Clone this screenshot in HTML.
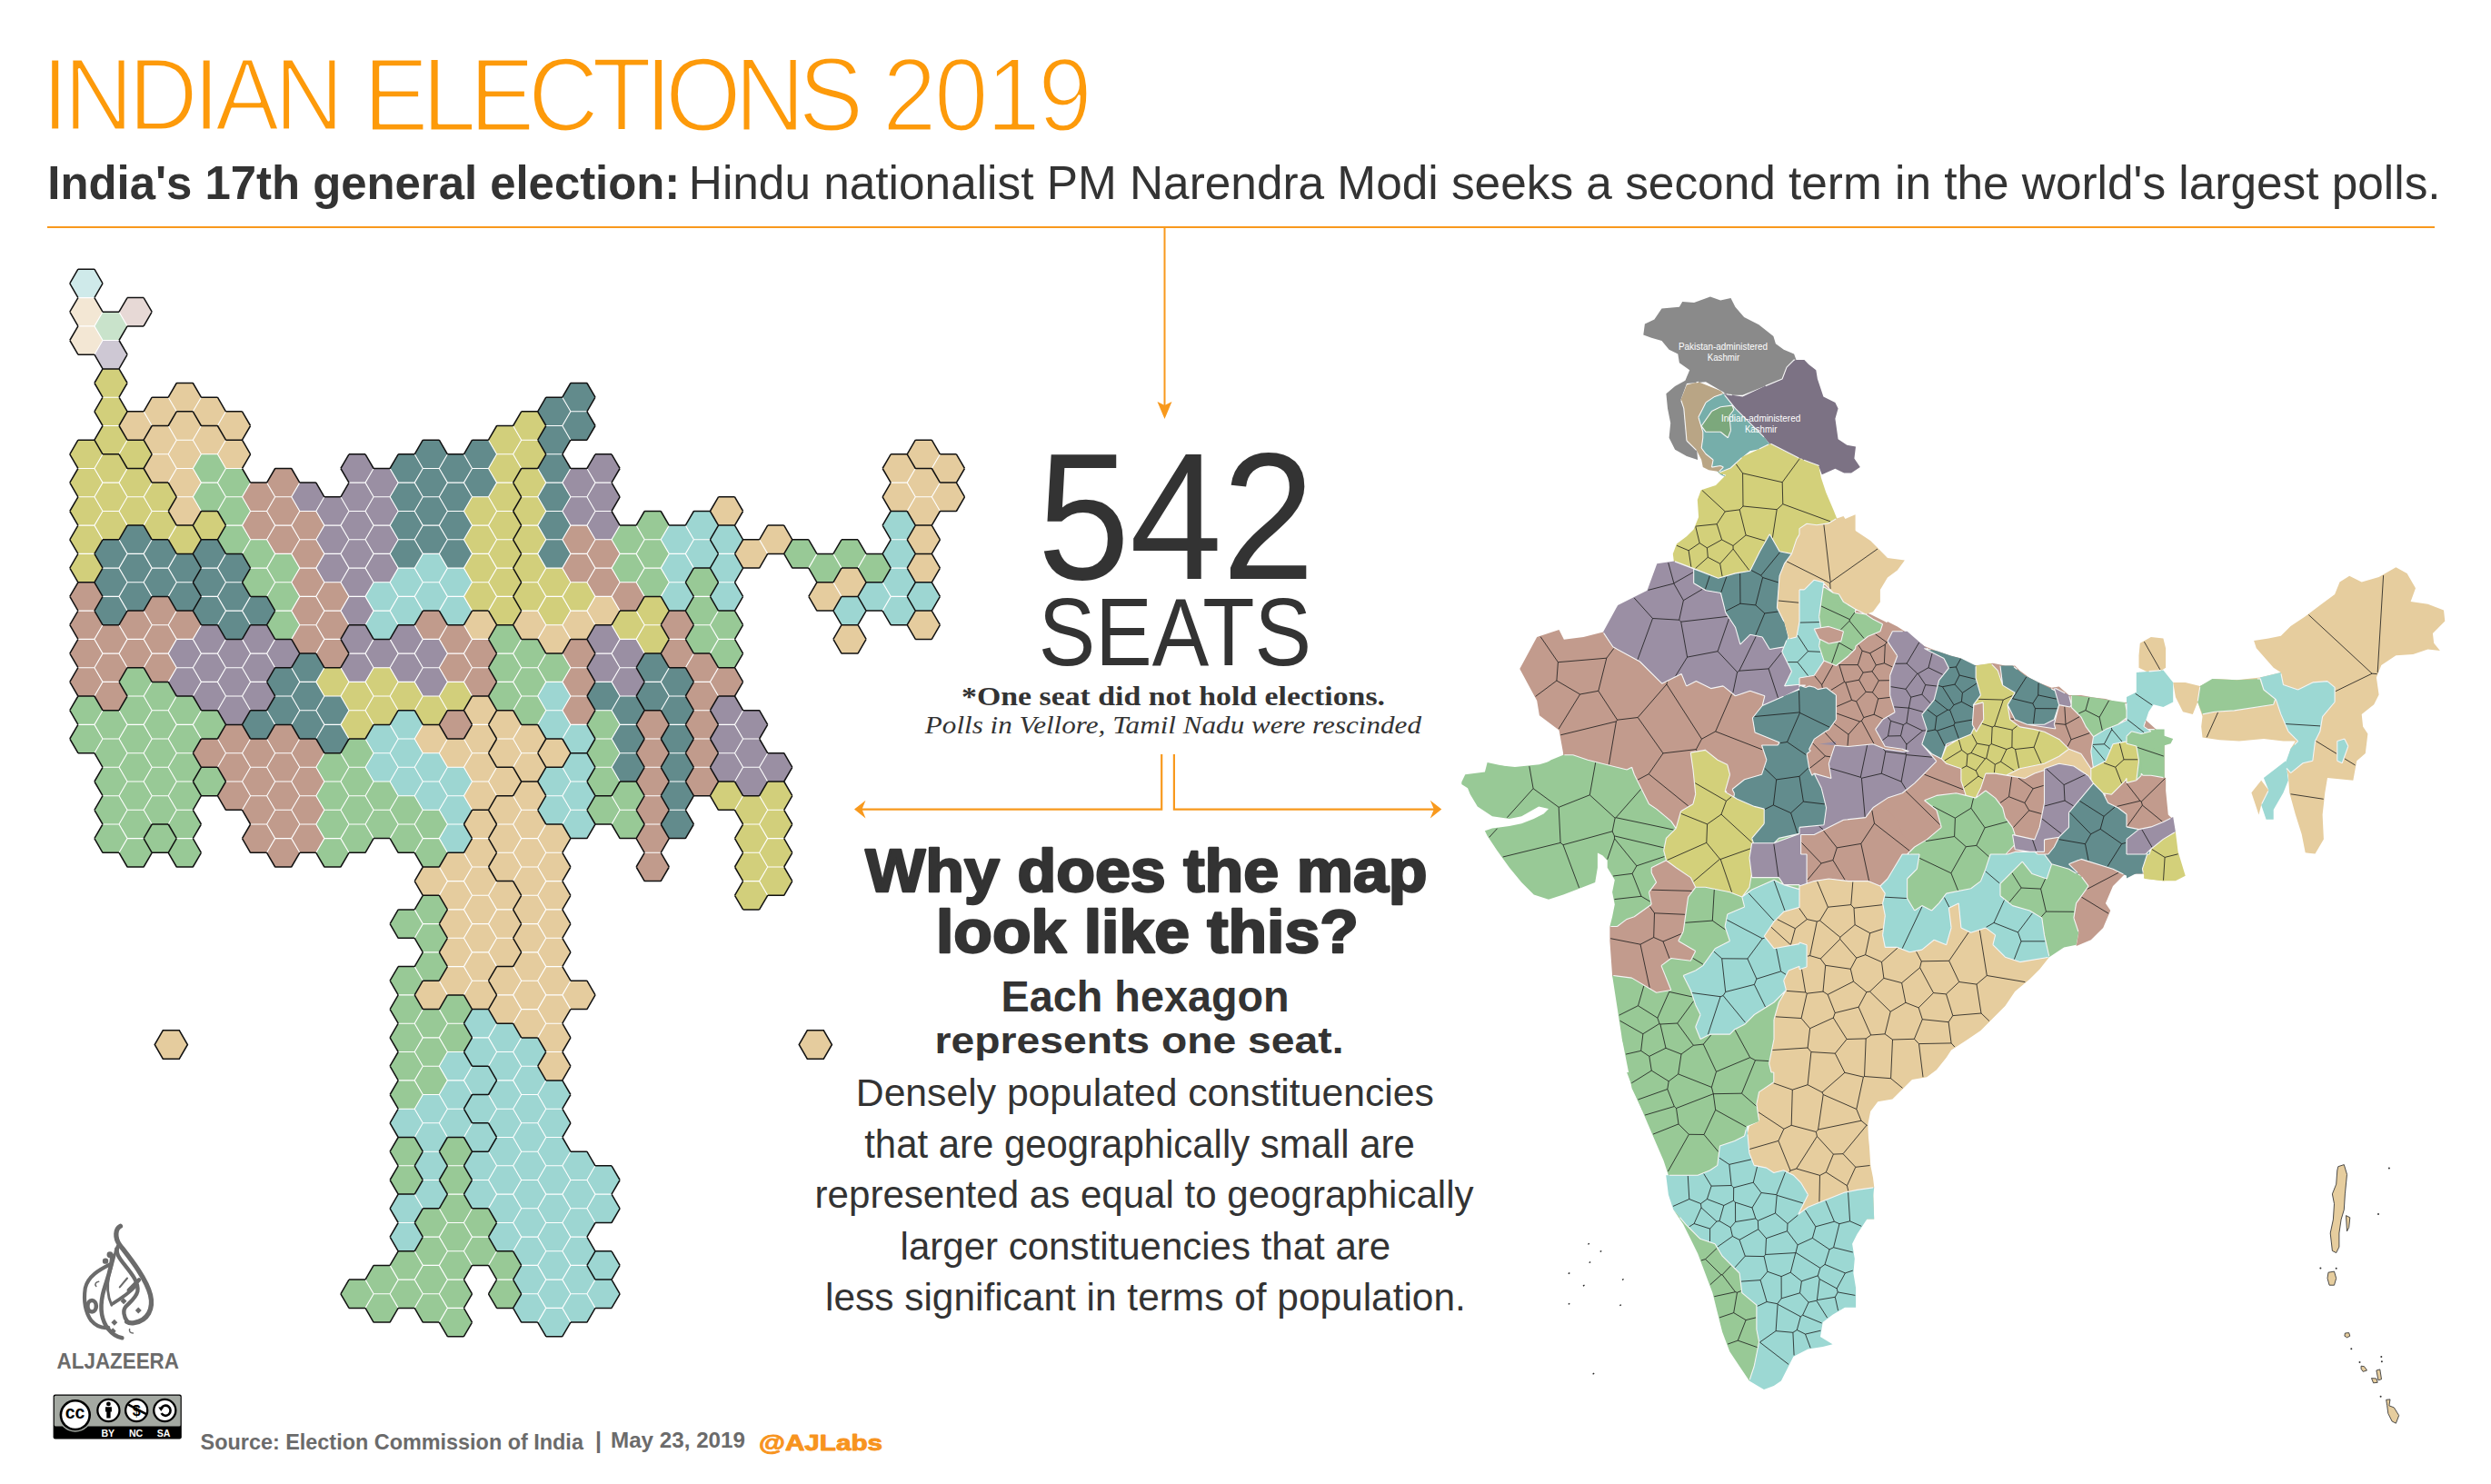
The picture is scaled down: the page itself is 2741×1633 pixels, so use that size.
<!DOCTYPE html>
<html><head><meta charset="utf-8"><title>Indian Elections 2019</title>
<style>
html,body{margin:0;padding:0;background:#fff;}
body{width:2741px;height:1633px;overflow:hidden;position:relative;}
svg{position:absolute;left:0;top:0;}
.s{font-family:"Liberation Sans",Arial,sans-serif;}
.sf{font-family:"Liberation Serif","Times New Roman",serif;}
</style></head><body>
<svg width="2741" height="1633" viewBox="0 0 2741 1633">
<!-- header -->
<line x1="52" y1="250" x2="2679" y2="250" stroke="#f8991d" stroke-width="2"/>
<line x1="1281.5" y1="250" x2="1281.5" y2="446" stroke="#f8991d" stroke-width="2"/>
<path d="M1273.5 442L1281.5 461L1289.5 442L1281.5 446Z" fill="#f8991d"/>
<!-- center -->
<path d="M1278.2 830V890.6H948" fill="none" stroke="#f8991d" stroke-width="2.2"/>
<path d="M1291.9 830V890.6H1578" fill="none" stroke="#f8991d" stroke-width="2.2"/>
<path d="M940 890.6L952.5 880.8L948.5 890.6L952.5 900.4Z" fill="#f8991d"/>
<path d="M1586.3 890.6L1573.8 880.8L1577.8 890.6L1573.8 900.4Z" fill="#f8991d"/>
<!-- footer -->
<g class="s" font-weight="bold">
<text x="655" y="1594" font-size="25" fill="#6b6b6b">|</text>
</g>
<g transform="translate(46.00 0) scale(0.9300 1)"><text class="s" x="0.00" y="142.80" font-size="113.79" fill="#fd9a0a" stroke="#fff" stroke-width="3.00" stroke-linejoin="round" textLength="357.41" lengthAdjust="spacing">INDIAN</text></g>
<g transform="translate(399.80 0) scale(0.9300 1)"><text class="s" x="0.00" y="144.20" font-size="115.67" fill="#fd9a0a" stroke="#fff" stroke-width="3.00" stroke-linejoin="round" textLength="592.03" lengthAdjust="spacing">ELECTIONS</text></g>
<g transform="translate(971.00 0) scale(0.9300 1)"><text class="s" x="0.00" y="144.20" font-size="115.17" fill="#fd9a0a" stroke="#fff" stroke-width="3.00" stroke-linejoin="round" textLength="248.25" lengthAdjust="spacing">2019</text></g>
<text class="s" x="52.30" y="218.50" font-size="51.64" fill="#333" font-weight="bold" textLength="696.00" lengthAdjust="spacingAndGlyphs">India's 17th general election:</text>
<text class="s" x="757.80" y="218.50" font-size="51.64" fill="#333" textLength="1927.80" lengthAdjust="spacingAndGlyphs">Hindu nationalist PM Narendra Modi seeks a second term in the world's largest polls.</text>
<text class="s" x="1141.40" y="637.20" font-size="199.30" fill="#333" textLength="305.20" lengthAdjust="spacingAndGlyphs">542</text>
<text class="s" x="1142.80" y="731.80" font-size="105.00" fill="#333" textLength="300.20" lengthAdjust="spacingAndGlyphs">SEATS</text>
<text class="sf" x="1058.00" y="775.50" font-size="29.07" fill="#333" font-weight="bold" textLength="466.00" lengthAdjust="spacingAndGlyphs">*One seat did not hold elections.</text>
<text class="sf" x="1017.80" y="807.30" font-size="27.29" fill="#333" font-style="italic" textLength="546.20" lengthAdjust="spacingAndGlyphs">Polls in Vellore, Tamil Nadu were rescinded</text>
<text class="s" x="952.20" y="980.80" font-size="65.82" fill="#333" font-weight="bold" stroke="#333" stroke-width="2.40" stroke-linejoin="round" textLength="618.40" lengthAdjust="spacingAndGlyphs">Why does the map</text>
<text class="s" x="1030.00" y="1047.60" font-size="66.72" fill="#333" font-weight="bold" stroke="#333" stroke-width="2.40" stroke-linejoin="round" textLength="464.80" lengthAdjust="spacingAndGlyphs">look like this?</text>
<text class="s" x="1101.60" y="1112.70" font-size="47.18" fill="#333" font-weight="bold" textLength="317.00" lengthAdjust="spacingAndGlyphs">Each hexagon</text>
<text class="s" x="1028.40" y="1158.50" font-size="39.77" fill="#333" font-weight="bold" textLength="450.20" lengthAdjust="spacingAndGlyphs">represents one seat.</text>
<text class="s" x="941.80" y="1216.50" font-size="42.36" fill="#333" textLength="636.00" lengthAdjust="spacingAndGlyphs">Densely populated constituencies</text>
<text class="s" x="951.20" y="1273.50" font-size="43.69" fill="#333" textLength="605.60" lengthAdjust="spacingAndGlyphs">that are geographically small are</text>
<text class="s" x="896.60" y="1329.10" font-size="42.36" fill="#333" textLength="725.00" lengthAdjust="spacingAndGlyphs">represented as equal to geographically</text>
<text class="s" x="990.60" y="1385.70" font-size="42.36" fill="#333" textLength="539.60" lengthAdjust="spacingAndGlyphs">larger constituencies that are</text>
<text class="s" x="908.00" y="1441.90" font-size="42.36" fill="#333" textLength="704.80" lengthAdjust="spacingAndGlyphs">less significant in terms of population.</text>
<text class="s" x="220.60" y="1594.50" font-size="24.44" fill="#6b6b6b" font-weight="bold" textLength="421.30" lengthAdjust="spacingAndGlyphs">Source: Election Commission of India</text>
<text class="s" x="672.00" y="1592.50" font-size="23.22" fill="#6b6b6b" font-weight="bold" textLength="148.00" lengthAdjust="spacingAndGlyphs">May 23, 2019</text>
<text class="s" x="835.00" y="1596.00" font-size="23.52" fill="#f7941e" font-weight="bold" stroke="#f7941e" stroke-width="0.90" stroke-linejoin="round" textLength="136.00" lengthAdjust="spacingAndGlyphs">@AJLabs</text>
<text class="s" x="62.60" y="1506.10" font-size="24.00" fill="#6b6b6b" font-weight="bold" textLength="134.30" lengthAdjust="spacingAndGlyphs">ALJAZEERA</text>
<!-- hexmap -->
<g id="hex">
<path fill="#cfeaea" d="M113 311.9L103.9 327.6L85.9 327.6L76.8 311.9L85.9 296.2L103.9 296.2Z"/>
<path fill="#f3e7d4" d="M113 343.2L103.9 358.9L85.9 358.9L76.8 343.2L85.9 327.6L103.9 327.6ZM113 374.5L103.9 390.2L85.9 390.2L76.8 374.5L85.9 358.9L103.9 358.9Z"/>
<path fill="#d2cf7b" d="M113 499.8L103.9 515.5L85.9 515.5L76.8 499.8L85.9 484.2L103.9 484.2ZM113 531.1L103.9 546.8L85.9 546.8L76.8 531.1L85.9 515.5L103.9 515.5ZM113 562.5L103.9 578.1L85.9 578.1L76.8 562.5L85.9 546.8L103.9 546.8ZM113 593.8L103.9 609.4L85.9 609.4L76.8 593.8L85.9 578.1L103.9 578.1ZM113 625.1L103.9 640.8L85.9 640.8L76.8 625.1L85.9 609.4L103.9 609.4ZM140.1 421.5L131 437.2L113 437.2L103.9 421.5L113 405.9L131 405.9ZM140.1 452.8L131 468.5L113 468.5L103.9 452.8L113 437.2L131 437.2ZM140.1 484.2L131 499.8L113 499.8L103.9 484.2L113 468.5L131 468.5ZM140.1 515.5L131 531.1L113 531.1L103.9 515.5L113 499.8L131 499.8ZM140.1 546.8L131 562.5L113 562.5L103.9 546.8L113 531.1L131 531.1ZM140.1 578.1L131 593.8L113 593.8L103.9 578.1L113 562.5L131 562.5ZM167.2 499.8L158.1 515.5L140.1 515.5L131 499.8L140.1 484.2L158.1 484.2ZM167.2 531.1L158.1 546.8L140.1 546.8L131 531.1L140.1 515.5L158.1 515.5ZM167.2 562.5L158.1 578.1L140.1 578.1L131 562.5L140.1 546.8L158.1 546.8ZM194.3 546.8L185.2 562.5L167.2 562.5L158.1 546.8L167.2 531.1L185.2 531.1ZM194.3 578.1L185.2 593.8L167.2 593.8L158.1 578.1L167.2 562.5L185.2 562.5ZM221.4 593.8L212.3 609.4L194.3 609.4L185.2 593.8L194.3 578.1L212.3 578.1ZM248.5 578.1L239.4 593.8L221.4 593.8L212.3 578.1L221.4 562.5L239.4 562.5ZM384 750.4L374.9 766L356.9 766L347.8 750.4L356.9 734.7L374.9 734.7ZM411.1 766L402 781.7L384 781.7L374.9 766L384 750.4L402 750.4ZM411.1 797.4L402 813L384 813L374.9 797.4L384 781.7L402 781.7ZM438.2 750.4L429.1 766L411.1 766L402 750.4L411.1 734.7L429.1 734.7ZM438.2 781.7L429.1 797.4L411.1 797.4L402 781.7L411.1 766L429.1 766ZM465.3 766L456.2 781.7L438.2 781.7L429.1 766L438.2 750.4L456.2 750.4ZM492.4 781.7L483.3 797.4L465.3 797.4L456.2 781.7L465.3 766L483.3 766ZM519.5 766L510.4 781.7L492.4 781.7L483.3 766L492.4 750.4L510.4 750.4ZM546.6 562.5L537.5 578.1L519.5 578.1L510.4 562.5L519.5 546.8L537.5 546.8ZM546.6 593.8L537.5 609.4L519.5 609.4L510.4 593.8L519.5 578.1L537.5 578.1ZM546.6 625.1L537.5 640.8L519.5 640.8L510.4 625.1L519.5 609.4L537.5 609.4ZM546.6 656.4L537.5 672.1L519.5 672.1L510.4 656.4L519.5 640.8L537.5 640.8ZM573.7 484.2L564.6 499.8L546.6 499.8L537.5 484.2L546.6 468.5L564.6 468.5ZM573.7 515.5L564.6 531.1L546.6 531.1L537.5 515.5L546.6 499.8L564.6 499.8ZM573.7 546.8L564.6 562.5L546.6 562.5L537.5 546.8L546.6 531.1L564.6 531.1ZM573.7 578.1L564.6 593.8L546.6 593.8L537.5 578.1L546.6 562.5L564.6 562.5ZM573.7 609.4L564.6 625.1L546.6 625.1L537.5 609.4L546.6 593.8L564.6 593.8ZM573.7 640.8L564.6 656.4L546.6 656.4L537.5 640.8L546.6 625.1L564.6 625.1ZM573.7 672.1L564.6 687.7L546.6 687.7L537.5 672.1L546.6 656.4L564.6 656.4ZM600.8 468.5L591.7 484.2L573.7 484.2L564.6 468.5L573.7 452.8L591.7 452.8ZM600.8 499.8L591.7 515.5L573.7 515.5L564.6 499.8L573.7 484.2L591.7 484.2ZM600.8 531.1L591.7 546.8L573.7 546.8L564.6 531.1L573.7 515.5L591.7 515.5ZM600.8 562.5L591.7 578.1L573.7 578.1L564.6 562.5L573.7 546.8L591.7 546.8ZM600.8 593.8L591.7 609.4L573.7 609.4L564.6 593.8L573.7 578.1L591.7 578.1ZM600.8 625.1L591.7 640.8L573.7 640.8L564.6 625.1L573.7 609.4L591.7 609.4ZM600.8 656.4L591.7 672.1L573.7 672.1L564.6 656.4L573.7 640.8L591.7 640.8ZM627.9 640.8L618.8 656.4L600.8 656.4L591.7 640.8L600.8 625.1L618.8 625.1ZM627.9 672.1L618.8 687.7L600.8 687.7L591.7 672.1L600.8 656.4L618.8 656.4ZM655 656.4L645.9 672.1L627.9 672.1L618.8 656.4L627.9 640.8L645.9 640.8ZM709.2 687.7L700.1 703.4L682.1 703.4L673 687.7L682.1 672.1L700.1 672.1ZM736.3 672.1L727.2 687.7L709.2 687.7L700.1 672.1L709.2 656.4L727.2 656.4ZM736.3 703.4L727.2 719.1L709.2 719.1L700.1 703.4L709.2 687.7L727.2 687.7ZM817.6 875.7L808.5 891.3L790.5 891.3L781.4 875.7L790.5 860L808.5 860ZM844.7 891.3L835.6 907L817.6 907L808.5 891.3L817.6 875.7L835.6 875.7ZM844.7 922.6L835.6 938.3L817.6 938.3L808.5 922.6L817.6 907L835.6 907ZM844.7 954L835.6 969.6L817.6 969.6L808.5 954L817.6 938.3L835.6 938.3ZM844.7 985.3L835.6 1000.9L817.6 1000.9L808.5 985.3L817.6 969.6L835.6 969.6ZM871.8 875.7L862.7 891.3L844.7 891.3L835.6 875.7L844.7 860L862.7 860ZM871.8 907L862.7 922.6L844.7 922.6L835.6 907L844.7 891.3L862.7 891.3ZM871.8 938.3L862.7 954L844.7 954L835.6 938.3L844.7 922.6L862.7 922.6ZM871.8 969.6L862.7 985.3L844.7 985.3L835.6 969.6L844.7 954L862.7 954Z"/>
<path fill="#c19b8c" d="M113 656.4L103.9 672.1L85.9 672.1L76.8 656.4L85.9 640.8L103.9 640.8ZM113 687.7L103.9 703.4L85.9 703.4L76.8 687.7L85.9 672.1L103.9 672.1ZM113 719.1L103.9 734.7L85.9 734.7L76.8 719.1L85.9 703.4L103.9 703.4ZM113 750.4L103.9 766L85.9 766L76.8 750.4L85.9 734.7L103.9 734.7ZM140.1 703.4L131 719.1L113 719.1L103.9 703.4L113 687.7L131 687.7ZM140.1 734.7L131 750.4L113 750.4L103.9 734.7L113 719.1L131 719.1ZM140.1 766L131 781.7L113 781.7L103.9 766L113 750.4L131 750.4ZM167.2 687.7L158.1 703.4L140.1 703.4L131 687.7L140.1 672.1L158.1 672.1ZM167.2 719.1L158.1 734.7L140.1 734.7L131 719.1L140.1 703.4L158.1 703.4ZM194.3 672.1L185.2 687.7L167.2 687.7L158.1 672.1L167.2 656.4L185.2 656.4ZM194.3 703.4L185.2 719.1L167.2 719.1L158.1 703.4L167.2 687.7L185.2 687.7ZM194.3 734.7L185.2 750.4L167.2 750.4L158.1 734.7L167.2 719.1L185.2 719.1ZM221.4 687.7L212.3 703.4L194.3 703.4L185.2 687.7L194.3 672.1L212.3 672.1ZM248.5 828.7L239.4 844.3L221.4 844.3L212.3 828.7L221.4 813L239.4 813ZM275.6 813L266.5 828.7L248.5 828.7L239.4 813L248.5 797.4L266.5 797.4ZM275.6 844.3L266.5 860L248.5 860L239.4 844.3L248.5 828.7L266.5 828.7ZM275.6 875.7L266.5 891.3L248.5 891.3L239.4 875.7L248.5 860L266.5 860ZM302.7 546.8L293.6 562.5L275.6 562.5L266.5 546.8L275.6 531.1L293.6 531.1ZM302.7 578.1L293.6 593.8L275.6 593.8L266.5 578.1L275.6 562.5L293.6 562.5ZM302.7 828.7L293.6 844.3L275.6 844.3L266.5 828.7L275.6 813L293.6 813ZM302.7 860L293.6 875.7L275.6 875.7L266.5 860L275.6 844.3L293.6 844.3ZM302.7 891.3L293.6 907L275.6 907L266.5 891.3L275.6 875.7L293.6 875.7ZM302.7 922.6L293.6 938.3L275.6 938.3L266.5 922.6L275.6 907L293.6 907ZM329.8 531.1L320.7 546.8L302.7 546.8L293.6 531.1L302.7 515.5L320.7 515.5ZM329.8 562.5L320.7 578.1L302.7 578.1L293.6 562.5L302.7 546.8L320.7 546.8ZM329.8 593.8L320.7 609.4L302.7 609.4L293.6 593.8L302.7 578.1L320.7 578.1ZM329.8 813L320.7 828.7L302.7 828.7L293.6 813L302.7 797.4L320.7 797.4ZM329.8 844.3L320.7 860L302.7 860L293.6 844.3L302.7 828.7L320.7 828.7ZM329.8 875.7L320.7 891.3L302.7 891.3L293.6 875.7L302.7 860L320.7 860ZM329.8 907L320.7 922.6L302.7 922.6L293.6 907L302.7 891.3L320.7 891.3ZM329.8 938.3L320.7 954L302.7 954L293.6 938.3L302.7 922.6L320.7 922.6ZM356.9 578.1L347.8 593.8L329.8 593.8L320.7 578.1L329.8 562.5L347.8 562.5ZM356.9 609.4L347.8 625.1L329.8 625.1L320.7 609.4L329.8 593.8L347.8 593.8ZM356.9 640.8L347.8 656.4L329.8 656.4L320.7 640.8L329.8 625.1L347.8 625.1ZM356.9 672.1L347.8 687.7L329.8 687.7L320.7 672.1L329.8 656.4L347.8 656.4ZM356.9 703.4L347.8 719.1L329.8 719.1L320.7 703.4L329.8 687.7L347.8 687.7ZM356.9 828.7L347.8 844.3L329.8 844.3L320.7 828.7L329.8 813L347.8 813ZM356.9 860L347.8 875.7L329.8 875.7L320.7 860L329.8 844.3L347.8 844.3ZM356.9 891.3L347.8 907L329.8 907L320.7 891.3L329.8 875.7L347.8 875.7ZM356.9 922.6L347.8 938.3L329.8 938.3L320.7 922.6L329.8 907L347.8 907ZM384 656.4L374.9 672.1L356.9 672.1L347.8 656.4L356.9 640.8L374.9 640.8ZM384 687.7L374.9 703.4L356.9 703.4L347.8 687.7L356.9 672.1L374.9 672.1ZM384 719.1L374.9 734.7L356.9 734.7L347.8 719.1L356.9 703.4L374.9 703.4ZM492.4 687.7L483.3 703.4L465.3 703.4L456.2 687.7L465.3 672.1L483.3 672.1ZM519.5 703.4L510.4 719.1L492.4 719.1L483.3 703.4L492.4 687.7L510.4 687.7ZM519.5 734.7L510.4 750.4L492.4 750.4L483.3 734.7L492.4 719.1L510.4 719.1ZM519.5 797.4L510.4 813L492.4 813L483.3 797.4L492.4 781.7L510.4 781.7ZM546.6 719.1L537.5 734.7L519.5 734.7L510.4 719.1L519.5 703.4L537.5 703.4ZM546.6 750.4L537.5 766L519.5 766L510.4 750.4L519.5 734.7L537.5 734.7ZM655 593.8L645.9 609.4L627.9 609.4L618.8 593.8L627.9 578.1L645.9 578.1ZM655 625.1L645.9 640.8L627.9 640.8L618.8 625.1L627.9 609.4L645.9 609.4ZM655 719.1L645.9 734.7L627.9 734.7L618.8 719.1L627.9 703.4L645.9 703.4ZM655 750.4L645.9 766L627.9 766L618.8 750.4L627.9 734.7L645.9 734.7ZM655 781.7L645.9 797.4L627.9 797.4L618.8 781.7L627.9 766L645.9 766ZM682.1 609.4L673 625.1L655 625.1L645.9 609.4L655 593.8L673 593.8ZM682.1 640.8L673 656.4L655 656.4L645.9 640.8L655 625.1L673 625.1ZM709.2 656.4L700.1 672.1L682.1 672.1L673 656.4L682.1 640.8L700.1 640.8ZM736.3 797.4L727.2 813L709.2 813L700.1 797.4L709.2 781.7L727.2 781.7ZM736.3 828.7L727.2 844.3L709.2 844.3L700.1 828.7L709.2 813L727.2 813ZM736.3 860L727.2 875.7L709.2 875.7L700.1 860L709.2 844.3L727.2 844.3ZM736.3 891.3L727.2 907L709.2 907L700.1 891.3L709.2 875.7L727.2 875.7ZM736.3 922.6L727.2 938.3L709.2 938.3L700.1 922.6L709.2 907L727.2 907ZM736.3 954L727.2 969.6L709.2 969.6L700.1 954L709.2 938.3L727.2 938.3ZM763.4 687.7L754.3 703.4L736.3 703.4L727.2 687.7L736.3 672.1L754.3 672.1ZM763.4 719.1L754.3 734.7L736.3 734.7L727.2 719.1L736.3 703.4L754.3 703.4ZM790.5 734.7L781.4 750.4L763.4 750.4L754.3 734.7L763.4 719.1L781.4 719.1ZM790.5 766L781.4 781.7L763.4 781.7L754.3 766L763.4 750.4L781.4 750.4ZM790.5 797.4L781.4 813L763.4 813L754.3 797.4L763.4 781.7L781.4 781.7ZM790.5 828.7L781.4 844.3L763.4 844.3L754.3 828.7L763.4 813L781.4 813ZM790.5 860L781.4 875.7L763.4 875.7L754.3 860L763.4 844.3L781.4 844.3ZM817.6 750.4L808.5 766L790.5 766L781.4 750.4L790.5 734.7L808.5 734.7Z"/>
<path fill="#98c996" d="M113 781.7L103.9 797.4L85.9 797.4L76.8 781.7L85.9 766L103.9 766ZM113 813L103.9 828.7L85.9 828.7L76.8 813L85.9 797.4L103.9 797.4ZM140.1 797.4L131 813L113 813L103.9 797.4L113 781.7L131 781.7ZM140.1 828.7L131 844.3L113 844.3L103.9 828.7L113 813L131 813ZM140.1 860L131 875.7L113 875.7L103.9 860L113 844.3L131 844.3ZM140.1 891.3L131 907L113 907L103.9 891.3L113 875.7L131 875.7ZM140.1 922.6L131 938.3L113 938.3L103.9 922.6L113 907L131 907ZM167.2 750.4L158.1 766L140.1 766L131 750.4L140.1 734.7L158.1 734.7ZM167.2 781.7L158.1 797.4L140.1 797.4L131 781.7L140.1 766L158.1 766ZM167.2 813L158.1 828.7L140.1 828.7L131 813L140.1 797.4L158.1 797.4ZM167.2 844.3L158.1 860L140.1 860L131 844.3L140.1 828.7L158.1 828.7ZM167.2 875.7L158.1 891.3L140.1 891.3L131 875.7L140.1 860L158.1 860ZM167.2 907L158.1 922.6L140.1 922.6L131 907L140.1 891.3L158.1 891.3ZM167.2 938.3L158.1 954L140.1 954L131 938.3L140.1 922.6L158.1 922.6ZM194.3 766L185.2 781.7L167.2 781.7L158.1 766L167.2 750.4L185.2 750.4ZM194.3 797.4L185.2 813L167.2 813L158.1 797.4L167.2 781.7L185.2 781.7ZM194.3 828.7L185.2 844.3L167.2 844.3L158.1 828.7L167.2 813L185.2 813ZM194.3 860L185.2 875.7L167.2 875.7L158.1 860L167.2 844.3L185.2 844.3ZM194.3 891.3L185.2 907L167.2 907L158.1 891.3L167.2 875.7L185.2 875.7ZM194.3 922.6L185.2 938.3L167.2 938.3L158.1 922.6L167.2 907L185.2 907ZM221.4 781.7L212.3 797.4L194.3 797.4L185.2 781.7L194.3 766L212.3 766ZM221.4 813L212.3 828.7L194.3 828.7L185.2 813L194.3 797.4L212.3 797.4ZM221.4 844.3L212.3 860L194.3 860L185.2 844.3L194.3 828.7L212.3 828.7ZM221.4 875.7L212.3 891.3L194.3 891.3L185.2 875.7L194.3 860L212.3 860ZM221.4 907L212.3 922.6L194.3 922.6L185.2 907L194.3 891.3L212.3 891.3ZM221.4 938.3L212.3 954L194.3 954L185.2 938.3L194.3 922.6L212.3 922.6ZM248.5 515.5L239.4 531.1L221.4 531.1L212.3 515.5L221.4 499.8L239.4 499.8ZM248.5 546.8L239.4 562.5L221.4 562.5L212.3 546.8L221.4 531.1L239.4 531.1ZM248.5 797.4L239.4 813L221.4 813L212.3 797.4L221.4 781.7L239.4 781.7ZM248.5 860L239.4 875.7L221.4 875.7L212.3 860L221.4 844.3L239.4 844.3ZM275.6 531.1L266.5 546.8L248.5 546.8L239.4 531.1L248.5 515.5L266.5 515.5ZM275.6 562.5L266.5 578.1L248.5 578.1L239.4 562.5L248.5 546.8L266.5 546.8ZM275.6 593.8L266.5 609.4L248.5 609.4L239.4 593.8L248.5 578.1L266.5 578.1ZM302.7 609.4L293.6 625.1L275.6 625.1L266.5 609.4L275.6 593.8L293.6 593.8ZM302.7 640.8L293.6 656.4L275.6 656.4L266.5 640.8L275.6 625.1L293.6 625.1ZM329.8 625.1L320.7 640.8L302.7 640.8L293.6 625.1L302.7 609.4L320.7 609.4ZM329.8 656.4L320.7 672.1L302.7 672.1L293.6 656.4L302.7 640.8L320.7 640.8ZM329.8 687.7L320.7 703.4L302.7 703.4L293.6 687.7L302.7 672.1L320.7 672.1ZM384 844.3L374.9 860L356.9 860L347.8 844.3L356.9 828.7L374.9 828.7ZM384 875.7L374.9 891.3L356.9 891.3L347.8 875.7L356.9 860L374.9 860ZM384 907L374.9 922.6L356.9 922.6L347.8 907L356.9 891.3L374.9 891.3ZM384 938.3L374.9 954L356.9 954L347.8 938.3L356.9 922.6L374.9 922.6ZM411.1 828.7L402 844.3L384 844.3L374.9 828.7L384 813L402 813ZM411.1 860L402 875.7L384 875.7L374.9 860L384 844.3L402 844.3ZM411.1 891.3L402 907L384 907L374.9 891.3L384 875.7L402 875.7ZM411.1 922.6L402 938.3L384 938.3L374.9 922.6L384 907L402 907ZM411.1 1423.8L402 1439.4L384 1439.4L374.9 1423.8L384 1408.1L402 1408.1ZM438.2 875.7L429.1 891.3L411.1 891.3L402 875.7L411.1 860L429.1 860ZM438.2 907L429.1 922.6L411.1 922.6L402 907L411.1 891.3L429.1 891.3ZM438.2 1408.1L429.1 1423.8L411.1 1423.8L402 1408.1L411.1 1392.4L429.1 1392.4ZM438.2 1439.4L429.1 1455.1L411.1 1455.1L402 1439.4L411.1 1423.8L429.1 1423.8ZM465.3 891.3L456.2 907L438.2 907L429.1 891.3L438.2 875.7L456.2 875.7ZM465.3 922.6L456.2 938.3L438.2 938.3L429.1 922.6L438.2 907L456.2 907ZM465.3 1016.6L456.2 1032.3L438.2 1032.3L429.1 1016.6L438.2 1000.9L456.2 1000.9ZM465.3 1079.2L456.2 1094.9L438.2 1094.9L429.1 1079.2L438.2 1063.6L456.2 1063.6ZM465.3 1110.6L456.2 1126.2L438.2 1126.2L429.1 1110.6L438.2 1094.9L456.2 1094.9ZM465.3 1141.9L456.2 1157.5L438.2 1157.5L429.1 1141.9L438.2 1126.2L456.2 1126.2ZM465.3 1173.2L456.2 1188.9L438.2 1188.9L429.1 1173.2L438.2 1157.5L456.2 1157.5ZM465.3 1204.5L456.2 1220.2L438.2 1220.2L429.1 1204.5L438.2 1188.9L456.2 1188.9ZM465.3 1267.2L456.2 1282.8L438.2 1282.8L429.1 1267.2L438.2 1251.5L456.2 1251.5ZM465.3 1298.5L456.2 1314.1L438.2 1314.1L429.1 1298.5L438.2 1282.8L456.2 1282.8ZM465.3 1392.4L456.2 1408.1L438.2 1408.1L429.1 1392.4L438.2 1376.8L456.2 1376.8ZM465.3 1423.8L456.2 1439.4L438.2 1439.4L429.1 1423.8L438.2 1408.1L456.2 1408.1ZM492.4 907L483.3 922.6L465.3 922.6L456.2 907L465.3 891.3L483.3 891.3ZM492.4 938.3L483.3 954L465.3 954L456.2 938.3L465.3 922.6L483.3 922.6ZM492.4 1000.9L483.3 1016.6L465.3 1016.6L456.2 1000.9L465.3 985.3L483.3 985.3ZM492.4 1032.3L483.3 1047.9L465.3 1047.9L456.2 1032.3L465.3 1016.6L483.3 1016.6ZM492.4 1063.6L483.3 1079.2L465.3 1079.2L456.2 1063.6L465.3 1047.9L483.3 1047.9ZM492.4 1126.2L483.3 1141.9L465.3 1141.9L456.2 1126.2L465.3 1110.6L483.3 1110.6ZM492.4 1157.5L483.3 1173.2L465.3 1173.2L456.2 1157.5L465.3 1141.9L483.3 1141.9ZM492.4 1188.9L483.3 1204.5L465.3 1204.5L456.2 1188.9L465.3 1173.2L483.3 1173.2ZM492.4 1345.5L483.3 1361.1L465.3 1361.1L456.2 1345.5L465.3 1329.8L483.3 1329.8ZM492.4 1376.8L483.3 1392.4L465.3 1392.4L456.2 1376.8L465.3 1361.1L483.3 1361.1ZM492.4 1408.1L483.3 1423.8L465.3 1423.8L456.2 1408.1L465.3 1392.4L483.3 1392.4ZM492.4 1439.4L483.3 1455.1L465.3 1455.1L456.2 1439.4L465.3 1423.8L483.3 1423.8ZM519.5 1110.6L510.4 1126.2L492.4 1126.2L483.3 1110.6L492.4 1094.9L510.4 1094.9ZM519.5 1141.9L510.4 1157.5L492.4 1157.5L483.3 1141.9L492.4 1126.2L510.4 1126.2ZM519.5 1267.2L510.4 1282.8L492.4 1282.8L483.3 1267.2L492.4 1251.5L510.4 1251.5ZM519.5 1298.5L510.4 1314.1L492.4 1314.1L483.3 1298.5L492.4 1282.8L510.4 1282.8ZM519.5 1329.8L510.4 1345.5L492.4 1345.5L483.3 1329.8L492.4 1314.1L510.4 1314.1ZM519.5 1361.1L510.4 1376.8L492.4 1376.8L483.3 1361.1L492.4 1345.5L510.4 1345.5ZM519.5 1392.4L510.4 1408.1L492.4 1408.1L483.3 1392.4L492.4 1376.8L510.4 1376.8ZM519.5 1423.8L510.4 1439.4L492.4 1439.4L483.3 1423.8L492.4 1408.1L510.4 1408.1ZM519.5 1455.1L510.4 1470.7L492.4 1470.7L483.3 1455.1L492.4 1439.4L510.4 1439.4ZM546.6 1345.5L537.5 1361.1L519.5 1361.1L510.4 1345.5L519.5 1329.8L537.5 1329.8ZM546.6 1376.8L537.5 1392.4L519.5 1392.4L510.4 1376.8L519.5 1361.1L537.5 1361.1ZM573.7 703.4L564.6 719.1L546.6 719.1L537.5 703.4L546.6 687.7L564.6 687.7ZM573.7 734.7L564.6 750.4L546.6 750.4L537.5 734.7L546.6 719.1L564.6 719.1ZM573.7 766L564.6 781.7L546.6 781.7L537.5 766L546.6 750.4L564.6 750.4ZM573.7 1392.4L564.6 1408.1L546.6 1408.1L537.5 1392.4L546.6 1376.8L564.6 1376.8ZM573.7 1423.8L564.6 1439.4L546.6 1439.4L537.5 1423.8L546.6 1408.1L564.6 1408.1ZM600.8 719.1L591.7 734.7L573.7 734.7L564.6 719.1L573.7 703.4L591.7 703.4ZM600.8 750.4L591.7 766L573.7 766L564.6 750.4L573.7 734.7L591.7 734.7ZM600.8 781.7L591.7 797.4L573.7 797.4L564.6 781.7L573.7 766L591.7 766ZM627.9 734.7L618.8 750.4L600.8 750.4L591.7 734.7L600.8 719.1L618.8 719.1ZM682.1 797.4L673 813L655 813L645.9 797.4L655 781.7L673 781.7ZM682.1 828.7L673 844.3L655 844.3L645.9 828.7L655 813L673 813ZM682.1 860L673 875.7L655 875.7L645.9 860L655 844.3L673 844.3ZM682.1 891.3L673 907L655 907L645.9 891.3L655 875.7L673 875.7ZM709.2 593.8L700.1 609.4L682.1 609.4L673 593.8L682.1 578.1L700.1 578.1ZM709.2 625.1L700.1 640.8L682.1 640.8L673 625.1L682.1 609.4L700.1 609.4ZM709.2 875.7L700.1 891.3L682.1 891.3L673 875.7L682.1 860L700.1 860ZM709.2 907L700.1 922.6L682.1 922.6L673 907L682.1 891.3L700.1 891.3ZM736.3 578.1L727.2 593.8L709.2 593.8L700.1 578.1L709.2 562.5L727.2 562.5ZM736.3 609.4L727.2 625.1L709.2 625.1L700.1 609.4L709.2 593.8L727.2 593.8ZM736.3 640.8L727.2 656.4L709.2 656.4L700.1 640.8L709.2 625.1L727.2 625.1ZM790.5 640.8L781.4 656.4L763.4 656.4L754.3 640.8L763.4 625.1L781.4 625.1ZM790.5 672.1L781.4 687.7L763.4 687.7L754.3 672.1L763.4 656.4L781.4 656.4ZM790.5 703.4L781.4 719.1L763.4 719.1L754.3 703.4L763.4 687.7L781.4 687.7ZM817.6 687.7L808.5 703.4L790.5 703.4L781.4 687.7L790.5 672.1L808.5 672.1ZM817.6 719.1L808.5 734.7L790.5 734.7L781.4 719.1L790.5 703.4L808.5 703.4ZM898.9 609.4L889.8 625.1L871.8 625.1L862.7 609.4L871.8 593.8L889.8 593.8ZM926 625.1L916.9 640.8L898.9 640.8L889.8 625.1L898.9 609.4L916.9 609.4ZM953.1 609.4L944 625.1L926 625.1L916.9 609.4L926 593.8L944 593.8ZM980.2 625.1L971.1 640.8L953.1 640.8L944 625.1L953.1 609.4L971.1 609.4Z"/>
<path fill="#c9e3cb" d="M140.1 358.9L131 374.5L113 374.5L103.9 358.9L113 343.2L131 343.2Z"/>
<path fill="#cec8d4" d="M140.1 390.2L131 405.9L113 405.9L103.9 390.2L113 374.5L131 374.5Z"/>
<path fill="#628b8c" d="M140.1 609.4L131 625.1L113 625.1L103.9 609.4L113 593.8L131 593.8ZM140.1 640.8L131 656.4L113 656.4L103.9 640.8L113 625.1L131 625.1ZM140.1 672.1L131 687.7L113 687.7L103.9 672.1L113 656.4L131 656.4ZM167.2 593.8L158.1 609.4L140.1 609.4L131 593.8L140.1 578.1L158.1 578.1ZM167.2 625.1L158.1 640.8L140.1 640.8L131 625.1L140.1 609.4L158.1 609.4ZM167.2 656.4L158.1 672.1L140.1 672.1L131 656.4L140.1 640.8L158.1 640.8ZM194.3 609.4L185.2 625.1L167.2 625.1L158.1 609.4L167.2 593.8L185.2 593.8ZM194.3 640.8L185.2 656.4L167.2 656.4L158.1 640.8L167.2 625.1L185.2 625.1ZM221.4 625.1L212.3 640.8L194.3 640.8L185.2 625.1L194.3 609.4L212.3 609.4ZM221.4 656.4L212.3 672.1L194.3 672.1L185.2 656.4L194.3 640.8L212.3 640.8ZM248.5 609.4L239.4 625.1L221.4 625.1L212.3 609.4L221.4 593.8L239.4 593.8ZM248.5 640.8L239.4 656.4L221.4 656.4L212.3 640.8L221.4 625.1L239.4 625.1ZM248.5 672.1L239.4 687.7L221.4 687.7L212.3 672.1L221.4 656.4L239.4 656.4ZM275.6 625.1L266.5 640.8L248.5 640.8L239.4 625.1L248.5 609.4L266.5 609.4ZM275.6 656.4L266.5 672.1L248.5 672.1L239.4 656.4L248.5 640.8L266.5 640.8ZM275.6 687.7L266.5 703.4L248.5 703.4L239.4 687.7L248.5 672.1L266.5 672.1ZM302.7 672.1L293.6 687.7L275.6 687.7L266.5 672.1L275.6 656.4L293.6 656.4ZM302.7 797.4L293.6 813L275.6 813L266.5 797.4L275.6 781.7L293.6 781.7ZM329.8 750.4L320.7 766L302.7 766L293.6 750.4L302.7 734.7L320.7 734.7ZM329.8 781.7L320.7 797.4L302.7 797.4L293.6 781.7L302.7 766L320.7 766ZM356.9 734.7L347.8 750.4L329.8 750.4L320.7 734.7L329.8 719.1L347.8 719.1ZM356.9 766L347.8 781.7L329.8 781.7L320.7 766L329.8 750.4L347.8 750.4ZM356.9 797.4L347.8 813L329.8 813L320.7 797.4L329.8 781.7L347.8 781.7ZM384 781.7L374.9 797.4L356.9 797.4L347.8 781.7L356.9 766L374.9 766ZM384 813L374.9 828.7L356.9 828.7L347.8 813L356.9 797.4L374.9 797.4ZM465.3 515.5L456.2 531.1L438.2 531.1L429.1 515.5L438.2 499.8L456.2 499.8ZM465.3 546.8L456.2 562.5L438.2 562.5L429.1 546.8L438.2 531.1L456.2 531.1ZM465.3 578.1L456.2 593.8L438.2 593.8L429.1 578.1L438.2 562.5L456.2 562.5ZM465.3 609.4L456.2 625.1L438.2 625.1L429.1 609.4L438.2 593.8L456.2 593.8ZM492.4 499.8L483.3 515.5L465.3 515.5L456.2 499.8L465.3 484.2L483.3 484.2ZM492.4 531.1L483.3 546.8L465.3 546.8L456.2 531.1L465.3 515.5L483.3 515.5ZM492.4 562.5L483.3 578.1L465.3 578.1L456.2 562.5L465.3 546.8L483.3 546.8ZM492.4 593.8L483.3 609.4L465.3 609.4L456.2 593.8L465.3 578.1L483.3 578.1ZM519.5 515.5L510.4 531.1L492.4 531.1L483.3 515.5L492.4 499.8L510.4 499.8ZM519.5 546.8L510.4 562.5L492.4 562.5L483.3 546.8L492.4 531.1L510.4 531.1ZM519.5 578.1L510.4 593.8L492.4 593.8L483.3 578.1L492.4 562.5L510.4 562.5ZM519.5 609.4L510.4 625.1L492.4 625.1L483.3 609.4L492.4 593.8L510.4 593.8ZM546.6 499.8L537.5 515.5L519.5 515.5L510.4 499.8L519.5 484.2L537.5 484.2ZM546.6 531.1L537.5 546.8L519.5 546.8L510.4 531.1L519.5 515.5L537.5 515.5ZM627.9 452.8L618.8 468.5L600.8 468.5L591.7 452.8L600.8 437.2L618.8 437.2ZM627.9 484.2L618.8 499.8L600.8 499.8L591.7 484.2L600.8 468.5L618.8 468.5ZM627.9 515.5L618.8 531.1L600.8 531.1L591.7 515.5L600.8 499.8L618.8 499.8ZM627.9 546.8L618.8 562.5L600.8 562.5L591.7 546.8L600.8 531.1L618.8 531.1ZM627.9 578.1L618.8 593.8L600.8 593.8L591.7 578.1L600.8 562.5L618.8 562.5ZM627.9 609.4L618.8 625.1L600.8 625.1L591.7 609.4L600.8 593.8L618.8 593.8ZM655 437.2L645.9 452.8L627.9 452.8L618.8 437.2L627.9 421.5L645.9 421.5ZM655 468.5L645.9 484.2L627.9 484.2L618.8 468.5L627.9 452.8L645.9 452.8ZM682.1 766L673 781.7L655 781.7L645.9 766L655 750.4L673 750.4ZM709.2 781.7L700.1 797.4L682.1 797.4L673 781.7L682.1 766L700.1 766ZM709.2 813L700.1 828.7L682.1 828.7L673 813L682.1 797.4L700.1 797.4ZM709.2 844.3L700.1 860L682.1 860L673 844.3L682.1 828.7L700.1 828.7ZM736.3 734.7L727.2 750.4L709.2 750.4L700.1 734.7L709.2 719.1L727.2 719.1ZM736.3 766L727.2 781.7L709.2 781.7L700.1 766L709.2 750.4L727.2 750.4ZM763.4 750.4L754.3 766L736.3 766L727.2 750.4L736.3 734.7L754.3 734.7ZM763.4 781.7L754.3 797.4L736.3 797.4L727.2 781.7L736.3 766L754.3 766ZM763.4 813L754.3 828.7L736.3 828.7L727.2 813L736.3 797.4L754.3 797.4ZM763.4 844.3L754.3 860L736.3 860L727.2 844.3L736.3 828.7L754.3 828.7ZM763.4 875.7L754.3 891.3L736.3 891.3L727.2 875.7L736.3 860L754.3 860ZM763.4 907L754.3 922.6L736.3 922.6L727.2 907L736.3 891.3L754.3 891.3Z"/>
<path fill="#e7d9d6" d="M167.2 343.2L158.1 358.9L140.1 358.9L131 343.2L140.1 327.6L158.1 327.6Z"/>
<path fill="#e5cc9e" d="M167.2 468.5L158.1 484.2L140.1 484.2L131 468.5L140.1 452.8L158.1 452.8ZM194.3 452.8L185.2 468.5L167.2 468.5L158.1 452.8L167.2 437.2L185.2 437.2ZM194.3 484.2L185.2 499.8L167.2 499.8L158.1 484.2L167.2 468.5L185.2 468.5ZM194.3 515.5L185.2 531.1L167.2 531.1L158.1 515.5L167.2 499.8L185.2 499.8ZM221.4 437.2L212.3 452.8L194.3 452.8L185.2 437.2L194.3 421.5L212.3 421.5ZM221.4 468.5L212.3 484.2L194.3 484.2L185.2 468.5L194.3 452.8L212.3 452.8ZM221.4 499.8L212.3 515.5L194.3 515.5L185.2 499.8L194.3 484.2L212.3 484.2ZM221.4 531.1L212.3 546.8L194.3 546.8L185.2 531.1L194.3 515.5L212.3 515.5ZM221.4 562.5L212.3 578.1L194.3 578.1L185.2 562.5L194.3 546.8L212.3 546.8ZM248.5 452.8L239.4 468.5L221.4 468.5L212.3 452.8L221.4 437.2L239.4 437.2ZM248.5 484.2L239.4 499.8L221.4 499.8L212.3 484.2L221.4 468.5L239.4 468.5ZM275.6 468.5L266.5 484.2L248.5 484.2L239.4 468.5L248.5 452.8L266.5 452.8ZM275.6 499.8L266.5 515.5L248.5 515.5L239.4 499.8L248.5 484.2L266.5 484.2ZM492.4 813L483.3 828.7L465.3 828.7L456.2 813L465.3 797.4L483.3 797.4ZM492.4 969.6L483.3 985.3L465.3 985.3L456.2 969.6L465.3 954L483.3 954ZM492.4 1094.9L483.3 1110.6L465.3 1110.6L456.2 1094.9L465.3 1079.2L483.3 1079.2ZM519.5 828.7L510.4 844.3L492.4 844.3L483.3 828.7L492.4 813L510.4 813ZM519.5 954L510.4 969.6L492.4 969.6L483.3 954L492.4 938.3L510.4 938.3ZM519.5 985.3L510.4 1000.9L492.4 1000.9L483.3 985.3L492.4 969.6L510.4 969.6ZM519.5 1016.6L510.4 1032.3L492.4 1032.3L483.3 1016.6L492.4 1000.9L510.4 1000.9ZM519.5 1047.9L510.4 1063.6L492.4 1063.6L483.3 1047.9L492.4 1032.3L510.4 1032.3ZM519.5 1079.2L510.4 1094.9L492.4 1094.9L483.3 1079.2L492.4 1063.6L510.4 1063.6ZM546.6 687.7L537.5 703.4L519.5 703.4L510.4 687.7L519.5 672.1L537.5 672.1ZM546.6 781.7L537.5 797.4L519.5 797.4L510.4 781.7L519.5 766L537.5 766ZM546.6 813L537.5 828.7L519.5 828.7L510.4 813L519.5 797.4L537.5 797.4ZM546.6 844.3L537.5 860L519.5 860L510.4 844.3L519.5 828.7L537.5 828.7ZM546.6 875.7L537.5 891.3L519.5 891.3L510.4 875.7L519.5 860L537.5 860ZM546.6 907L537.5 922.6L519.5 922.6L510.4 907L519.5 891.3L537.5 891.3ZM546.6 938.3L537.5 954L519.5 954L510.4 938.3L519.5 922.6L537.5 922.6ZM546.6 969.6L537.5 985.3L519.5 985.3L510.4 969.6L519.5 954L537.5 954ZM546.6 1000.9L537.5 1016.6L519.5 1016.6L510.4 1000.9L519.5 985.3L537.5 985.3ZM546.6 1032.3L537.5 1047.9L519.5 1047.9L510.4 1032.3L519.5 1016.6L537.5 1016.6ZM546.6 1063.6L537.5 1079.2L519.5 1079.2L510.4 1063.6L519.5 1047.9L537.5 1047.9ZM546.6 1094.9L537.5 1110.6L519.5 1110.6L510.4 1094.9L519.5 1079.2L537.5 1079.2ZM573.7 797.4L564.6 813L546.6 813L537.5 797.4L546.6 781.7L564.6 781.7ZM573.7 828.7L564.6 844.3L546.6 844.3L537.5 828.7L546.6 813L564.6 813ZM573.7 860L564.6 875.7L546.6 875.7L537.5 860L546.6 844.3L564.6 844.3ZM573.7 891.3L564.6 907L546.6 907L537.5 891.3L546.6 875.7L564.6 875.7ZM573.7 922.6L564.6 938.3L546.6 938.3L537.5 922.6L546.6 907L564.6 907ZM573.7 954L564.6 969.6L546.6 969.6L537.5 954L546.6 938.3L564.6 938.3ZM573.7 985.3L564.6 1000.9L546.6 1000.9L537.5 985.3L546.6 969.6L564.6 969.6ZM573.7 1016.6L564.6 1032.3L546.6 1032.3L537.5 1016.6L546.6 1000.9L564.6 1000.9ZM573.7 1047.9L564.6 1063.6L546.6 1063.6L537.5 1047.9L546.6 1032.3L564.6 1032.3ZM573.7 1079.2L564.6 1094.9L546.6 1094.9L537.5 1079.2L546.6 1063.6L564.6 1063.6ZM573.7 1110.6L564.6 1126.2L546.6 1126.2L537.5 1110.6L546.6 1094.9L564.6 1094.9ZM600.8 687.7L591.7 703.4L573.7 703.4L564.6 687.7L573.7 672.1L591.7 672.1ZM600.8 813L591.7 828.7L573.7 828.7L564.6 813L573.7 797.4L591.7 797.4ZM600.8 844.3L591.7 860L573.7 860L564.6 844.3L573.7 828.7L591.7 828.7ZM600.8 875.7L591.7 891.3L573.7 891.3L564.6 875.7L573.7 860L591.7 860ZM600.8 907L591.7 922.6L573.7 922.6L564.6 907L573.7 891.3L591.7 891.3ZM600.8 938.3L591.7 954L573.7 954L564.6 938.3L573.7 922.6L591.7 922.6ZM600.8 969.6L591.7 985.3L573.7 985.3L564.6 969.6L573.7 954L591.7 954ZM600.8 1000.9L591.7 1016.6L573.7 1016.6L564.6 1000.9L573.7 985.3L591.7 985.3ZM600.8 1032.3L591.7 1047.9L573.7 1047.9L564.6 1032.3L573.7 1016.6L591.7 1016.6ZM600.8 1063.6L591.7 1079.2L573.7 1079.2L564.6 1063.6L573.7 1047.9L591.7 1047.9ZM600.8 1094.9L591.7 1110.6L573.7 1110.6L564.6 1094.9L573.7 1079.2L591.7 1079.2ZM600.8 1126.2L591.7 1141.9L573.7 1141.9L564.6 1126.2L573.7 1110.6L591.7 1110.6ZM627.9 703.4L618.8 719.1L600.8 719.1L591.7 703.4L600.8 687.7L618.8 687.7ZM627.9 828.7L618.8 844.3L600.8 844.3L591.7 828.7L600.8 813L618.8 813ZM627.9 922.6L618.8 938.3L600.8 938.3L591.7 922.6L600.8 907L618.8 907ZM627.9 954L618.8 969.6L600.8 969.6L591.7 954L600.8 938.3L618.8 938.3ZM627.9 985.3L618.8 1000.9L600.8 1000.9L591.7 985.3L600.8 969.6L618.8 969.6ZM627.9 1016.6L618.8 1032.3L600.8 1032.3L591.7 1016.6L600.8 1000.9L618.8 1000.9ZM627.9 1047.9L618.8 1063.6L600.8 1063.6L591.7 1047.9L600.8 1032.3L618.8 1032.3ZM627.9 1079.2L618.8 1094.9L600.8 1094.9L591.7 1079.2L600.8 1063.6L618.8 1063.6ZM627.9 1110.6L618.8 1126.2L600.8 1126.2L591.7 1110.6L600.8 1094.9L618.8 1094.9ZM627.9 1141.9L618.8 1157.5L600.8 1157.5L591.7 1141.9L600.8 1126.2L618.8 1126.2ZM627.9 1173.2L618.8 1188.9L600.8 1188.9L591.7 1173.2L600.8 1157.5L618.8 1157.5ZM655 687.7L645.9 703.4L627.9 703.4L618.8 687.7L627.9 672.1L645.9 672.1ZM655 1094.9L645.9 1110.6L627.9 1110.6L618.8 1094.9L627.9 1079.2L645.9 1079.2ZM682.1 672.1L673 687.7L655 687.7L645.9 672.1L655 656.4L673 656.4ZM817.6 562.5L808.5 578.1L790.5 578.1L781.4 562.5L790.5 546.8L808.5 546.8ZM844.7 609.4L835.6 625.1L817.6 625.1L808.5 609.4L817.6 593.8L835.6 593.8ZM871.8 593.8L862.7 609.4L844.7 609.4L835.6 593.8L844.7 578.1L862.7 578.1ZM926 656.4L916.9 672.1L898.9 672.1L889.8 656.4L898.9 640.8L916.9 640.8ZM953.1 640.8L944 656.4L926 656.4L916.9 640.8L926 625.1L944 625.1ZM953.1 703.4L944 719.1L926 719.1L916.9 703.4L926 687.7L944 687.7ZM1007.3 515.5L998.2 531.1L980.2 531.1L971.1 515.5L980.2 499.8L998.2 499.8ZM1007.3 546.8L998.2 562.5L980.2 562.5L971.1 546.8L980.2 531.1L998.2 531.1ZM1034.4 499.8L1025.3 515.5L1007.3 515.5L998.2 499.8L1007.3 484.2L1025.3 484.2ZM1034.4 531.1L1025.3 546.8L1007.3 546.8L998.2 531.1L1007.3 515.5L1025.3 515.5ZM1034.4 562.5L1025.3 578.1L1007.3 578.1L998.2 562.5L1007.3 546.8L1025.3 546.8ZM1034.4 593.8L1025.3 609.4L1007.3 609.4L998.2 593.8L1007.3 578.1L1025.3 578.1ZM1034.4 625.1L1025.3 640.8L1007.3 640.8L998.2 625.1L1007.3 609.4L1025.3 609.4ZM1034.4 687.7L1025.3 703.4L1007.3 703.4L998.2 687.7L1007.3 672.1L1025.3 672.1ZM1061.5 515.5L1052.4 531.1L1034.4 531.1L1025.3 515.5L1034.4 499.8L1052.4 499.8ZM1061.5 546.8L1052.4 562.5L1034.4 562.5L1025.3 546.8L1034.4 531.1L1052.4 531.1Z"/>
<path fill="#9a8fa3" d="M221.4 719.1L212.3 734.7L194.3 734.7L185.2 719.1L194.3 703.4L212.3 703.4ZM221.4 750.4L212.3 766L194.3 766L185.2 750.4L194.3 734.7L212.3 734.7ZM248.5 703.4L239.4 719.1L221.4 719.1L212.3 703.4L221.4 687.7L239.4 687.7ZM248.5 734.7L239.4 750.4L221.4 750.4L212.3 734.7L221.4 719.1L239.4 719.1ZM248.5 766L239.4 781.7L221.4 781.7L212.3 766L221.4 750.4L239.4 750.4ZM275.6 719.1L266.5 734.7L248.5 734.7L239.4 719.1L248.5 703.4L266.5 703.4ZM275.6 750.4L266.5 766L248.5 766L239.4 750.4L248.5 734.7L266.5 734.7ZM275.6 781.7L266.5 797.4L248.5 797.4L239.4 781.7L248.5 766L266.5 766ZM302.7 703.4L293.6 719.1L275.6 719.1L266.5 703.4L275.6 687.7L293.6 687.7ZM302.7 734.7L293.6 750.4L275.6 750.4L266.5 734.7L275.6 719.1L293.6 719.1ZM302.7 766L293.6 781.7L275.6 781.7L266.5 766L275.6 750.4L293.6 750.4ZM329.8 719.1L320.7 734.7L302.7 734.7L293.6 719.1L302.7 703.4L320.7 703.4ZM356.9 546.8L347.8 562.5L329.8 562.5L320.7 546.8L329.8 531.1L347.8 531.1ZM384 562.5L374.9 578.1L356.9 578.1L347.8 562.5L356.9 546.8L374.9 546.8ZM384 593.8L374.9 609.4L356.9 609.4L347.8 593.8L356.9 578.1L374.9 578.1ZM384 625.1L374.9 640.8L356.9 640.8L347.8 625.1L356.9 609.4L374.9 609.4ZM411.1 515.5L402 531.1L384 531.1L374.9 515.5L384 499.8L402 499.8ZM411.1 546.8L402 562.5L384 562.5L374.9 546.8L384 531.1L402 531.1ZM411.1 578.1L402 593.8L384 593.8L374.9 578.1L384 562.5L402 562.5ZM411.1 609.4L402 625.1L384 625.1L374.9 609.4L384 593.8L402 593.8ZM411.1 640.8L402 656.4L384 656.4L374.9 640.8L384 625.1L402 625.1ZM411.1 672.1L402 687.7L384 687.7L374.9 672.1L384 656.4L402 656.4ZM411.1 703.4L402 719.1L384 719.1L374.9 703.4L384 687.7L402 687.7ZM411.1 734.7L402 750.4L384 750.4L374.9 734.7L384 719.1L402 719.1ZM438.2 531.1L429.1 546.8L411.1 546.8L402 531.1L411.1 515.5L429.1 515.5ZM438.2 562.5L429.1 578.1L411.1 578.1L402 562.5L411.1 546.8L429.1 546.8ZM438.2 593.8L429.1 609.4L411.1 609.4L402 593.8L411.1 578.1L429.1 578.1ZM438.2 625.1L429.1 640.8L411.1 640.8L402 625.1L411.1 609.4L429.1 609.4ZM438.2 719.1L429.1 734.7L411.1 734.7L402 719.1L411.1 703.4L429.1 703.4ZM465.3 703.4L456.2 719.1L438.2 719.1L429.1 703.4L438.2 687.7L456.2 687.7ZM465.3 734.7L456.2 750.4L438.2 750.4L429.1 734.7L438.2 719.1L456.2 719.1ZM492.4 719.1L483.3 734.7L465.3 734.7L456.2 719.1L465.3 703.4L483.3 703.4ZM492.4 750.4L483.3 766L465.3 766L456.2 750.4L465.3 734.7L483.3 734.7ZM655 531.1L645.9 546.8L627.9 546.8L618.8 531.1L627.9 515.5L645.9 515.5ZM655 562.5L645.9 578.1L627.9 578.1L618.8 562.5L627.9 546.8L645.9 546.8ZM682.1 515.5L673 531.1L655 531.1L645.9 515.5L655 499.8L673 499.8ZM682.1 546.8L673 562.5L655 562.5L645.9 546.8L655 531.1L673 531.1ZM682.1 578.1L673 593.8L655 593.8L645.9 578.1L655 562.5L673 562.5ZM682.1 703.4L673 719.1L655 719.1L645.9 703.4L655 687.7L673 687.7ZM682.1 734.7L673 750.4L655 750.4L645.9 734.7L655 719.1L673 719.1ZM709.2 719.1L700.1 734.7L682.1 734.7L673 719.1L682.1 703.4L700.1 703.4ZM709.2 750.4L700.1 766L682.1 766L673 750.4L682.1 734.7L700.1 734.7ZM817.6 781.7L808.5 797.4L790.5 797.4L781.4 781.7L790.5 766L808.5 766ZM817.6 813L808.5 828.7L790.5 828.7L781.4 813L790.5 797.4L808.5 797.4ZM817.6 844.3L808.5 860L790.5 860L781.4 844.3L790.5 828.7L808.5 828.7ZM844.7 797.4L835.6 813L817.6 813L808.5 797.4L817.6 781.7L835.6 781.7ZM844.7 828.7L835.6 844.3L817.6 844.3L808.5 828.7L817.6 813L835.6 813ZM844.7 860L835.6 875.7L817.6 875.7L808.5 860L817.6 844.3L835.6 844.3ZM871.8 844.3L862.7 860L844.7 860L835.6 844.3L844.7 828.7L862.7 828.7Z"/>
<path fill="#9dd6d2" d="M438.2 656.4L429.1 672.1L411.1 672.1L402 656.4L411.1 640.8L429.1 640.8ZM438.2 687.7L429.1 703.4L411.1 703.4L402 687.7L411.1 672.1L429.1 672.1ZM438.2 813L429.1 828.7L411.1 828.7L402 813L411.1 797.4L429.1 797.4ZM438.2 844.3L429.1 860L411.1 860L402 844.3L411.1 828.7L429.1 828.7ZM465.3 640.8L456.2 656.4L438.2 656.4L429.1 640.8L438.2 625.1L456.2 625.1ZM465.3 672.1L456.2 687.7L438.2 687.7L429.1 672.1L438.2 656.4L456.2 656.4ZM465.3 797.4L456.2 813L438.2 813L429.1 797.4L438.2 781.7L456.2 781.7ZM465.3 828.7L456.2 844.3L438.2 844.3L429.1 828.7L438.2 813L456.2 813ZM465.3 860L456.2 875.7L438.2 875.7L429.1 860L438.2 844.3L456.2 844.3ZM465.3 1235.8L456.2 1251.5L438.2 1251.5L429.1 1235.8L438.2 1220.2L456.2 1220.2ZM465.3 1329.8L456.2 1345.5L438.2 1345.5L429.1 1329.8L438.2 1314.1L456.2 1314.1ZM465.3 1361.1L456.2 1376.8L438.2 1376.8L429.1 1361.1L438.2 1345.5L456.2 1345.5ZM492.4 625.1L483.3 640.8L465.3 640.8L456.2 625.1L465.3 609.4L483.3 609.4ZM492.4 656.4L483.3 672.1L465.3 672.1L456.2 656.4L465.3 640.8L483.3 640.8ZM492.4 844.3L483.3 860L465.3 860L456.2 844.3L465.3 828.7L483.3 828.7ZM492.4 875.7L483.3 891.3L465.3 891.3L456.2 875.7L465.3 860L483.3 860ZM492.4 1220.2L483.3 1235.8L465.3 1235.8L456.2 1220.2L465.3 1204.5L483.3 1204.5ZM492.4 1251.5L483.3 1267.2L465.3 1267.2L456.2 1251.5L465.3 1235.8L483.3 1235.8ZM492.4 1282.8L483.3 1298.5L465.3 1298.5L456.2 1282.8L465.3 1267.2L483.3 1267.2ZM492.4 1314.1L483.3 1329.8L465.3 1329.8L456.2 1314.1L465.3 1298.5L483.3 1298.5ZM519.5 640.8L510.4 656.4L492.4 656.4L483.3 640.8L492.4 625.1L510.4 625.1ZM519.5 672.1L510.4 687.7L492.4 687.7L483.3 672.1L492.4 656.4L510.4 656.4ZM519.5 860L510.4 875.7L492.4 875.7L483.3 860L492.4 844.3L510.4 844.3ZM519.5 891.3L510.4 907L492.4 907L483.3 891.3L492.4 875.7L510.4 875.7ZM519.5 922.6L510.4 938.3L492.4 938.3L483.3 922.6L492.4 907L510.4 907ZM519.5 1173.2L510.4 1188.9L492.4 1188.9L483.3 1173.2L492.4 1157.5L510.4 1157.5ZM519.5 1204.5L510.4 1220.2L492.4 1220.2L483.3 1204.5L492.4 1188.9L510.4 1188.9ZM519.5 1235.8L510.4 1251.5L492.4 1251.5L483.3 1235.8L492.4 1220.2L510.4 1220.2ZM546.6 1126.2L537.5 1141.9L519.5 1141.9L510.4 1126.2L519.5 1110.6L537.5 1110.6ZM546.6 1157.5L537.5 1173.2L519.5 1173.2L510.4 1157.5L519.5 1141.9L537.5 1141.9ZM546.6 1188.9L537.5 1204.5L519.5 1204.5L510.4 1188.9L519.5 1173.2L537.5 1173.2ZM546.6 1220.2L537.5 1235.8L519.5 1235.8L510.4 1220.2L519.5 1204.5L537.5 1204.5ZM546.6 1251.5L537.5 1267.2L519.5 1267.2L510.4 1251.5L519.5 1235.8L537.5 1235.8ZM546.6 1282.8L537.5 1298.5L519.5 1298.5L510.4 1282.8L519.5 1267.2L537.5 1267.2ZM546.6 1314.1L537.5 1329.8L519.5 1329.8L510.4 1314.1L519.5 1298.5L537.5 1298.5ZM573.7 1141.9L564.6 1157.5L546.6 1157.5L537.5 1141.9L546.6 1126.2L564.6 1126.2ZM573.7 1173.2L564.6 1188.9L546.6 1188.9L537.5 1173.2L546.6 1157.5L564.6 1157.5ZM573.7 1204.5L564.6 1220.2L546.6 1220.2L537.5 1204.5L546.6 1188.9L564.6 1188.9ZM573.7 1235.8L564.6 1251.5L546.6 1251.5L537.5 1235.8L546.6 1220.2L564.6 1220.2ZM573.7 1267.2L564.6 1282.8L546.6 1282.8L537.5 1267.2L546.6 1251.5L564.6 1251.5ZM573.7 1298.5L564.6 1314.1L546.6 1314.1L537.5 1298.5L546.6 1282.8L564.6 1282.8ZM573.7 1329.8L564.6 1345.5L546.6 1345.5L537.5 1329.8L546.6 1314.1L564.6 1314.1ZM573.7 1361.1L564.6 1376.8L546.6 1376.8L537.5 1361.1L546.6 1345.5L564.6 1345.5ZM600.8 1157.5L591.7 1173.2L573.7 1173.2L564.6 1157.5L573.7 1141.9L591.7 1141.9ZM600.8 1188.9L591.7 1204.5L573.7 1204.5L564.6 1188.9L573.7 1173.2L591.7 1173.2ZM600.8 1220.2L591.7 1235.8L573.7 1235.8L564.6 1220.2L573.7 1204.5L591.7 1204.5ZM600.8 1251.5L591.7 1267.2L573.7 1267.2L564.6 1251.5L573.7 1235.8L591.7 1235.8ZM600.8 1282.8L591.7 1298.5L573.7 1298.5L564.6 1282.8L573.7 1267.2L591.7 1267.2ZM600.8 1314.1L591.7 1329.8L573.7 1329.8L564.6 1314.1L573.7 1298.5L591.7 1298.5ZM600.8 1345.5L591.7 1361.1L573.7 1361.1L564.6 1345.5L573.7 1329.8L591.7 1329.8ZM600.8 1376.8L591.7 1392.4L573.7 1392.4L564.6 1376.8L573.7 1361.1L591.7 1361.1ZM600.8 1408.1L591.7 1423.8L573.7 1423.8L564.6 1408.1L573.7 1392.4L591.7 1392.4ZM600.8 1439.4L591.7 1455.1L573.7 1455.1L564.6 1439.4L573.7 1423.8L591.7 1423.8ZM627.9 766L618.8 781.7L600.8 781.7L591.7 766L600.8 750.4L618.8 750.4ZM627.9 797.4L618.8 813L600.8 813L591.7 797.4L600.8 781.7L618.8 781.7ZM627.9 860L618.8 875.7L600.8 875.7L591.7 860L600.8 844.3L618.8 844.3ZM627.9 891.3L618.8 907L600.8 907L591.7 891.3L600.8 875.7L618.8 875.7ZM627.9 1204.5L618.8 1220.2L600.8 1220.2L591.7 1204.5L600.8 1188.9L618.8 1188.9ZM627.9 1235.8L618.8 1251.5L600.8 1251.5L591.7 1235.8L600.8 1220.2L618.8 1220.2ZM627.9 1267.2L618.8 1282.8L600.8 1282.8L591.7 1267.2L600.8 1251.5L618.8 1251.5ZM627.9 1298.5L618.8 1314.1L600.8 1314.1L591.7 1298.5L600.8 1282.8L618.8 1282.8ZM627.9 1329.8L618.8 1345.5L600.8 1345.5L591.7 1329.8L600.8 1314.1L618.8 1314.1ZM627.9 1361.1L618.8 1376.8L600.8 1376.8L591.7 1361.1L600.8 1345.5L618.8 1345.5ZM627.9 1392.4L618.8 1408.1L600.8 1408.1L591.7 1392.4L600.8 1376.8L618.8 1376.8ZM627.9 1423.8L618.8 1439.4L600.8 1439.4L591.7 1423.8L600.8 1408.1L618.8 1408.1ZM627.9 1455.1L618.8 1470.7L600.8 1470.7L591.7 1455.1L600.8 1439.4L618.8 1439.4ZM655 813L645.9 828.7L627.9 828.7L618.8 813L627.9 797.4L645.9 797.4ZM655 844.3L645.9 860L627.9 860L618.8 844.3L627.9 828.7L645.9 828.7ZM655 875.7L645.9 891.3L627.9 891.3L618.8 875.7L627.9 860L645.9 860ZM655 907L645.9 922.6L627.9 922.6L618.8 907L627.9 891.3L645.9 891.3ZM655 1282.8L645.9 1298.5L627.9 1298.5L618.8 1282.8L627.9 1267.2L645.9 1267.2ZM655 1314.1L645.9 1329.8L627.9 1329.8L618.8 1314.1L627.9 1298.5L645.9 1298.5ZM655 1345.5L645.9 1361.1L627.9 1361.1L618.8 1345.5L627.9 1329.8L645.9 1329.8ZM655 1376.8L645.9 1392.4L627.9 1392.4L618.8 1376.8L627.9 1361.1L645.9 1361.1ZM655 1408.1L645.9 1423.8L627.9 1423.8L618.8 1408.1L627.9 1392.4L645.9 1392.4ZM655 1439.4L645.9 1455.1L627.9 1455.1L618.8 1439.4L627.9 1423.8L645.9 1423.8ZM682.1 1298.5L673 1314.1L655 1314.1L645.9 1298.5L655 1282.8L673 1282.8ZM682.1 1329.8L673 1345.5L655 1345.5L645.9 1329.8L655 1314.1L673 1314.1ZM682.1 1392.4L673 1408.1L655 1408.1L645.9 1392.4L655 1376.8L673 1376.8ZM682.1 1423.8L673 1439.4L655 1439.4L645.9 1423.8L655 1408.1L673 1408.1ZM763.4 593.8L754.3 609.4L736.3 609.4L727.2 593.8L736.3 578.1L754.3 578.1ZM763.4 625.1L754.3 640.8L736.3 640.8L727.2 625.1L736.3 609.4L754.3 609.4ZM763.4 656.4L754.3 672.1L736.3 672.1L727.2 656.4L736.3 640.8L754.3 640.8ZM790.5 578.1L781.4 593.8L763.4 593.8L754.3 578.1L763.4 562.5L781.4 562.5ZM790.5 609.4L781.4 625.1L763.4 625.1L754.3 609.4L763.4 593.8L781.4 593.8ZM817.6 593.8L808.5 609.4L790.5 609.4L781.4 593.8L790.5 578.1L808.5 578.1ZM817.6 625.1L808.5 640.8L790.5 640.8L781.4 625.1L790.5 609.4L808.5 609.4ZM817.6 656.4L808.5 672.1L790.5 672.1L781.4 656.4L790.5 640.8L808.5 640.8ZM953.1 672.1L944 687.7L926 687.7L916.9 672.1L926 656.4L944 656.4ZM980.2 656.4L971.1 672.1L953.1 672.1L944 656.4L953.1 640.8L971.1 640.8ZM1007.3 578.1L998.2 593.8L980.2 593.8L971.1 578.1L980.2 562.5L998.2 562.5ZM1007.3 609.4L998.2 625.1L980.2 625.1L971.1 609.4L980.2 593.8L998.2 593.8ZM1007.3 640.8L998.2 656.4L980.2 656.4L971.1 640.8L980.2 625.1L998.2 625.1ZM1007.3 672.1L998.2 687.7L980.2 687.7L971.1 672.1L980.2 656.4L998.2 656.4ZM1034.4 656.4L1025.3 672.1L1007.3 672.1L998.2 656.4L1007.3 640.8L1025.3 640.8Z"/>
<path fill="none" stroke="#fff" stroke-width="1.1" d="M103.9 327.6L85.9 327.6M113 343.2L103.9 358.9M103.9 358.9L85.9 358.9M113 374.5L103.9 390.2M103.9 358.9L113 374.5M113 499.8L103.9 515.5M103.9 515.5L85.9 515.5M113 531.1L103.9 546.8M103.9 546.8L85.9 546.8M103.9 515.5L113 531.1M113 562.5L103.9 578.1M103.9 578.1L85.9 578.1M103.9 546.8L113 562.5M103.9 609.4L85.9 609.4M103.9 578.1L113 593.8M103.9 672.1L85.9 672.1M113 687.7L103.9 703.4M103.9 703.4L85.9 703.4M113 719.1L103.9 734.7M103.9 734.7L85.9 734.7M103.9 703.4L113 719.1M113 750.4L103.9 766M103.9 734.7L113 750.4M113 781.7L103.9 797.4M103.9 797.4L85.9 797.4M113 813L103.9 828.7M103.9 797.4L113 813M131 374.5L113 374.5M131 343.2L140.1 358.9M131 437.2L113 437.2M131 468.5L113 468.5M140.1 484.2L131 499.8M140.1 515.5L131 531.1M131 531.1L113 531.1M140.1 546.8L131 562.5M131 562.5L113 562.5M131 531.1L140.1 546.8M131 562.5L140.1 578.1M140.1 609.4L131 625.1M131 625.1L113 625.1M131 593.8L140.1 609.4M140.1 640.8L131 656.4M131 656.4L113 656.4M131 625.1L140.1 640.8M131 656.4L140.1 672.1M140.1 703.4L131 719.1M131 719.1L113 719.1M131 687.7L140.1 703.4M131 750.4L113 750.4M131 719.1L140.1 734.7M140.1 797.4L131 813M131 813L113 813M131 781.7L140.1 797.4M140.1 828.7L131 844.3M131 844.3L113 844.3M131 813L140.1 828.7M140.1 860L131 875.7M131 875.7L113 875.7M131 844.3L140.1 860M140.1 891.3L131 907M131 907L113 907M131 875.7L140.1 891.3M140.1 922.6L131 938.3M131 907L140.1 922.6M158.1 452.8L167.2 468.5M167.2 531.1L158.1 546.8M158.1 546.8L140.1 546.8M167.2 562.5L158.1 578.1M158.1 546.8L167.2 562.5M167.2 593.8L158.1 609.4M158.1 609.4L140.1 609.4M167.2 625.1L158.1 640.8M158.1 640.8L140.1 640.8M158.1 609.4L167.2 625.1M158.1 640.8L167.2 656.4M167.2 687.7L158.1 703.4M158.1 703.4L140.1 703.4M158.1 672.1L167.2 687.7M167.2 719.1L158.1 734.7M158.1 703.4L167.2 719.1M167.2 750.4L158.1 766M158.1 766L140.1 766M167.2 781.7L158.1 797.4M158.1 797.4L140.1 797.4M158.1 766L167.2 781.7M167.2 813L158.1 828.7M158.1 828.7L140.1 828.7M158.1 797.4L167.2 813M167.2 844.3L158.1 860M158.1 860L140.1 860M158.1 828.7L167.2 844.3M167.2 875.7L158.1 891.3M158.1 891.3L140.1 891.3M158.1 860L167.2 875.7M158.1 922.6L140.1 922.6M158.1 891.3L167.2 907M185.2 437.2L194.3 452.8M194.3 484.2L185.2 499.8M185.2 499.8L167.2 499.8M185.2 468.5L194.3 484.2M194.3 515.5L185.2 531.1M185.2 499.8L194.3 515.5M185.2 562.5L167.2 562.5M194.3 578.1L185.2 593.8M194.3 609.4L185.2 625.1M185.2 625.1L167.2 625.1M194.3 640.8L185.2 656.4M185.2 625.1L194.3 640.8M194.3 672.1L185.2 687.7M185.2 687.7L167.2 687.7M194.3 703.4L185.2 719.1M185.2 719.1L167.2 719.1M185.2 687.7L194.3 703.4M194.3 734.7L185.2 750.4M185.2 719.1L194.3 734.7M194.3 766L185.2 781.7M185.2 781.7L167.2 781.7M194.3 797.4L185.2 813M185.2 813L167.2 813M185.2 781.7L194.3 797.4M194.3 828.7L185.2 844.3M185.2 844.3L167.2 844.3M185.2 813L194.3 828.7M194.3 860L185.2 875.7M185.2 875.7L167.2 875.7M185.2 844.3L194.3 860M194.3 891.3L185.2 907M185.2 875.7L194.3 891.3M221.4 437.2L212.3 452.8M221.4 468.5L212.3 484.2M212.3 484.2L194.3 484.2M221.4 499.8L212.3 515.5M212.3 515.5L194.3 515.5M212.3 484.2L221.4 499.8M221.4 531.1L212.3 546.8M212.3 546.8L194.3 546.8M212.3 515.5L221.4 531.1M212.3 546.8L221.4 562.5M212.3 640.8L194.3 640.8M221.4 687.7L212.3 703.4M212.3 703.4L194.3 703.4M221.4 719.1L212.3 734.7M212.3 734.7L194.3 734.7M212.3 703.4L221.4 719.1M221.4 750.4L212.3 766M212.3 734.7L221.4 750.4M221.4 781.7L212.3 797.4M212.3 797.4L194.3 797.4M212.3 828.7L194.3 828.7M212.3 797.4L221.4 813M212.3 860L194.3 860M212.3 891.3L194.3 891.3M212.3 922.6L194.3 922.6M248.5 452.8L239.4 468.5M248.5 484.2L239.4 499.8M239.4 499.8L221.4 499.8M248.5 515.5L239.4 531.1M239.4 531.1L221.4 531.1M239.4 499.8L248.5 515.5M248.5 546.8L239.4 562.5M239.4 531.1L248.5 546.8M248.5 609.4L239.4 625.1M239.4 625.1L221.4 625.1M248.5 640.8L239.4 656.4M239.4 656.4L221.4 656.4M239.4 625.1L248.5 640.8M248.5 672.1L239.4 687.7M239.4 656.4L248.5 672.1M248.5 703.4L239.4 719.1M239.4 719.1L221.4 719.1M248.5 734.7L239.4 750.4M239.4 750.4L221.4 750.4M239.4 719.1L248.5 734.7M248.5 766L239.4 781.7M239.4 750.4L248.5 766M248.5 828.7L239.4 844.3M239.4 813L248.5 828.7M266.5 515.5L248.5 515.5M275.6 531.1L266.5 546.8M266.5 546.8L248.5 546.8M275.6 562.5L266.5 578.1M266.5 578.1L248.5 578.1M266.5 546.8L275.6 562.5M275.6 593.8L266.5 609.4M266.5 578.1L275.6 593.8M266.5 640.8L248.5 640.8M275.6 656.4L266.5 672.1M266.5 672.1L248.5 672.1M266.5 672.1L275.6 687.7M275.6 719.1L266.5 734.7M266.5 734.7L248.5 734.7M266.5 703.4L275.6 719.1M275.6 750.4L266.5 766M266.5 766L248.5 766M266.5 734.7L275.6 750.4M266.5 766L275.6 781.7M275.6 813L266.5 828.7M266.5 828.7L248.5 828.7M275.6 844.3L266.5 860M266.5 860L248.5 860M266.5 828.7L275.6 844.3M275.6 875.7L266.5 891.3M266.5 860L275.6 875.7M302.7 546.8L293.6 562.5M293.6 562.5L275.6 562.5M293.6 531.1L302.7 546.8M302.7 578.1L293.6 593.8M293.6 593.8L275.6 593.8M293.6 562.5L302.7 578.1M302.7 609.4L293.6 625.1M293.6 625.1L275.6 625.1M293.6 593.8L302.7 609.4M302.7 640.8L293.6 656.4M293.6 625.1L302.7 640.8M302.7 703.4L293.6 719.1M293.6 719.1L275.6 719.1M293.6 750.4L275.6 750.4M293.6 719.1L302.7 734.7M293.6 781.7L302.7 797.4M302.7 828.7L293.6 844.3M293.6 844.3L275.6 844.3M293.6 813L302.7 828.7M302.7 860L293.6 875.7M293.6 875.7L275.6 875.7M293.6 844.3L302.7 860M302.7 891.3L293.6 907M293.6 907L275.6 907M293.6 875.7L302.7 891.3M302.7 922.6L293.6 938.3M293.6 907L302.7 922.6M329.8 531.1L320.7 546.8M320.7 546.8L302.7 546.8M329.8 562.5L320.7 578.1M320.7 578.1L302.7 578.1M320.7 546.8L329.8 562.5M329.8 593.8L320.7 609.4M320.7 609.4L302.7 609.4M320.7 578.1L329.8 593.8M329.8 625.1L320.7 640.8M320.7 640.8L302.7 640.8M320.7 609.4L329.8 625.1M329.8 656.4L320.7 672.1M320.7 672.1L302.7 672.1M320.7 640.8L329.8 656.4M329.8 687.7L320.7 703.4M320.7 672.1L329.8 687.7M329.8 750.4L320.7 766M320.7 766L302.7 766M320.7 734.7L329.8 750.4M329.8 781.7L320.7 797.4M320.7 766L329.8 781.7M329.8 813L320.7 828.7M320.7 828.7L302.7 828.7M329.8 844.3L320.7 860M320.7 860L302.7 860M320.7 828.7L329.8 844.3M329.8 875.7L320.7 891.3M320.7 891.3L302.7 891.3M320.7 860L329.8 875.7M329.8 907L320.7 922.6M320.7 922.6L302.7 922.6M320.7 891.3L329.8 907M320.7 922.6L329.8 938.3M356.9 546.8L347.8 562.5M347.8 562.5L329.8 562.5M356.9 578.1L347.8 593.8M347.8 593.8L329.8 593.8M347.8 562.5L356.9 578.1M356.9 609.4L347.8 625.1M347.8 625.1L329.8 625.1M347.8 593.8L356.9 609.4M356.9 640.8L347.8 656.4M347.8 656.4L329.8 656.4M347.8 625.1L356.9 640.8M356.9 672.1L347.8 687.7M347.8 687.7L329.8 687.7M347.8 656.4L356.9 672.1M356.9 703.4L347.8 719.1M347.8 687.7L356.9 703.4M356.9 734.7L347.8 750.4M347.8 750.4L329.8 750.4M356.9 766L347.8 781.7M347.8 781.7L329.8 781.7M347.8 750.4L356.9 766M356.9 797.4L347.8 813M347.8 781.7L356.9 797.4M356.9 828.7L347.8 844.3M347.8 844.3L329.8 844.3M356.9 860L347.8 875.7M347.8 875.7L329.8 875.7M347.8 844.3L356.9 860M356.9 891.3L347.8 907M347.8 907L329.8 907M347.8 875.7L356.9 891.3M356.9 922.6L347.8 938.3M347.8 907L356.9 922.6M384 562.5L374.9 578.1M374.9 578.1L356.9 578.1M374.9 546.8L384 562.5M384 593.8L374.9 609.4M374.9 609.4L356.9 609.4M374.9 578.1L384 593.8M384 625.1L374.9 640.8M374.9 640.8L356.9 640.8M374.9 609.4L384 625.1M384 656.4L374.9 672.1M374.9 672.1L356.9 672.1M374.9 640.8L384 656.4M374.9 703.4L356.9 703.4M374.9 672.1L384 687.7M384 750.4L374.9 766M374.9 766L356.9 766M374.9 734.7L384 750.4M384 781.7L374.9 797.4M374.9 797.4L356.9 797.4M374.9 766L384 781.7M374.9 797.4L384 813M384 844.3L374.9 860M374.9 860L356.9 860M374.9 828.7L384 844.3M384 875.7L374.9 891.3M374.9 891.3L356.9 891.3M374.9 860L384 875.7M384 907L374.9 922.6M374.9 922.6L356.9 922.6M374.9 891.3L384 907M374.9 922.6L384 938.3M411.1 515.5L402 531.1M402 531.1L384 531.1M411.1 546.8L402 562.5M402 562.5L384 562.5M402 531.1L411.1 546.8M411.1 578.1L402 593.8M402 593.8L384 593.8M402 562.5L411.1 578.1M411.1 609.4L402 625.1M402 625.1L384 625.1M402 593.8L411.1 609.4M411.1 640.8L402 656.4M402 656.4L384 656.4M402 625.1L411.1 640.8M411.1 672.1L402 687.7M402 656.4L411.1 672.1M411.1 703.4L402 719.1M402 719.1L384 719.1M411.1 734.7L402 750.4M402 750.4L384 750.4M402 719.1L411.1 734.7M411.1 766L402 781.7M402 781.7L384 781.7M402 750.4L411.1 766M402 781.7L411.1 797.4M411.1 828.7L402 844.3M402 844.3L384 844.3M402 813L411.1 828.7M411.1 860L402 875.7M402 875.7L384 875.7M402 844.3L411.1 860M411.1 891.3L402 907M402 907L384 907M402 875.7L411.1 891.3M402 907L411.1 922.6M411.1 1423.8L402 1439.4M402 1408.1L411.1 1423.8M438.2 531.1L429.1 546.8M429.1 546.8L411.1 546.8M429.1 515.5L438.2 531.1M438.2 562.5L429.1 578.1M429.1 578.1L411.1 578.1M429.1 546.8L438.2 562.5M438.2 593.8L429.1 609.4M429.1 609.4L411.1 609.4M429.1 578.1L438.2 593.8M438.2 625.1L429.1 640.8M429.1 640.8L411.1 640.8M429.1 609.4L438.2 625.1M438.2 656.4L429.1 672.1M429.1 672.1L411.1 672.1M429.1 640.8L438.2 656.4M429.1 672.1L438.2 687.7M438.2 719.1L429.1 734.7M429.1 734.7L411.1 734.7M429.1 703.4L438.2 719.1M438.2 750.4L429.1 766M429.1 766L411.1 766M429.1 734.7L438.2 750.4M429.1 766L438.2 781.7M438.2 813L429.1 828.7M429.1 828.7L411.1 828.7M429.1 797.4L438.2 813M438.2 844.3L429.1 860M429.1 860L411.1 860M429.1 828.7L438.2 844.3M438.2 875.7L429.1 891.3M429.1 891.3L411.1 891.3M429.1 860L438.2 875.7M438.2 907L429.1 922.6M429.1 891.3L438.2 907M438.2 1408.1L429.1 1423.8M429.1 1423.8L411.1 1423.8M429.1 1392.4L438.2 1408.1M429.1 1423.8L438.2 1439.4M465.3 515.5L456.2 531.1M456.2 531.1L438.2 531.1M456.2 499.8L465.3 515.5M465.3 546.8L456.2 562.5M456.2 562.5L438.2 562.5M456.2 531.1L465.3 546.8M465.3 578.1L456.2 593.8M456.2 593.8L438.2 593.8M456.2 562.5L465.3 578.1M465.3 609.4L456.2 625.1M456.2 625.1L438.2 625.1M456.2 593.8L465.3 609.4M465.3 640.8L456.2 656.4M456.2 656.4L438.2 656.4M456.2 625.1L465.3 640.8M456.2 656.4L465.3 672.1M465.3 703.4L456.2 719.1M456.2 719.1L438.2 719.1M456.2 687.7L465.3 703.4M465.3 734.7L456.2 750.4M456.2 750.4L438.2 750.4M456.2 719.1L465.3 734.7M465.3 766L456.2 781.7M456.2 750.4L465.3 766M465.3 797.4L456.2 813M456.2 813L438.2 813M465.3 828.7L456.2 844.3M456.2 844.3L438.2 844.3M456.2 813L465.3 828.7M465.3 860L456.2 875.7M456.2 875.7L438.2 875.7M456.2 844.3L465.3 860M465.3 891.3L456.2 907M456.2 907L438.2 907M456.2 875.7L465.3 891.3M465.3 922.6L456.2 938.3M456.2 907L465.3 922.6M465.3 1016.6L456.2 1032.3M456.2 1000.9L465.3 1016.6M456.2 1094.9L438.2 1094.9M456.2 1063.6L465.3 1079.2M465.3 1110.6L456.2 1126.2M456.2 1126.2L438.2 1126.2M465.3 1141.9L456.2 1157.5M456.2 1157.5L438.2 1157.5M456.2 1126.2L465.3 1141.9M465.3 1173.2L456.2 1188.9M456.2 1188.9L438.2 1188.9M456.2 1157.5L465.3 1173.2M465.3 1204.5L456.2 1220.2M456.2 1220.2L438.2 1220.2M456.2 1188.9L465.3 1204.5M465.3 1235.8L456.2 1251.5M456.2 1220.2L465.3 1235.8M456.2 1282.8L438.2 1282.8M456.2 1345.5L438.2 1345.5M456.2 1314.1L465.3 1329.8M465.3 1392.4L456.2 1408.1M456.2 1408.1L438.2 1408.1M456.2 1376.8L465.3 1392.4M465.3 1423.8L456.2 1439.4M456.2 1408.1L465.3 1423.8M492.4 499.8L483.3 515.5M483.3 515.5L465.3 515.5M492.4 531.1L483.3 546.8M483.3 546.8L465.3 546.8M483.3 515.5L492.4 531.1M492.4 562.5L483.3 578.1M483.3 578.1L465.3 578.1M483.3 546.8L492.4 562.5M492.4 593.8L483.3 609.4M483.3 609.4L465.3 609.4M483.3 578.1L492.4 593.8M492.4 625.1L483.3 640.8M483.3 640.8L465.3 640.8M483.3 609.4L492.4 625.1M492.4 656.4L483.3 672.1M483.3 640.8L492.4 656.4M492.4 687.7L483.3 703.4M483.3 703.4L465.3 703.4M492.4 719.1L483.3 734.7M483.3 734.7L465.3 734.7M483.3 703.4L492.4 719.1M492.4 750.4L483.3 766M483.3 766L465.3 766M483.3 734.7L492.4 750.4M483.3 766L492.4 781.7M492.4 813L483.3 828.7M483.3 828.7L465.3 828.7M492.4 844.3L483.3 860M483.3 860L465.3 860M483.3 828.7L492.4 844.3M492.4 875.7L483.3 891.3M483.3 891.3L465.3 891.3M483.3 860L492.4 875.7M492.4 907L483.3 922.6M483.3 922.6L465.3 922.6M483.3 891.3L492.4 907M483.3 922.6L492.4 938.3M492.4 969.6L483.3 985.3M483.3 954L492.4 969.6M483.3 1016.6L465.3 1016.6M483.3 1047.9L465.3 1047.9M483.3 1079.2L492.4 1094.9M492.4 1126.2L483.3 1141.9M483.3 1141.9L465.3 1141.9M483.3 1110.6L492.4 1126.2M492.4 1157.5L483.3 1173.2M483.3 1173.2L465.3 1173.2M483.3 1141.9L492.4 1157.5M492.4 1188.9L483.3 1204.5M483.3 1204.5L465.3 1204.5M483.3 1173.2L492.4 1188.9M492.4 1220.2L483.3 1235.8M483.3 1235.8L465.3 1235.8M483.3 1204.5L492.4 1220.2M483.3 1267.2L465.3 1267.2M483.3 1235.8L492.4 1251.5M483.3 1298.5L465.3 1298.5M492.4 1345.5L483.3 1361.1M483.3 1361.1L465.3 1361.1M483.3 1329.8L492.4 1345.5M492.4 1376.8L483.3 1392.4M483.3 1392.4L465.3 1392.4M483.3 1361.1L492.4 1376.8M492.4 1408.1L483.3 1423.8M483.3 1423.8L465.3 1423.8M483.3 1392.4L492.4 1408.1M492.4 1439.4L483.3 1455.1M483.3 1423.8L492.4 1439.4M519.5 515.5L510.4 531.1M510.4 531.1L492.4 531.1M510.4 499.8L519.5 515.5M519.5 546.8L510.4 562.5M510.4 562.5L492.4 562.5M510.4 531.1L519.5 546.8M519.5 578.1L510.4 593.8M510.4 593.8L492.4 593.8M510.4 562.5L519.5 578.1M519.5 609.4L510.4 625.1M510.4 625.1L492.4 625.1M510.4 593.8L519.5 609.4M519.5 640.8L510.4 656.4M510.4 656.4L492.4 656.4M510.4 625.1L519.5 640.8M510.4 656.4L519.5 672.1M519.5 703.4L510.4 719.1M510.4 719.1L492.4 719.1M510.4 687.7L519.5 703.4M519.5 734.7L510.4 750.4M510.4 750.4L492.4 750.4M510.4 719.1L519.5 734.7M510.4 750.4L519.5 766M519.5 828.7L510.4 844.3M510.4 844.3L492.4 844.3M510.4 813L519.5 828.7M519.5 860L510.4 875.7M510.4 875.7L492.4 875.7M510.4 844.3L519.5 860M510.4 907L492.4 907M510.4 875.7L519.5 891.3M519.5 954L510.4 969.6M510.4 969.6L492.4 969.6M510.4 938.3L519.5 954M519.5 985.3L510.4 1000.9M510.4 1000.9L492.4 1000.9M510.4 969.6L519.5 985.3M519.5 1016.6L510.4 1032.3M510.4 1032.3L492.4 1032.3M510.4 1000.9L519.5 1016.6M519.5 1047.9L510.4 1063.6M510.4 1063.6L492.4 1063.6M510.4 1032.3L519.5 1047.9M519.5 1079.2L510.4 1094.9M510.4 1063.6L519.5 1079.2M510.4 1126.2L492.4 1126.2M510.4 1157.5L492.4 1157.5M519.5 1173.2L510.4 1188.9M510.4 1188.9L492.4 1188.9M510.4 1220.2L492.4 1220.2M510.4 1188.9L519.5 1204.5M519.5 1235.8L510.4 1251.5M510.4 1282.8L492.4 1282.8M510.4 1314.1L492.4 1314.1M519.5 1329.8L510.4 1345.5M510.4 1345.5L492.4 1345.5M519.5 1361.1L510.4 1376.8M510.4 1376.8L492.4 1376.8M510.4 1345.5L519.5 1361.1M510.4 1408.1L492.4 1408.1M510.4 1376.8L519.5 1392.4M510.4 1439.4L492.4 1439.4M546.6 499.8L537.5 515.5M537.5 515.5L519.5 515.5M537.5 484.2L546.6 499.8M546.6 531.1L537.5 546.8M537.5 546.8L519.5 546.8M537.5 515.5L546.6 531.1M546.6 562.5L537.5 578.1M537.5 578.1L519.5 578.1M537.5 546.8L546.6 562.5M546.6 593.8L537.5 609.4M537.5 609.4L519.5 609.4M537.5 578.1L546.6 593.8M546.6 625.1L537.5 640.8M537.5 640.8L519.5 640.8M537.5 609.4L546.6 625.1M546.6 656.4L537.5 672.1M537.5 640.8L546.6 656.4M537.5 703.4L519.5 703.4M537.5 734.7L519.5 734.7M537.5 797.4L519.5 797.4M537.5 828.7L519.5 828.7M546.6 844.3L537.5 860M537.5 860L519.5 860M537.5 860L546.6 875.7M537.5 922.6L519.5 922.6M537.5 954L519.5 954M546.6 969.6L537.5 985.3M537.5 985.3L519.5 985.3M546.6 1000.9L537.5 1016.6M537.5 1016.6L519.5 1016.6M537.5 985.3L546.6 1000.9M546.6 1032.3L537.5 1047.9M537.5 1047.9L519.5 1047.9M537.5 1016.6L546.6 1032.3M537.5 1079.2L519.5 1079.2M537.5 1047.9L546.6 1063.6M546.6 1126.2L537.5 1141.9M537.5 1141.9L519.5 1141.9M546.6 1157.5L537.5 1173.2M537.5 1141.9L546.6 1157.5M546.6 1220.2L537.5 1235.8M537.5 1204.5L546.6 1220.2M546.6 1282.8L537.5 1298.5M537.5 1298.5L519.5 1298.5M537.5 1267.2L546.6 1282.8M546.6 1314.1L537.5 1329.8M537.5 1298.5L546.6 1314.1M537.5 1361.1L519.5 1361.1M546.6 1376.8L537.5 1392.4M573.7 484.2L564.6 499.8M564.6 499.8L546.6 499.8M564.6 468.5L573.7 484.2M564.6 531.1L546.6 531.1M564.6 499.8L573.7 515.5M564.6 562.5L546.6 562.5M564.6 593.8L546.6 593.8M564.6 625.1L546.6 625.1M564.6 656.4L546.6 656.4M573.7 703.4L564.6 719.1M564.6 719.1L546.6 719.1M573.7 734.7L564.6 750.4M564.6 750.4L546.6 750.4M564.6 719.1L573.7 734.7M573.7 766L564.6 781.7M564.6 750.4L573.7 766M573.7 797.4L564.6 813M564.6 813L546.6 813M573.7 828.7L564.6 844.3M564.6 813L573.7 828.7M573.7 891.3L564.6 907M564.6 907L546.6 907M564.6 875.7L573.7 891.3M573.7 922.6L564.6 938.3M564.6 938.3L546.6 938.3M564.6 907L573.7 922.6M573.7 954L564.6 969.6M564.6 938.3L573.7 954M564.6 1000.9L546.6 1000.9M564.6 1032.3L546.6 1032.3M573.7 1079.2L564.6 1094.9M564.6 1094.9L546.6 1094.9M564.6 1063.6L573.7 1079.2M573.7 1110.6L564.6 1126.2M564.6 1094.9L573.7 1110.6M573.7 1141.9L564.6 1157.5M564.6 1157.5L546.6 1157.5M573.7 1173.2L564.6 1188.9M564.6 1188.9L546.6 1188.9M564.6 1157.5L573.7 1173.2M573.7 1204.5L564.6 1220.2M564.6 1220.2L546.6 1220.2M564.6 1188.9L573.7 1204.5M573.7 1235.8L564.6 1251.5M564.6 1251.5L546.6 1251.5M564.6 1220.2L573.7 1235.8M573.7 1267.2L564.6 1282.8M564.6 1282.8L546.6 1282.8M564.6 1251.5L573.7 1267.2M573.7 1298.5L564.6 1314.1M564.6 1314.1L546.6 1314.1M564.6 1282.8L573.7 1298.5M573.7 1329.8L564.6 1345.5M564.6 1345.5L546.6 1345.5M564.6 1314.1L573.7 1329.8M573.7 1361.1L564.6 1376.8M564.6 1345.5L573.7 1361.1M564.6 1408.1L546.6 1408.1M591.7 484.2L573.7 484.2M600.8 531.1L591.7 546.8M591.7 546.8L573.7 546.8M591.7 515.5L600.8 531.1M600.8 562.5L591.7 578.1M591.7 578.1L573.7 578.1M591.7 546.8L600.8 562.5M600.8 593.8L591.7 609.4M591.7 609.4L573.7 609.4M591.7 578.1L600.8 593.8M600.8 625.1L591.7 640.8M591.7 640.8L573.7 640.8M591.7 609.4L600.8 625.1M600.8 656.4L591.7 672.1M591.7 672.1L573.7 672.1M591.7 640.8L600.8 656.4M600.8 687.7L591.7 703.4M591.7 672.1L600.8 687.7M600.8 719.1L591.7 734.7M591.7 734.7L573.7 734.7M600.8 750.4L591.7 766M591.7 766L573.7 766M591.7 734.7L600.8 750.4M600.8 781.7L591.7 797.4M591.7 766L600.8 781.7M591.7 828.7L573.7 828.7M591.7 891.3L573.7 891.3M600.8 907L591.7 922.6M591.7 922.6L573.7 922.6M600.8 938.3L591.7 954M591.7 954L573.7 954M591.7 922.6L600.8 938.3M600.8 969.6L591.7 985.3M591.7 985.3L573.7 985.3M591.7 954L600.8 969.6M600.8 1000.9L591.7 1016.6M591.7 1016.6L573.7 1016.6M591.7 985.3L600.8 1000.9M600.8 1032.3L591.7 1047.9M591.7 1047.9L573.7 1047.9M591.7 1016.6L600.8 1032.3M600.8 1063.6L591.7 1079.2M591.7 1079.2L573.7 1079.2M591.7 1047.9L600.8 1063.6M600.8 1094.9L591.7 1110.6M591.7 1110.6L573.7 1110.6M591.7 1079.2L600.8 1094.9M600.8 1126.2L591.7 1141.9M591.7 1110.6L600.8 1126.2M591.7 1173.2L573.7 1173.2M600.8 1188.9L591.7 1204.5M591.7 1204.5L573.7 1204.5M600.8 1220.2L591.7 1235.8M591.7 1235.8L573.7 1235.8M591.7 1204.5L600.8 1220.2M600.8 1251.5L591.7 1267.2M591.7 1267.2L573.7 1267.2M591.7 1235.8L600.8 1251.5M600.8 1282.8L591.7 1298.5M591.7 1298.5L573.7 1298.5M591.7 1267.2L600.8 1282.8M600.8 1314.1L591.7 1329.8M591.7 1329.8L573.7 1329.8M591.7 1298.5L600.8 1314.1M600.8 1345.5L591.7 1361.1M591.7 1361.1L573.7 1361.1M591.7 1329.8L600.8 1345.5M600.8 1376.8L591.7 1392.4M591.7 1392.4L573.7 1392.4M591.7 1361.1L600.8 1376.8M600.8 1408.1L591.7 1423.8M591.7 1423.8L573.7 1423.8M591.7 1392.4L600.8 1408.1M600.8 1439.4L591.7 1455.1M591.7 1423.8L600.8 1439.4M627.9 452.8L618.8 468.5M618.8 468.5L600.8 468.5M618.8 437.2L627.9 452.8M618.8 499.8L600.8 499.8M618.8 468.5L627.9 484.2M627.9 515.5L618.8 531.1M618.8 531.1L600.8 531.1M627.9 546.8L618.8 562.5M618.8 562.5L600.8 562.5M618.8 531.1L627.9 546.8M627.9 578.1L618.8 593.8M618.8 593.8L600.8 593.8M618.8 562.5L627.9 578.1M627.9 609.4L618.8 625.1M618.8 625.1L600.8 625.1M618.8 593.8L627.9 609.4M627.9 640.8L618.8 656.4M618.8 656.4L600.8 656.4M618.8 625.1L627.9 640.8M627.9 672.1L618.8 687.7M618.8 687.7L600.8 687.7M618.8 656.4L627.9 672.1M618.8 687.7L627.9 703.4M627.9 734.7L618.8 750.4M618.8 750.4L600.8 750.4M618.8 719.1L627.9 734.7M627.9 766L618.8 781.7M618.8 781.7L600.8 781.7M618.8 750.4L627.9 766M627.9 797.4L618.8 813M618.8 781.7L627.9 797.4M627.9 860L618.8 875.7M618.8 875.7L600.8 875.7M618.8 844.3L627.9 860M627.9 891.3L618.8 907M618.8 875.7L627.9 891.3M618.8 938.3L600.8 938.3M618.8 969.6L600.8 969.6M618.8 1000.9L600.8 1000.9M618.8 1032.3L600.8 1032.3M618.8 1063.6L600.8 1063.6M627.9 1079.2L618.8 1094.9M618.8 1094.9L600.8 1094.9M618.8 1126.2L600.8 1126.2M618.8 1094.9L627.9 1110.6M618.8 1157.5L600.8 1157.5M618.8 1220.2L600.8 1220.2M618.8 1251.5L600.8 1251.5M627.9 1267.2L618.8 1282.8M618.8 1282.8L600.8 1282.8M627.9 1298.5L618.8 1314.1M618.8 1314.1L600.8 1314.1M618.8 1282.8L627.9 1298.5M627.9 1329.8L618.8 1345.5M618.8 1345.5L600.8 1345.5M618.8 1314.1L627.9 1329.8M627.9 1361.1L618.8 1376.8M618.8 1376.8L600.8 1376.8M618.8 1345.5L627.9 1361.1M627.9 1392.4L618.8 1408.1M618.8 1408.1L600.8 1408.1M618.8 1376.8L627.9 1392.4M627.9 1423.8L618.8 1439.4M618.8 1439.4L600.8 1439.4M618.8 1408.1L627.9 1423.8M618.8 1439.4L627.9 1455.1M645.9 452.8L627.9 452.8M655 531.1L645.9 546.8M645.9 546.8L627.9 546.8M645.9 515.5L655 531.1M655 562.5L645.9 578.1M645.9 578.1L627.9 578.1M645.9 546.8L655 562.5M655 593.8L645.9 609.4M645.9 609.4L627.9 609.4M645.9 578.1L655 593.8M655 625.1L645.9 640.8M645.9 640.8L627.9 640.8M645.9 609.4L655 625.1M655 656.4L645.9 672.1M645.9 672.1L627.9 672.1M645.9 640.8L655 656.4M645.9 672.1L655 687.7M645.9 734.7L627.9 734.7M645.9 766L627.9 766M645.9 797.4L627.9 797.4M645.9 860L627.9 860M645.9 891.3L627.9 891.3M655 1282.8L645.9 1298.5M645.9 1298.5L627.9 1298.5M655 1314.1L645.9 1329.8M645.9 1329.8L627.9 1329.8M645.9 1298.5L655 1314.1M645.9 1361.1L627.9 1361.1M645.9 1329.8L655 1345.5M645.9 1392.4L627.9 1392.4M655 1408.1L645.9 1423.8M645.9 1423.8L627.9 1423.8M645.9 1423.8L655 1439.4M673 531.1L655 531.1M673 562.5L655 562.5M682.1 578.1L673 593.8M673 593.8L655 593.8M682.1 609.4L673 625.1M673 625.1L655 625.1M673 593.8L682.1 609.4M682.1 640.8L673 656.4M673 656.4L655 656.4M673 625.1L682.1 640.8M673 656.4L682.1 672.1M682.1 703.4L673 719.1M673 719.1L655 719.1M673 687.7L682.1 703.4M682.1 734.7L673 750.4M673 750.4L655 750.4M673 719.1L682.1 734.7M682.1 766L673 781.7M673 781.7L655 781.7M673 750.4L682.1 766M682.1 797.4L673 813M673 813L655 813M673 781.7L682.1 797.4M682.1 828.7L673 844.3M673 844.3L655 844.3M673 813L682.1 828.7M673 844.3L682.1 860M682.1 891.3L673 907M673 875.7L682.1 891.3M673 1314.1L655 1314.1M709.2 593.8L700.1 609.4M700.1 609.4L682.1 609.4M700.1 578.1L709.2 593.8M709.2 625.1L700.1 640.8M700.1 640.8L682.1 640.8M700.1 609.4L709.2 625.1M700.1 640.8L709.2 656.4M709.2 687.7L700.1 703.4M700.1 703.4L682.1 703.4M700.1 672.1L709.2 687.7M700.1 734.7L682.1 734.7M700.1 703.4L709.2 719.1M700.1 766L682.1 766M700.1 797.4L682.1 797.4M700.1 828.7L682.1 828.7M700.1 891.3L682.1 891.3M736.3 578.1L727.2 593.8M727.2 593.8L709.2 593.8M736.3 609.4L727.2 625.1M727.2 625.1L709.2 625.1M727.2 593.8L736.3 609.4M736.3 640.8L727.2 656.4M727.2 625.1L736.3 640.8M727.2 687.7L709.2 687.7M736.3 734.7L727.2 750.4M727.2 750.4L709.2 750.4M736.3 766L727.2 781.7M727.2 750.4L736.3 766M727.2 813L709.2 813M727.2 844.3L709.2 844.3M727.2 875.7L709.2 875.7M727.2 907L709.2 907M727.2 938.3L709.2 938.3M763.4 593.8L754.3 609.4M754.3 609.4L736.3 609.4M754.3 578.1L763.4 593.8M754.3 640.8L736.3 640.8M754.3 609.4L763.4 625.1M754.3 703.4L736.3 703.4M763.4 719.1L754.3 734.7M754.3 766L736.3 766M754.3 797.4L736.3 797.4M754.3 828.7L736.3 828.7M754.3 860L736.3 860M754.3 891.3L736.3 891.3M781.4 593.8L763.4 593.8M781.4 656.4L763.4 656.4M790.5 672.1L781.4 687.7M781.4 687.7L763.4 687.7M790.5 703.4L781.4 719.1M781.4 687.7L790.5 703.4M790.5 734.7L781.4 750.4M781.4 750.4L763.4 750.4M781.4 781.7L763.4 781.7M781.4 750.4L790.5 766M781.4 813L763.4 813M781.4 844.3L763.4 844.3M808.5 609.4L790.5 609.4M808.5 640.8L790.5 640.8M808.5 703.4L790.5 703.4M817.6 781.7L808.5 797.4M808.5 797.4L790.5 797.4M817.6 813L808.5 828.7M808.5 828.7L790.5 828.7M808.5 797.4L817.6 813M817.6 844.3L808.5 860M808.5 828.7L817.6 844.3M817.6 875.7L808.5 891.3M835.6 593.8L844.7 609.4M835.6 813L817.6 813M844.7 828.7L835.6 844.3M835.6 844.3L817.6 844.3M835.6 844.3L844.7 860M844.7 891.3L835.6 907M835.6 907L817.6 907M835.6 875.7L844.7 891.3M844.7 922.6L835.6 938.3M835.6 938.3L817.6 938.3M835.6 907L844.7 922.6M844.7 954L835.6 969.6M835.6 969.6L817.6 969.6M835.6 938.3L844.7 954M835.6 969.6L844.7 985.3M862.7 891.3L844.7 891.3M862.7 922.6L844.7 922.6M862.7 954L844.7 954M898.9 609.4L889.8 625.1M916.9 609.4L926 625.1M916.9 640.8L926 656.4M953.1 609.4L944 625.1M980.2 656.4L971.1 672.1M971.1 640.8L980.2 656.4M1007.3 515.5L998.2 531.1M998.2 531.1L980.2 531.1M1007.3 546.8L998.2 562.5M998.2 531.1L1007.3 546.8M998.2 593.8L980.2 593.8M998.2 625.1L980.2 625.1M998.2 656.4L980.2 656.4M1034.4 499.8L1025.3 515.5M1034.4 531.1L1025.3 546.8M1025.3 546.8L1007.3 546.8M1025.3 546.8L1034.4 562.5"/>
<path fill="none" stroke="#111" stroke-width="1.5" stroke-linejoin="round" d="M113 311.9L103.9 327.6M85.9 327.6L76.8 311.9M76.8 311.9L85.9 296.2M85.9 296.2L103.9 296.2M103.9 296.2L113 311.9M85.9 358.9L76.8 343.2M76.8 343.2L85.9 327.6M103.9 327.6L113 343.2M103.9 390.2L85.9 390.2M85.9 390.2L76.8 374.5M76.8 374.5L85.9 358.9M85.9 515.5L76.8 499.8M76.8 499.8L85.9 484.2M85.9 484.2L103.9 484.2M103.9 484.2L113 499.8M85.9 546.8L76.8 531.1M76.8 531.1L85.9 515.5M85.9 578.1L76.8 562.5M76.8 562.5L85.9 546.8M113 593.8L103.9 609.4M85.9 609.4L76.8 593.8M76.8 593.8L85.9 578.1M113 625.1L103.9 640.8M103.9 640.8L85.9 640.8M85.9 640.8L76.8 625.1M76.8 625.1L85.9 609.4M103.9 609.4L113 625.1M113 656.4L103.9 672.1M85.9 672.1L76.8 656.4M76.8 656.4L85.9 640.8M103.9 640.8L113 656.4M85.9 703.4L76.8 687.7M76.8 687.7L85.9 672.1M103.9 672.1L113 687.7M85.9 734.7L76.8 719.1M76.8 719.1L85.9 703.4M103.9 766L85.9 766M85.9 766L76.8 750.4M76.8 750.4L85.9 734.7M85.9 797.4L76.8 781.7M76.8 781.7L85.9 766M103.9 766L113 781.7M103.9 828.7L85.9 828.7M85.9 828.7L76.8 813M76.8 813L85.9 797.4M140.1 358.9L131 374.5M113 343.2L131 343.2M140.1 390.2L131 405.9M131 405.9L113 405.9M113 405.9L103.9 390.2M131 374.5L140.1 390.2M140.1 421.5L131 437.2M113 437.2L103.9 421.5M103.9 421.5L113 405.9M131 405.9L140.1 421.5M140.1 452.8L131 468.5M113 468.5L103.9 452.8M103.9 452.8L113 437.2M131 437.2L140.1 452.8M131 499.8L113 499.8M103.9 484.2L113 468.5M131 468.5L140.1 484.2M131 499.8L140.1 515.5M140.1 578.1L131 593.8M131 593.8L113 593.8M140.1 672.1L131 687.7M131 687.7L113 687.7M140.1 734.7L131 750.4M140.1 766L131 781.7M131 781.7L113 781.7M131 750.4L140.1 766M113 844.3L103.9 828.7M113 875.7L103.9 860M103.9 860L113 844.3M113 907L103.9 891.3M103.9 891.3L113 875.7M131 938.3L113 938.3M113 938.3L103.9 922.6M103.9 922.6L113 907M167.2 343.2L158.1 358.9M158.1 358.9L140.1 358.9M131 343.2L140.1 327.6M140.1 327.6L158.1 327.6M158.1 327.6L167.2 343.2M167.2 468.5L158.1 484.2M158.1 484.2L140.1 484.2M140.1 452.8L158.1 452.8M167.2 499.8L158.1 515.5M158.1 515.5L140.1 515.5M158.1 484.2L167.2 499.8M158.1 515.5L167.2 531.1M158.1 578.1L140.1 578.1M158.1 578.1L167.2 593.8M167.2 656.4L158.1 672.1M158.1 672.1L140.1 672.1M158.1 734.7L140.1 734.7M158.1 734.7L167.2 750.4M167.2 907L158.1 922.6M167.2 938.3L158.1 954M158.1 954L140.1 954M140.1 954L131 938.3M158.1 922.6L167.2 938.3M194.3 452.8L185.2 468.5M185.2 468.5L167.2 468.5M158.1 452.8L167.2 437.2M167.2 437.2L185.2 437.2M185.2 531.1L167.2 531.1M194.3 546.8L185.2 562.5M185.2 531.1L194.3 546.8M185.2 593.8L167.2 593.8M185.2 562.5L194.3 578.1M185.2 593.8L194.3 609.4M185.2 656.4L167.2 656.4M185.2 656.4L194.3 672.1M185.2 750.4L167.2 750.4M185.2 750.4L194.3 766M185.2 907L167.2 907M194.3 922.6L185.2 938.3M185.2 938.3L167.2 938.3M185.2 907L194.3 922.6M212.3 452.8L194.3 452.8M185.2 437.2L194.3 421.5M194.3 421.5L212.3 421.5M212.3 421.5L221.4 437.2M212.3 452.8L221.4 468.5M221.4 562.5L212.3 578.1M212.3 578.1L194.3 578.1M221.4 593.8L212.3 609.4M212.3 609.4L194.3 609.4M212.3 578.1L221.4 593.8M221.4 625.1L212.3 640.8M212.3 609.4L221.4 625.1M221.4 656.4L212.3 672.1M212.3 672.1L194.3 672.1M212.3 640.8L221.4 656.4M212.3 672.1L221.4 687.7M212.3 766L194.3 766M212.3 766L221.4 781.7M221.4 813L212.3 828.7M221.4 844.3L212.3 860M212.3 828.7L221.4 844.3M221.4 875.7L212.3 891.3M212.3 860L221.4 875.7M221.4 907L212.3 922.6M212.3 891.3L221.4 907M221.4 938.3L212.3 954M212.3 954L194.3 954M194.3 954L185.2 938.3M212.3 922.6L221.4 938.3M239.4 468.5L221.4 468.5M221.4 437.2L239.4 437.2M239.4 437.2L248.5 452.8M239.4 468.5L248.5 484.2M239.4 562.5L221.4 562.5M248.5 578.1L239.4 593.8M239.4 593.8L221.4 593.8M239.4 562.5L248.5 578.1M239.4 593.8L248.5 609.4M239.4 687.7L221.4 687.7M239.4 687.7L248.5 703.4M239.4 781.7L221.4 781.7M248.5 797.4L239.4 813M239.4 813L221.4 813M239.4 781.7L248.5 797.4M239.4 844.3L221.4 844.3M248.5 860L239.4 875.7M239.4 875.7L221.4 875.7M239.4 844.3L248.5 860M275.6 468.5L266.5 484.2M266.5 484.2L248.5 484.2M248.5 452.8L266.5 452.8M266.5 452.8L275.6 468.5M275.6 499.8L266.5 515.5M266.5 484.2L275.6 499.8M266.5 515.5L275.6 531.1M266.5 609.4L248.5 609.4M275.6 625.1L266.5 640.8M266.5 609.4L275.6 625.1M266.5 640.8L275.6 656.4M275.6 687.7L266.5 703.4M266.5 703.4L248.5 703.4M275.6 781.7L266.5 797.4M266.5 797.4L248.5 797.4M266.5 797.4L275.6 813M266.5 891.3L248.5 891.3M248.5 891.3L239.4 875.7M275.6 531.1L293.6 531.1M293.6 656.4L275.6 656.4M302.7 672.1L293.6 687.7M293.6 687.7L275.6 687.7M293.6 656.4L302.7 672.1M293.6 687.7L302.7 703.4M302.7 734.7L293.6 750.4M302.7 766L293.6 781.7M293.6 781.7L275.6 781.7M293.6 750.4L302.7 766M302.7 797.4L293.6 813M293.6 813L275.6 813M275.6 907L266.5 891.3M293.6 938.3L275.6 938.3M275.6 938.3L266.5 922.6M266.5 922.6L275.6 907M293.6 531.1L302.7 515.5M302.7 515.5L320.7 515.5M320.7 515.5L329.8 531.1M320.7 703.4L302.7 703.4M329.8 719.1L320.7 734.7M320.7 734.7L302.7 734.7M320.7 703.4L329.8 719.1M320.7 797.4L302.7 797.4M320.7 797.4L329.8 813M329.8 938.3L320.7 954M320.7 954L302.7 954M302.7 954L293.6 938.3M329.8 531.1L347.8 531.1M347.8 531.1L356.9 546.8M347.8 719.1L329.8 719.1M347.8 719.1L356.9 734.7M347.8 813L329.8 813M347.8 813L356.9 828.7M347.8 938.3L329.8 938.3M356.9 546.8L374.9 546.8M384 687.7L374.9 703.4M384 719.1L374.9 734.7M374.9 734.7L356.9 734.7M374.9 703.4L384 719.1M384 813L374.9 828.7M374.9 828.7L356.9 828.7M384 938.3L374.9 954M374.9 954L356.9 954M356.9 954L347.8 938.3M384 531.1L374.9 515.5M374.9 515.5L384 499.8M384 499.8L402 499.8M402 499.8L411.1 515.5M374.9 546.8L384 531.1M402 687.7L384 687.7M402 687.7L411.1 703.4M411.1 797.4L402 813M402 813L384 813M411.1 922.6L402 938.3M402 938.3L384 938.3M402 1439.4L384 1439.4M384 1439.4L374.9 1423.8M374.9 1423.8L384 1408.1M384 1408.1L402 1408.1M411.1 515.5L429.1 515.5M438.2 687.7L429.1 703.4M429.1 703.4L411.1 703.4M438.2 781.7L429.1 797.4M429.1 797.4L411.1 797.4M429.1 922.6L411.1 922.6M402 1408.1L411.1 1392.4M411.1 1392.4L429.1 1392.4M438.2 1439.4L429.1 1455.1M429.1 1455.1L411.1 1455.1M411.1 1455.1L402 1439.4M429.1 515.5L438.2 499.8M438.2 499.8L456.2 499.8M465.3 672.1L456.2 687.7M456.2 687.7L438.2 687.7M456.2 781.7L438.2 781.7M456.2 781.7L465.3 797.4M456.2 938.3L438.2 938.3M438.2 938.3L429.1 922.6M456.2 1032.3L438.2 1032.3M438.2 1032.3L429.1 1016.6M429.1 1016.6L438.2 1000.9M438.2 1000.9L456.2 1000.9M465.3 1079.2L456.2 1094.9M438.2 1094.9L429.1 1079.2M429.1 1079.2L438.2 1063.6M438.2 1063.6L456.2 1063.6M438.2 1126.2L429.1 1110.6M429.1 1110.6L438.2 1094.9M456.2 1094.9L465.3 1110.6M438.2 1157.5L429.1 1141.9M429.1 1141.9L438.2 1126.2M438.2 1188.9L429.1 1173.2M429.1 1173.2L438.2 1157.5M438.2 1220.2L429.1 1204.5M429.1 1204.5L438.2 1188.9M456.2 1251.5L438.2 1251.5M438.2 1251.5L429.1 1235.8M429.1 1235.8L438.2 1220.2M465.3 1267.2L456.2 1282.8M438.2 1282.8L429.1 1267.2M429.1 1267.2L438.2 1251.5M456.2 1251.5L465.3 1267.2M465.3 1298.5L456.2 1314.1M456.2 1314.1L438.2 1314.1M438.2 1314.1L429.1 1298.5M429.1 1298.5L438.2 1282.8M456.2 1282.8L465.3 1298.5M465.3 1329.8L456.2 1345.5M438.2 1345.5L429.1 1329.8M429.1 1329.8L438.2 1314.1M465.3 1361.1L456.2 1376.8M456.2 1376.8L438.2 1376.8M438.2 1376.8L429.1 1361.1M429.1 1361.1L438.2 1345.5M456.2 1345.5L465.3 1361.1M429.1 1392.4L438.2 1376.8M456.2 1439.4L438.2 1439.4M456.2 499.8L465.3 484.2M465.3 484.2L483.3 484.2M483.3 484.2L492.4 499.8M483.3 672.1L465.3 672.1M483.3 672.1L492.4 687.7M492.4 781.7L483.3 797.4M483.3 797.4L465.3 797.4M483.3 797.4L492.4 813M492.4 938.3L483.3 954M483.3 954L465.3 954M465.3 954L456.2 938.3M483.3 985.3L465.3 985.3M465.3 985.3L456.2 969.6M456.2 969.6L465.3 954M492.4 1000.9L483.3 1016.6M456.2 1000.9L465.3 985.3M483.3 985.3L492.4 1000.9M492.4 1032.3L483.3 1047.9M465.3 1047.9L456.2 1032.3M483.3 1016.6L492.4 1032.3M492.4 1063.6L483.3 1079.2M483.3 1079.2L465.3 1079.2M456.2 1063.6L465.3 1047.9M483.3 1047.9L492.4 1063.6M492.4 1094.9L483.3 1110.6M483.3 1110.6L465.3 1110.6M492.4 1251.5L483.3 1267.2M492.4 1282.8L483.3 1298.5M483.3 1267.2L492.4 1282.8M492.4 1314.1L483.3 1329.8M483.3 1329.8L465.3 1329.8M483.3 1298.5L492.4 1314.1M483.3 1455.1L465.3 1455.1M465.3 1455.1L456.2 1439.4M492.4 499.8L510.4 499.8M519.5 672.1L510.4 687.7M510.4 687.7L492.4 687.7M519.5 766L510.4 781.7M510.4 781.7L492.4 781.7M519.5 797.4L510.4 813M510.4 813L492.4 813M510.4 781.7L519.5 797.4M519.5 891.3L510.4 907M519.5 922.6L510.4 938.3M510.4 938.3L492.4 938.3M510.4 907L519.5 922.6M510.4 1094.9L492.4 1094.9M519.5 1110.6L510.4 1126.2M510.4 1094.9L519.5 1110.6M519.5 1141.9L510.4 1157.5M510.4 1126.2L519.5 1141.9M510.4 1157.5L519.5 1173.2M519.5 1204.5L510.4 1220.2M510.4 1251.5L492.4 1251.5M510.4 1220.2L519.5 1235.8M519.5 1267.2L510.4 1282.8M510.4 1251.5L519.5 1267.2M519.5 1298.5L510.4 1314.1M510.4 1282.8L519.5 1298.5M510.4 1314.1L519.5 1329.8M519.5 1392.4L510.4 1408.1M519.5 1423.8L510.4 1439.4M510.4 1408.1L519.5 1423.8M519.5 1455.1L510.4 1470.7M510.4 1470.7L492.4 1470.7M492.4 1470.7L483.3 1455.1M510.4 1439.4L519.5 1455.1M510.4 499.8L519.5 484.2M519.5 484.2L537.5 484.2M537.5 672.1L519.5 672.1M546.6 687.7L537.5 703.4M537.5 672.1L546.6 687.7M546.6 719.1L537.5 734.7M537.5 703.4L546.6 719.1M546.6 750.4L537.5 766M537.5 766L519.5 766M537.5 734.7L546.6 750.4M546.6 781.7L537.5 797.4M537.5 766L546.6 781.7M546.6 813L537.5 828.7M537.5 797.4L546.6 813M537.5 828.7L546.6 844.3M546.6 875.7L537.5 891.3M537.5 891.3L519.5 891.3M546.6 907L537.5 922.6M537.5 891.3L546.6 907M546.6 938.3L537.5 954M537.5 922.6L546.6 938.3M537.5 954L546.6 969.6M546.6 1063.6L537.5 1079.2M546.6 1094.9L537.5 1110.6M537.5 1110.6L519.5 1110.6M537.5 1079.2L546.6 1094.9M537.5 1110.6L546.6 1126.2M537.5 1173.2L519.5 1173.2M546.6 1188.9L537.5 1204.5M537.5 1204.5L519.5 1204.5M537.5 1173.2L546.6 1188.9M537.5 1235.8L519.5 1235.8M546.6 1251.5L537.5 1267.2M537.5 1267.2L519.5 1267.2M537.5 1235.8L546.6 1251.5M537.5 1329.8L519.5 1329.8M546.6 1345.5L537.5 1361.1M537.5 1329.8L546.6 1345.5M537.5 1392.4L519.5 1392.4M537.5 1361.1L546.6 1376.8M537.5 484.2L546.6 468.5M546.6 468.5L564.6 468.5M573.7 515.5L564.6 531.1M573.7 546.8L564.6 562.5M564.6 531.1L573.7 546.8M573.7 578.1L564.6 593.8M564.6 562.5L573.7 578.1M573.7 609.4L564.6 625.1M564.6 593.8L573.7 609.4M573.7 640.8L564.6 656.4M564.6 625.1L573.7 640.8M573.7 672.1L564.6 687.7M564.6 687.7L546.6 687.7M564.6 656.4L573.7 672.1M564.6 687.7L573.7 703.4M564.6 781.7L546.6 781.7M564.6 781.7L573.7 797.4M564.6 844.3L546.6 844.3M573.7 860L564.6 875.7M564.6 875.7L546.6 875.7M564.6 844.3L573.7 860M564.6 969.6L546.6 969.6M573.7 985.3L564.6 1000.9M564.6 969.6L573.7 985.3M573.7 1016.6L564.6 1032.3M564.6 1000.9L573.7 1016.6M573.7 1047.9L564.6 1063.6M564.6 1063.6L546.6 1063.6M564.6 1032.3L573.7 1047.9M564.6 1126.2L546.6 1126.2M564.6 1126.2L573.7 1141.9M564.6 1376.8L546.6 1376.8M573.7 1392.4L564.6 1408.1M546.6 1408.1L537.5 1392.4M564.6 1376.8L573.7 1392.4M573.7 1423.8L564.6 1439.4M564.6 1439.4L546.6 1439.4M546.6 1439.4L537.5 1423.8M537.5 1423.8L546.6 1408.1M564.6 1408.1L573.7 1423.8M600.8 468.5L591.7 484.2M564.6 468.5L573.7 452.8M573.7 452.8L591.7 452.8M591.7 452.8L600.8 468.5M600.8 499.8L591.7 515.5M591.7 515.5L573.7 515.5M591.7 484.2L600.8 499.8M591.7 703.4L573.7 703.4M591.7 703.4L600.8 719.1M591.7 797.4L573.7 797.4M600.8 813L591.7 828.7M591.7 797.4L600.8 813M600.8 844.3L591.7 860M591.7 860L573.7 860M591.7 828.7L600.8 844.3M600.8 875.7L591.7 891.3M591.7 860L600.8 875.7M591.7 891.3L600.8 907M591.7 1141.9L573.7 1141.9M600.8 1157.5L591.7 1173.2M591.7 1141.9L600.8 1157.5M591.7 1173.2L600.8 1188.9M591.7 1455.1L573.7 1455.1M573.7 1455.1L564.6 1439.4M591.7 452.8L600.8 437.2M600.8 437.2L618.8 437.2M627.9 484.2L618.8 499.8M618.8 499.8L627.9 515.5M627.9 703.4L618.8 719.1M618.8 719.1L600.8 719.1M618.8 813L600.8 813M627.9 828.7L618.8 844.3M618.8 844.3L600.8 844.3M618.8 813L627.9 828.7M618.8 907L600.8 907M627.9 922.6L618.8 938.3M618.8 907L627.9 922.6M627.9 954L618.8 969.6M618.8 938.3L627.9 954M627.9 985.3L618.8 1000.9M618.8 969.6L627.9 985.3M627.9 1016.6L618.8 1032.3M618.8 1000.9L627.9 1016.6M627.9 1047.9L618.8 1063.6M618.8 1032.3L627.9 1047.9M618.8 1063.6L627.9 1079.2M627.9 1110.6L618.8 1126.2M627.9 1141.9L618.8 1157.5M618.8 1126.2L627.9 1141.9M627.9 1173.2L618.8 1188.9M618.8 1188.9L600.8 1188.9M618.8 1157.5L627.9 1173.2M627.9 1204.5L618.8 1220.2M618.8 1188.9L627.9 1204.5M627.9 1235.8L618.8 1251.5M618.8 1220.2L627.9 1235.8M618.8 1251.5L627.9 1267.2M627.9 1455.1L618.8 1470.7M618.8 1470.7L600.8 1470.7M600.8 1470.7L591.7 1455.1M655 437.2L645.9 452.8M618.8 437.2L627.9 421.5M627.9 421.5L645.9 421.5M645.9 421.5L655 437.2M655 468.5L645.9 484.2M645.9 484.2L627.9 484.2M645.9 452.8L655 468.5M627.9 515.5L645.9 515.5M655 687.7L645.9 703.4M645.9 703.4L627.9 703.4M655 719.1L645.9 734.7M645.9 703.4L655 719.1M655 750.4L645.9 766M645.9 734.7L655 750.4M655 781.7L645.9 797.4M645.9 766L655 781.7M655 813L645.9 828.7M645.9 828.7L627.9 828.7M645.9 797.4L655 813M655 844.3L645.9 860M645.9 828.7L655 844.3M655 875.7L645.9 891.3M645.9 860L655 875.7M655 907L645.9 922.6M645.9 922.6L627.9 922.6M645.9 891.3L655 907M655 1094.9L645.9 1110.6M645.9 1110.6L627.9 1110.6M627.9 1079.2L645.9 1079.2M645.9 1079.2L655 1094.9M627.9 1267.2L645.9 1267.2M645.9 1267.2L655 1282.8M655 1345.5L645.9 1361.1M655 1376.8L645.9 1392.4M645.9 1361.1L655 1376.8M645.9 1392.4L655 1408.1M655 1439.4L645.9 1455.1M645.9 1455.1L627.9 1455.1M682.1 515.5L673 531.1M645.9 515.5L655 499.8M655 499.8L673 499.8M673 499.8L682.1 515.5M682.1 546.8L673 562.5M673 531.1L682.1 546.8M673 562.5L682.1 578.1M682.1 672.1L673 687.7M673 687.7L655 687.7M682.1 860L673 875.7M673 875.7L655 875.7M673 907L655 907M682.1 1298.5L673 1314.1M655 1282.8L673 1282.8M673 1282.8L682.1 1298.5M682.1 1329.8L673 1345.5M673 1345.5L655 1345.5M673 1314.1L682.1 1329.8M682.1 1392.4L673 1408.1M673 1408.1L655 1408.1M655 1376.8L673 1376.8M673 1376.8L682.1 1392.4M682.1 1423.8L673 1439.4M673 1439.4L655 1439.4M673 1408.1L682.1 1423.8M682.1 578.1L700.1 578.1M709.2 656.4L700.1 672.1M700.1 672.1L682.1 672.1M709.2 719.1L700.1 734.7M709.2 750.4L700.1 766M700.1 734.7L709.2 750.4M709.2 781.7L700.1 797.4M700.1 766L709.2 781.7M709.2 813L700.1 828.7M700.1 797.4L709.2 813M709.2 844.3L700.1 860M700.1 860L682.1 860M700.1 828.7L709.2 844.3M709.2 875.7L700.1 891.3M700.1 860L709.2 875.7M709.2 907L700.1 922.6M700.1 922.6L682.1 922.6M682.1 922.6L673 907M700.1 891.3L709.2 907M700.1 578.1L709.2 562.5M709.2 562.5L727.2 562.5M727.2 562.5L736.3 578.1M727.2 656.4L709.2 656.4M736.3 672.1L727.2 687.7M727.2 656.4L736.3 672.1M736.3 703.4L727.2 719.1M727.2 719.1L709.2 719.1M727.2 687.7L736.3 703.4M727.2 719.1L736.3 734.7M727.2 781.7L709.2 781.7M736.3 797.4L727.2 813M727.2 781.7L736.3 797.4M736.3 828.7L727.2 844.3M727.2 813L736.3 828.7M736.3 860L727.2 875.7M727.2 844.3L736.3 860M736.3 891.3L727.2 907M727.2 875.7L736.3 891.3M736.3 922.6L727.2 938.3M709.2 938.3L700.1 922.6M727.2 907L736.3 922.6M736.3 954L727.2 969.6M727.2 969.6L709.2 969.6M709.2 969.6L700.1 954M700.1 954L709.2 938.3M727.2 938.3L736.3 954M736.3 578.1L754.3 578.1M763.4 625.1L754.3 640.8M763.4 656.4L754.3 672.1M754.3 672.1L736.3 672.1M754.3 640.8L763.4 656.4M763.4 687.7L754.3 703.4M754.3 672.1L763.4 687.7M754.3 734.7L736.3 734.7M754.3 703.4L763.4 719.1M763.4 750.4L754.3 766M754.3 734.7L763.4 750.4M763.4 781.7L754.3 797.4M754.3 766L763.4 781.7M763.4 813L754.3 828.7M754.3 797.4L763.4 813M763.4 844.3L754.3 860M754.3 828.7L763.4 844.3M763.4 875.7L754.3 891.3M754.3 860L763.4 875.7M763.4 907L754.3 922.6M754.3 922.6L736.3 922.6M754.3 891.3L763.4 907M790.5 578.1L781.4 593.8M754.3 578.1L763.4 562.5M763.4 562.5L781.4 562.5M781.4 562.5L790.5 578.1M790.5 609.4L781.4 625.1M781.4 625.1L763.4 625.1M781.4 593.8L790.5 609.4M790.5 640.8L781.4 656.4M781.4 625.1L790.5 640.8M781.4 656.4L790.5 672.1M781.4 719.1L763.4 719.1M781.4 719.1L790.5 734.7M790.5 766L781.4 781.7M790.5 797.4L781.4 813M781.4 781.7L790.5 797.4M790.5 828.7L781.4 844.3M781.4 813L790.5 828.7M790.5 860L781.4 875.7M781.4 875.7L763.4 875.7M781.4 844.3L790.5 860M817.6 562.5L808.5 578.1M808.5 578.1L790.5 578.1M781.4 562.5L790.5 546.8M790.5 546.8L808.5 546.8M808.5 546.8L817.6 562.5M817.6 593.8L808.5 609.4M808.5 578.1L817.6 593.8M817.6 625.1L808.5 640.8M808.5 609.4L817.6 625.1M817.6 656.4L808.5 672.1M808.5 672.1L790.5 672.1M808.5 640.8L817.6 656.4M817.6 687.7L808.5 703.4M808.5 672.1L817.6 687.7M817.6 719.1L808.5 734.7M808.5 734.7L790.5 734.7M808.5 703.4L817.6 719.1M817.6 750.4L808.5 766M808.5 766L790.5 766M808.5 734.7L817.6 750.4M808.5 766L817.6 781.7M808.5 860L790.5 860M808.5 891.3L790.5 891.3M790.5 891.3L781.4 875.7M808.5 860L817.6 875.7M844.7 609.4L835.6 625.1M835.6 625.1L817.6 625.1M817.6 593.8L835.6 593.8M844.7 797.4L835.6 813M817.6 781.7L835.6 781.7M835.6 781.7L844.7 797.4M835.6 813L844.7 828.7M844.7 860L835.6 875.7M835.6 875.7L817.6 875.7M817.6 907L808.5 891.3M817.6 938.3L808.5 922.6M808.5 922.6L817.6 907M817.6 969.6L808.5 954M808.5 954L817.6 938.3M844.7 985.3L835.6 1000.9M835.6 1000.9L817.6 1000.9M817.6 1000.9L808.5 985.3M808.5 985.3L817.6 969.6M871.8 593.8L862.7 609.4M862.7 609.4L844.7 609.4M835.6 593.8L844.7 578.1M844.7 578.1L862.7 578.1M862.7 578.1L871.8 593.8M871.8 844.3L862.7 860M862.7 860L844.7 860M844.7 828.7L862.7 828.7M862.7 828.7L871.8 844.3M871.8 875.7L862.7 891.3M862.7 860L871.8 875.7M871.8 907L862.7 922.6M862.7 891.3L871.8 907M871.8 938.3L862.7 954M862.7 922.6L871.8 938.3M871.8 969.6L862.7 985.3M862.7 985.3L844.7 985.3M862.7 954L871.8 969.6M889.8 625.1L871.8 625.1M871.8 625.1L862.7 609.4M871.8 593.8L889.8 593.8M889.8 593.8L898.9 609.4M926 625.1L916.9 640.8M916.9 640.8L898.9 640.8M898.9 640.8L889.8 625.1M898.9 609.4L916.9 609.4M926 656.4L916.9 672.1M916.9 672.1L898.9 672.1M898.9 672.1L889.8 656.4M889.8 656.4L898.9 640.8M944 625.1L926 625.1M916.9 609.4L926 593.8M926 593.8L944 593.8M944 593.8L953.1 609.4M953.1 640.8L944 656.4M944 656.4L926 656.4M944 625.1L953.1 640.8M953.1 672.1L944 687.7M944 687.7L926 687.7M926 687.7L916.9 672.1M944 656.4L953.1 672.1M953.1 703.4L944 719.1M944 719.1L926 719.1M926 719.1L916.9 703.4M916.9 703.4L926 687.7M944 687.7L953.1 703.4M980.2 625.1L971.1 640.8M971.1 640.8L953.1 640.8M953.1 609.4L971.1 609.4M971.1 609.4L980.2 625.1M971.1 672.1L953.1 672.1M980.2 531.1L971.1 515.5M971.1 515.5L980.2 499.8M980.2 499.8L998.2 499.8M998.2 499.8L1007.3 515.5M998.2 562.5L980.2 562.5M980.2 562.5L971.1 546.8M971.1 546.8L980.2 531.1M1007.3 578.1L998.2 593.8M980.2 593.8L971.1 578.1M971.1 578.1L980.2 562.5M998.2 562.5L1007.3 578.1M1007.3 609.4L998.2 625.1M971.1 609.4L980.2 593.8M998.2 593.8L1007.3 609.4M1007.3 640.8L998.2 656.4M998.2 625.1L1007.3 640.8M1007.3 672.1L998.2 687.7M998.2 687.7L980.2 687.7M980.2 687.7L971.1 672.1M998.2 656.4L1007.3 672.1M1025.3 515.5L1007.3 515.5M998.2 499.8L1007.3 484.2M1007.3 484.2L1025.3 484.2M1025.3 484.2L1034.4 499.8M1025.3 515.5L1034.4 531.1M1034.4 562.5L1025.3 578.1M1025.3 578.1L1007.3 578.1M1034.4 593.8L1025.3 609.4M1025.3 609.4L1007.3 609.4M1025.3 578.1L1034.4 593.8M1034.4 625.1L1025.3 640.8M1025.3 640.8L1007.3 640.8M1025.3 609.4L1034.4 625.1M1034.4 656.4L1025.3 672.1M1025.3 672.1L1007.3 672.1M1025.3 640.8L1034.4 656.4M1034.4 687.7L1025.3 703.4M1025.3 703.4L1007.3 703.4M1007.3 703.4L998.2 687.7M1025.3 672.1L1034.4 687.7M1061.5 515.5L1052.4 531.1M1052.4 531.1L1034.4 531.1M1034.4 499.8L1052.4 499.8M1052.4 499.8L1061.5 515.5M1061.5 546.8L1052.4 562.5M1052.4 562.5L1034.4 562.5M1052.4 531.1L1061.5 546.8"/>
<path fill="#e5cc9e" stroke="#111" stroke-width="1.5" d="M206.4 1149.5L197.3 1165.2L179.3 1165.2L170.2 1149.5L179.3 1133.8L197.3 1133.8Z"/>
<path fill="#e5cc9e" stroke="#111" stroke-width="1.5" d="M915.4 1149.5L906.3 1165.2L888.3 1165.2L879.2 1149.5L888.3 1133.8L906.3 1133.8Z"/>
</g>
<!-- india -->
<g id="india">
<path fill="#98c996" d="M1844.2 820.0L1981.6 820.0L1981.6 1221.6L1807.0 1221.6L1784.9 1143.5L1774.1 1073.4L1776.8 1019.5L1822.6 954.8L1844.2 911.6Z"/>
<path fill="#c29b8d" d="M1980.0 648.9L1996.2 638.2L2012.3 643.6L2020.4 648.9L2028.5 662.4L2042.0 670.5L2058.2 675.9L2074.3 684.0L2087.8 692.1L2098.6 697.5L2117.5 710.9L2130.9 716.3L2147.1 721.7L2157.9 724.4L2168.7 732.5L2184.9 731.2L2192.9 729.8L2206.4 732.5L2217.2 732.5L2222.6 737.9L2233.4 746.0L2244.2 751.4L2257.6 756.8L2265.7 755.4L2276.5 764.9L2290.0 764.9L2303.5 767.5L2316.9 768.9L2330.4 772.9L2341.2 772.9L2352.0 767.5L2354.7 748.7L2354.7 737.9L2357.4 789.1L2381.6 810.7L2381.6 961.6L1980.0 961.6Z"/>
<path fill="#8a8a8a" d="M1808.3 368.5L1809.9 356.4L1820.4 351.5L1828.5 339.4L1847.9 337.8L1851.2 332.1L1864.1 332.9L1881.9 326.5L1893.2 330.5L1904.5 328.1L1909.4 337.8L1919.1 349.1L1935.3 357.2L1951.4 370.1L1953.9 378.2L1962.8 384.7L1974.1 389.5L1976.5 396.0L1966.0 404.1L1961.1 417.0L1941.7 425.1L1917.5 434.8L1899.7 434.8L1896.4 431.6L1877.0 420.3L1856.0 421.9L1849.5 439.7L1852.8 449.4L1854.4 467.2L1856.0 485.0L1867.3 496.3L1868.1 506.0L1856.0 501.9L1843.1 494.7L1836.6 481.7L1838.2 465.6L1835.0 449.4L1833.4 433.2L1843.1 425.1L1854.4 418.7L1859.2 407.3L1847.9 399.2L1846.3 389.5L1836.6 384.7L1828.5 375.0L1817.2 371.8Z"/>
<path fill="#7c7284" d="M1896.4 433.2L1917.5 436.4L1941.7 425.1L1961.1 417.0L1966.0 404.1L1974.1 396.0L1985.4 396.0L1990.2 400.9L1998.3 407.3L1999.9 417.0L2006.4 436.4L2019.4 442.9L2022.6 449.4L2019.4 460.7L2022.6 483.3L2032.3 489.8L2042.0 491.4L2040.4 504.4L2046.8 514.1L2037.1 520.5L2029.1 520.5L2019.4 515.7L2004.8 522.2L2001.6 514.1L1995.1 515.7L1982.2 504.4L1969.2 506.0L1957.9 499.5L1949.8 491.4L1941.7 481.7L1925.6 465.6L1909.4 449.4L1904.5 442.9Z"/>
<path fill="#76aeaa" d="M1877.0 442.9L1886.7 436.4L1896.4 433.2L1904.5 442.9L1909.4 449.4L1925.6 465.6L1941.7 481.7L1948.2 489.8L1941.7 493.0L1925.6 496.3L1917.5 502.8L1917.5 514.1L1909.4 522.2L1902.9 527.0L1893.2 522.2L1888.4 517.3L1883.5 514.1L1885.1 506.0L1877.0 499.5L1872.2 493.0L1873.8 481.7L1873.8 475.3L1870.6 465.6L1868.9 459.1L1873.8 449.4Z"/>
<path fill="#7ca87c" d="M1872.2 468.8L1883.5 452.6L1893.2 447.8L1906.1 446.1L1907.8 451.0L1902.9 457.5L1904.5 473.6L1901.3 481.7L1893.2 475.3L1885.1 475.3L1877.0 475.3Z"/>
<path fill="#b9a585" d="M1849.5 439.7L1856.0 423.5L1868.9 420.3L1893.2 430.0L1896.4 433.2L1886.7 436.4L1877.0 442.9L1873.8 449.4L1868.9 459.1L1870.6 465.6L1873.8 475.3L1873.8 481.7L1872.2 493.0L1877.0 499.5L1885.1 506.0L1883.5 514.1L1893.2 512.5L1896.4 514.1L1891.6 518.9L1880.3 517.3L1873.8 514.1L1872.2 506.0L1867.3 496.3L1856.0 485.0L1854.4 467.2L1852.8 449.4Z"/>
<path fill="#d3d07a" d="M1890.7 520.4L1904.2 515.0L1917.6 502.6L1931.1 496.2L1948.1 488.1L1963.5 496.2L1979.6 504.3L2001.2 512.3L2003.9 525.8L2009.3 542.0L2017.4 560.9L2022.7 574.3L2012.0 579.7L1985.0 579.7L1976.9 593.2L1971.5 609.4L1963.5 617.5L1958.1 606.7L1947.3 587.8L1944.6 595.9L1936.5 606.7L1925.7 628.2L1909.5 630.9L1890.7 636.3L1874.5 630.9L1863.7 625.6L1842.2 620.2L1840.8 609.4L1844.9 598.6L1855.6 590.5L1863.7 582.4L1869.1 568.9L1867.8 550.1L1871.8 539.3L1888.0 533.9L1898.8 523.1Z"/>
<path fill="#628c8d" d="M1947.3 587.8L1958.1 606.7L1971.5 609.4L1963.5 620.2L1958.1 633.6L1956.7 652.5L1955.4 668.7L1963.5 684.9L1967.5 701.0L1963.5 711.8L1947.3 714.5L1939.2 701.0L1925.7 698.3L1914.9 709.1L1909.5 690.2L1898.8 674.1L1893.4 652.5L1877.2 649.8L1863.7 641.7L1863.7 625.6L1890.7 636.3L1909.5 630.9L1925.7 628.2L1936.5 606.7Z"/>
<path fill="#9b8fa4" d="M1764.0 695.6L1780.2 666.0L1812.5 649.8L1823.3 620.2L1842.2 617.5L1863.7 625.6L1863.7 641.7L1877.2 649.8L1893.4 652.5L1898.8 674.1L1909.5 690.2L1914.9 709.1L1925.7 698.3L1939.2 701.0L1947.3 714.5L1963.5 711.8L1971.5 738.8L1963.5 754.9L1990.4 752.2L1963.5 765.7L1939.2 776.5L1941.9 765.7L1925.7 760.3L1909.5 765.7L1896.1 754.9L1882.6 757.6L1866.4 749.5L1855.6 754.9L1850.2 741.5L1828.7 752.2L1804.4 728.0L1774.8 711.8Z"/>
<path fill="#c29b8d" d="M1672.3 736.1L1691.2 701.0L1715.5 692.9L1720.9 703.7L1742.4 701.0L1764.0 695.6L1774.8 711.8L1804.4 728.0L1828.7 752.2L1850.2 741.5L1855.6 754.9L1866.4 749.5L1882.6 757.6L1896.1 754.9L1909.5 765.7L1925.7 760.3L1941.9 765.7L1939.2 776.5L1928.4 790.0L1931.1 806.1L1958.1 816.9L1950.0 830.4L1939.2 835.8L1939.2 857.4L1925.7 862.7L1909.5 868.1L1906.8 881.6L1826.0 881.6L1815.2 868.1L1799.0 857.4L1793.6 843.9L1753.2 846.6L1731.6 835.8L1720.9 833.1L1715.5 803.5L1693.9 787.3L1691.2 771.1Z"/>
<path fill="#d3d07a" d="M1861.0 830.4L1877.2 825.0L1893.4 830.4L1901.5 846.6L1898.8 881.6L1863.7 881.6L1858.3 857.4Z"/>
<path fill="#628c8d" d="M1928.4 790.0L1939.2 776.5L1963.5 765.7L1990.4 754.9L2017.4 760.3L2022.7 776.5L2012.0 803.5L1990.4 808.8L1979.6 816.9L1998.5 830.4L2009.3 852.0L1990.4 862.7L1985.0 881.6L1906.8 881.6L1909.5 868.1L1925.7 862.7L1939.2 857.4L1939.2 835.8L1950.0 830.4L1958.1 816.9L1944.6 811.5L1931.1 806.1Z"/>
<path fill="#98c996" d="M1640.0 841.2L1667.0 843.9L1693.9 841.2L1720.9 833.1L1731.6 835.8L1753.2 846.6L1793.6 843.9L1799.0 857.4L1815.2 868.1L1826.0 881.6L1640.0 881.6Z"/>
<path fill="#e6cd9e" d="M1971.5 609.4L1976.9 593.2L1985.0 579.7L2022.7 574.3L2041.6 566.3L2041.6 657.9L2017.4 652.5L2003.9 639.0L1993.1 636.3L1990.4 647.1L1993.1 663.3L1979.6 684.9L1976.9 701.0L1968.8 703.7L1963.5 684.9L1955.4 668.7L1956.7 652.5L1958.1 633.6L1963.5 620.2Z"/>
<path fill="#9cd8d3" d="M1990.4 636.3L2001.2 639.0L2003.9 663.3L2017.4 668.7L2001.2 684.9L1993.1 701.0L1990.4 706.4L2003.9 714.5L1995.8 730.7L1998.5 736.1L1990.4 752.2L1963.5 754.9L1971.5 738.8L1960.8 717.2L1966.1 703.7L1976.9 701.0L1979.6 684.9L1993.1 663.3Z"/>
<path fill="#98c996" d="M2001.2 641.7L2017.4 652.5L2041.6 657.9L2041.6 733.4L2017.4 728.0L2006.6 733.4L1998.5 722.6L1998.5 701.0L2012.0 690.2L2001.2 679.5L2003.9 663.3Z"/>
<path fill="#c29b8d" d="M1995.8 692.9L2012.0 690.2L2028.1 701.0L2017.4 709.1L2006.6 711.8Z"/>
<path fill="#c29b8d" d="M1990.4 736.1L2017.4 730.7L2041.6 722.6L2041.6 776.5L2022.7 776.5L2017.4 760.3L1998.5 752.2Z"/>
<path fill="#e6cd9e" d="M2418.2 772.5L2420.8 755.0L2437.0 746.9L2461.3 748.2L2486.9 745.5L2509.8 740.1L2501.7 734.7L2482.8 713.2L2480.1 705.1L2496.3 702.4L2509.8 699.7L2520.6 688.9L2536.7 678.2L2552.9 666.0L2569.1 653.9L2574.5 640.4L2585.2 633.7L2598.7 640.4L2617.6 635.0L2636.4 624.3L2648.6 631.0L2658.0 647.2L2652.6 662.0L2671.5 664.7L2689.0 671.4L2690.3 683.5L2676.9 697.0L2678.2 707.8L2684.9 715.9L2671.5 714.5L2655.3 719.9L2636.4 721.3L2620.3 732.1L2614.9 745.5L2617.6 764.4L2612.2 775.2L2598.7 785.9L2600.1 799.4L2605.4 807.5L2602.8 829.1L2593.3 837.2L2589.3 858.7L2561.0 856.0L2558.3 872.2L2555.6 896.4L2556.9 923.4L2547.5 939.6L2536.7 938.2L2532.7 918.0L2525.9 896.4L2519.2 872.2L2517.9 853.3L2515.2 842.5L2520.6 823.7L2525.9 815.6L2512.5 815.6L2490.9 812.9L2464.0 815.6L2442.4 814.2L2423.5 811.6L2422.2 799.4L2423.5 788.6Z"/>
<path fill="#98c996" d="M2418.2 772.5L2420.8 755.0L2434.3 746.9L2461.3 748.2L2486.9 746.9L2490.9 759.0L2504.4 767.1L2501.7 775.2L2485.5 777.9L2458.6 781.9L2437.0 783.3L2423.5 785.9Z"/>
<path fill="#9cd8d3" d="M2486.9 745.5L2509.8 740.1L2512.5 753.6L2528.6 759.0L2544.8 750.9L2561.0 749.6L2569.1 756.3L2569.1 772.5L2555.6 788.6L2552.9 804.8L2547.5 815.6L2544.8 837.2L2534.0 839.8L2520.6 850.6L2513.8 842.5L2520.6 823.7L2528.6 815.6L2517.9 804.8L2509.8 785.9L2504.4 769.8L2490.9 759.0Z"/>
<path fill="#9cd8d3" d="M2571.8 815.6L2579.8 812.9L2583.9 821.0L2577.2 839.8L2571.8 837.2Z"/>
<path fill="#9cd8d3" d="M2490.9 856.0L2515.2 837.2L2517.9 858.7L2512.5 872.2L2501.7 891.1L2501.7 901.8L2493.6 901.8L2488.2 885.7L2496.3 869.5Z"/>
<path fill="#e6cd9e" d="M2477.4 872.2L2488.2 858.7L2496.3 869.5L2488.2 885.7L2485.5 896.4Z"/>
<path fill="#e6cd9e" d="M2354.8 707.8L2366.9 701.1L2380.4 702.4L2383.1 713.2L2383.1 734.7L2375.0 740.1L2361.6 738.8L2353.5 734.7L2353.5 721.3Z"/>
<path fill="#e6cd9e" d="M2391.2 750.9L2404.7 750.9L2420.8 755.0L2418.2 772.5L2412.8 785.9L2402.0 783.3L2393.9 767.1Z"/>
<path fill="#c29b8d" d="M1720.2 820.0L1860.3 820.0L1860.3 828.1L1863.0 847.0L1865.7 873.9L1863.0 884.7L1849.5 892.8L1844.2 911.6L1838.8 903.6L1822.6 890.1L1814.5 884.7L1806.4 868.5L1798.3 852.3L1795.6 844.3L1790.2 847.0L1768.7 841.6L1747.1 836.2L1730.9 830.8L1720.2 830.8Z"/>
<path fill="#c29b8d" d="M1876.5 820.0L1941.2 820.0L1943.9 836.2L1938.5 852.3L1919.6 857.7L1906.1 868.5L1898.1 871.2L1903.5 852.3L1900.8 841.6L1890.0 836.2L1876.5 825.4Z"/>
<path fill="#98c996" d="M1608.3 860.4L1612.3 852.3L1633.9 849.6L1636.6 838.9L1660.9 844.3L1677.0 847.0L1698.6 841.6L1706.7 836.2L1720.2 830.8L1730.9 830.8L1747.1 836.2L1768.7 841.6L1790.2 847.0L1795.6 844.3L1798.3 852.3L1806.4 868.5L1814.5 884.7L1822.6 890.1L1838.8 903.6L1844.2 911.6L1833.4 922.4L1830.7 935.9L1833.4 946.7L1822.6 952.1L1817.2 960.2L1822.6 970.9L1814.5 981.7L1817.2 995.2L1806.4 1003.3L1798.3 1008.7L1790.2 1011.4L1779.5 1019.5L1771.4 1019.5L1774.1 1008.7L1776.8 995.2L1774.1 981.7L1776.8 968.2L1768.7 954.8L1768.7 946.7L1763.3 941.3L1757.9 938.6L1757.9 954.8L1755.2 970.9L1741.7 976.3L1720.2 984.4L1704.0 989.8L1687.8 984.4L1674.3 970.9L1660.9 954.8L1647.4 935.9L1636.6 919.7L1633.9 914.3L1642.0 911.6L1660.9 908.9L1674.3 906.3L1687.8 900.9L1698.6 895.5L1704.0 890.1L1693.2 887.4L1674.3 898.2L1660.9 900.9L1642.0 898.2L1625.8 887.4L1617.7 873.9L1615.0 867.2L1608.3 863.1Z"/>
<path fill="#d3d07a" d="M1860.3 828.1L1876.5 825.4L1890.0 836.2L1900.8 841.6L1903.5 852.3L1898.1 871.2L1911.5 879.3L1930.4 887.4L1941.2 890.1L1941.2 906.3L1930.4 919.7L1930.4 933.2L1925.0 944.0L1927.7 960.2L1925.0 976.3L1916.9 987.1L1903.5 981.7L1876.5 976.3L1865.7 976.3L1860.3 965.6L1844.2 954.8L1833.4 946.7L1830.7 935.9L1833.4 922.4L1844.2 911.6L1849.5 892.8L1863.0 884.7L1865.7 873.9L1863.0 847.0Z"/>
<path fill="#628c8d" d="M1938.5 820.0L1981.6 820.0L1981.6 917.0L1957.4 922.4L1952.0 927.8L1930.4 930.5L1927.7 922.4L1941.2 906.3L1941.2 890.1L1930.4 887.4L1911.5 879.3L1906.1 868.5L1919.6 857.7L1938.5 852.3L1943.9 836.2Z"/>
<path fill="#9b8fa4" d="M1927.7 927.8L1952.0 927.8L1981.6 917.0L1981.6 973.6L1962.7 973.6L1957.4 965.6L1927.7 965.6L1925.0 944.0Z"/>
<path fill="#98c996" d="M1774.1 1073.4L1795.6 1076.1L1809.1 1084.2L1822.6 1092.2L1838.8 1089.5L1849.5 1084.2L1852.2 1073.4L1860.3 1089.5L1865.7 1105.7L1871.1 1116.5L1865.7 1130.0L1871.1 1143.5L1881.9 1138.1L1903.5 1138.1L1908.8 1132.7L1919.6 1127.3L1930.4 1116.5L1938.5 1111.1L1952.0 1103.0L1957.4 1103.0L1952.0 1121.9L1952.0 1143.5L1946.6 1170.4L1952.0 1192.0L1941.2 1202.7L1930.4 1221.6L1807.0 1221.6L1795.6 1197.4L1790.2 1170.4L1784.9 1143.5L1784.9 1116.5L1779.5 1103.0L1779.5 1089.5Z"/>
<path fill="#c29b8d" d="M1817.2 954.8L1833.4 946.7L1844.2 954.8L1860.3 965.6L1865.7 976.3L1857.6 987.1L1854.9 1008.7L1852.2 1024.9L1846.8 1035.6L1865.7 1046.4L1860.3 1057.2L1838.8 1054.5L1828.0 1062.6L1833.4 1076.1L1838.8 1089.5L1822.6 1092.2L1809.1 1084.2L1795.6 1076.1L1774.1 1073.4L1771.4 1035.6L1771.4 1019.5L1779.5 1019.5L1790.2 1011.4L1798.3 1008.7L1806.4 1003.3L1817.2 995.2L1814.5 981.7L1822.6 970.9L1817.2 960.2Z"/>
<path fill="#98c996" d="M1860.3 976.3L1876.5 976.3L1903.5 981.7L1916.9 987.1L1919.6 997.9L1900.8 1006.0L1898.1 1019.5L1903.5 1035.6L1887.3 1043.7L1879.2 1054.5L1873.8 1062.6L1865.7 1068.0L1852.2 1070.7L1849.5 1084.2L1838.8 1089.5L1833.4 1076.1L1828.0 1062.6L1838.8 1054.5L1860.3 1057.2L1865.7 1046.4L1846.8 1035.6L1852.2 1024.9L1854.9 1008.7L1857.6 987.1L1865.7 976.3Z"/>
<path fill="#9cd8d3" d="M1916.9 987.1L1927.7 979.0L1952.0 968.2L1962.7 973.6L1981.6 979.0L1981.6 1003.3L1962.7 1003.3L1952.0 1014.1L1941.2 1030.2L1952.0 1043.7L1981.6 1038.3L1981.6 1062.6L1968.1 1068.0L1962.7 1078.8L1965.4 1089.5L1952.0 1103.0L1938.5 1111.1L1930.4 1116.5L1919.6 1127.3L1908.8 1132.7L1903.5 1138.1L1881.9 1138.1L1871.1 1143.5L1865.7 1130.0L1871.1 1116.5L1865.7 1105.7L1860.3 1089.5L1852.2 1073.4L1865.7 1068.0L1873.8 1062.6L1879.2 1054.5L1887.3 1043.7L1903.5 1035.6L1898.1 1019.5L1900.8 1006.0L1919.6 997.9Z"/>
<path fill="#e6cd9e" d="M1941.2 1030.2L1952.0 1014.1L1962.7 1003.3L1981.6 997.9L1981.6 1038.3L1952.0 1043.7Z"/>
<path fill="#e6cd9e" d="M1968.1 1068.0L1981.6 1062.6L1981.6 1221.6L1930.4 1221.6L1941.2 1202.7L1952.0 1192.0L1946.6 1170.4L1952.0 1143.5L1952.0 1121.9L1957.4 1103.0L1965.4 1089.5L1962.7 1078.8Z"/>
<path fill="#e6cd9e" d="M1980.0 581.6L1988.1 576.2L2007.0 578.9L2020.4 570.8L2028.5 568.1L2033.9 576.2L2042.0 584.3L2058.2 595.0L2068.9 605.8L2077.0 613.9L2095.9 616.6L2087.8 627.4L2077.0 635.5L2068.9 648.9L2068.9 662.4L2060.9 673.2L2052.8 675.9L2042.0 670.5L2028.5 662.4L2020.4 648.9L2012.3 643.6L1996.2 638.2L1985.4 648.9L1980.0 648.9Z"/>
<path fill="#9cd8d3" d="M1980.0 648.9L1985.4 648.9L1996.2 638.2L2007.0 640.9L2004.3 659.7L2001.6 678.6L2004.3 694.8L2001.6 710.9L2007.0 727.1L1996.2 743.3L1980.0 746.0Z"/>
<path fill="#98c996" d="M2004.3 659.7L2020.4 662.4L2033.9 673.2L2052.8 675.9L2060.9 681.3L2071.6 686.7L2068.9 694.8L2055.5 700.2L2042.0 710.9L2033.9 721.7L2020.4 732.5L2007.0 727.1L2001.6 710.9L2004.3 694.8L2001.6 678.6Z"/>
<path fill="#c29b8d" d="M1996.2 692.1L2012.3 689.4L2028.5 694.8L2025.8 705.6L2012.3 708.2L2001.6 702.9Z"/>
<path fill="#c29b8d" d="M1980.0 746.0L1996.2 743.3L2007.0 727.1L2020.4 732.5L2033.9 721.7L2047.4 708.2L2068.9 694.8L2077.0 684.0L2087.8 689.4L2095.9 694.8L2095.9 710.9L2087.8 727.1L2079.7 748.7L2082.4 770.2L2087.8 783.7L2071.6 791.8L2060.9 802.6L2047.4 813.4L2033.9 818.8L2020.4 816.1L2012.3 802.6L2015.0 791.8L2007.0 775.6L2001.6 759.5L1993.5 754.1L1980.0 754.1Z"/>
<path fill="#9b8fa4" d="M2082.4 694.8L2098.6 694.8L2120.2 713.6L2139.0 724.4L2144.4 735.2L2133.6 748.7L2128.2 770.2L2114.8 786.4L2120.2 802.6L2114.8 818.8L2130.9 837.6L2114.8 832.2L2093.2 824.2L2074.3 821.5L2063.6 802.6L2071.6 791.8L2085.1 783.7L2079.7 764.9L2079.7 743.3L2087.8 721.7L2077.0 705.6Z"/>
<path fill="#628c8d" d="M2117.5 713.6L2130.9 716.3L2147.1 721.7L2157.9 724.4L2174.1 732.5L2174.1 746.0L2179.5 764.9L2171.4 775.6L2174.1 797.2L2168.7 808.0L2155.2 813.4L2141.7 818.8L2136.3 834.9L2125.6 829.5L2114.8 818.8L2120.2 802.6L2114.8 786.4L2128.2 770.2L2133.6 748.7L2144.4 735.2L2139.0 724.4Z"/>
<path fill="#d3d07a" d="M2174.1 732.5L2190.2 729.8L2198.3 737.9L2203.7 754.1L2217.2 762.2L2209.1 775.6L2211.8 791.8L2222.6 799.9L2238.8 802.6L2249.5 805.3L2265.7 813.4L2276.5 824.2L2265.7 832.2L2249.5 840.3L2236.1 843.0L2222.6 845.7L2211.8 853.8L2195.6 851.1L2184.9 851.1L2179.5 867.3L2174.1 878.1L2163.3 875.4L2157.9 859.2L2157.9 845.7L2141.7 840.3L2136.3 834.9L2141.7 821.5L2155.2 813.4L2168.7 808.0L2174.1 797.2L2171.4 775.6L2179.5 764.9L2174.1 746.0Z"/>
<path fill="#c29b8d" d="M2171.9 775.6L2182.2 772.9L2182.7 791.8L2174.6 805.3L2170.3 797.2Z"/>
<path fill="#628c8d" d="M2201.0 732.5L2214.5 732.5L2228.0 743.3L2244.2 751.4L2260.3 759.5L2271.1 764.9L2265.7 775.6L2260.3 791.8L2249.5 797.2L2230.7 797.2L2217.2 791.8L2209.1 775.6L2217.2 762.2L2203.7 754.1Z"/>
<path fill="#9b8fa4" d="M2260.3 756.8L2276.5 764.9L2279.2 775.6L2271.1 789.1L2265.7 802.6L2249.5 799.9L2230.7 797.2L2249.5 797.2L2260.3 791.8L2265.7 775.6Z"/>
<path fill="#c29b8d" d="M2265.7 775.6L2279.2 778.3L2290.0 789.1L2295.4 802.6L2303.5 813.4L2300.8 824.2L2290.0 826.8L2279.2 821.5L2265.7 813.4L2260.3 797.2Z"/>
<path fill="#98c996" d="M2279.2 764.9L2303.5 767.5L2319.6 770.2L2338.5 772.9L2341.2 789.1L2330.4 797.2L2316.9 802.6L2303.5 810.7L2295.4 799.9L2290.0 789.1L2279.2 778.3Z"/>
<path fill="#9cd8d3" d="M2303.5 810.7L2316.9 802.6L2330.4 797.2L2341.2 791.8L2346.6 802.6L2343.9 818.8L2325.0 818.8L2319.6 837.6L2303.5 845.7L2300.8 826.8Z"/>
<path fill="#d3d07a" d="M2300.8 845.7L2316.9 837.6L2325.0 818.8L2338.5 816.1L2346.6 818.8L2346.6 843.0L2338.5 859.2L2322.3 875.4L2308.8 875.4L2300.8 861.9Z"/>
<path fill="#e6cd9e" d="M2206.4 853.8L2222.6 845.7L2236.1 843.0L2249.5 840.3L2265.7 832.2L2276.5 824.2L2290.0 829.5L2300.8 845.7L2300.8 856.5L2287.3 853.8L2271.1 845.7L2254.9 845.7L2238.8 851.1L2228.0 856.5L2211.8 859.2Z"/>
<path fill="#98c996" d="M2346.6 802.6L2362.7 802.6L2381.6 802.6L2381.6 856.5L2362.7 859.2L2352.0 845.7L2346.6 829.5Z"/>
<path fill="#628c8d" d="M1980.0 754.1L1996.2 759.5L2009.6 756.8L2020.4 764.9L2020.4 791.8L2012.3 802.6L1996.2 813.4L1988.1 829.5L1990.8 856.5L1980.0 859.2Z"/>
<path fill="#c29b8d" d="M1988.1 829.5L2001.6 818.8L2020.4 816.1L2012.3 840.3L2015.0 856.5L1996.2 859.2L1990.8 845.7Z"/>
<path fill="#9b8fa4" d="M2001.6 818.8L2033.9 821.5L2060.9 818.8L2074.3 824.2L2093.2 826.8L2106.7 826.8L2130.9 837.6L2120.2 848.4L2106.7 861.9L2093.2 872.7L2077.0 878.1L2060.9 888.8L2052.8 899.6L2028.5 902.3L2012.3 910.4L1996.2 918.5L1980.0 918.5L1980.0 910.4L2007.0 907.7L2009.6 888.8L2004.3 867.3L1996.2 851.1L2015.0 856.5L2012.3 840.3L2020.4 816.1Z"/>
<path fill="#628c8d" d="M1980.0 859.2L1990.8 856.5L1996.2 851.1L2004.3 867.3L2009.6 888.8L2007.0 907.7L1980.0 910.4Z"/>
<path fill="#c29b8d" d="M2106.7 861.9L2130.9 851.1L2141.7 845.7L2157.9 845.7L2157.9 859.2L2152.5 872.7L2136.3 878.1L2130.9 891.5L2136.3 910.4L2120.2 923.9L2106.7 932.0L2093.2 918.5L2087.8 902.3L2077.0 891.5L2060.9 888.8L2077.0 878.1L2093.2 872.7Z"/>
<path fill="#c29b8d" d="M1980.0 942.7L1996.2 918.5L2012.3 910.4L2028.5 902.3L2052.8 899.6L2060.9 888.8L2077.0 891.5L2087.8 902.3L2093.2 918.5L2106.7 932.0L2095.9 942.7L2087.8 961.6L1980.0 961.6Z"/>
<path fill="#98c996" d="M2117.5 880.8L2130.9 875.4L2152.5 872.7L2163.3 875.4L2174.1 878.1L2184.9 870.0L2195.6 878.1L2203.7 888.8L2206.4 899.6L2214.5 910.4L2219.9 926.6L2209.1 937.4L2201.0 948.1L2195.6 961.6L2087.8 961.6L2095.9 942.7L2106.7 932.0L2120.2 923.9L2136.3 910.4L2130.9 891.5Z"/>
<path fill="#c29b8d" d="M2179.5 867.3L2184.9 851.1L2195.6 851.1L2211.8 853.8L2228.0 856.5L2238.8 851.1L2249.5 856.5L2249.5 883.5L2244.2 910.4L2238.8 923.9L2222.6 921.2L2214.5 910.4L2206.4 899.6L2203.7 888.8L2195.6 878.1L2184.9 870.0Z"/>
<path fill="#9b8fa4" d="M2249.5 845.7L2265.7 840.3L2281.9 843.0L2298.1 853.8L2303.5 861.9L2290.0 878.1L2276.5 894.2L2276.5 910.4L2265.7 921.2L2249.5 923.9L2238.8 923.9L2244.2 910.4L2249.5 883.5L2249.5 856.5Z"/>
<path fill="#628c8d" d="M2276.5 894.2L2290.0 878.1L2303.5 861.9L2314.2 872.7L2319.6 883.5L2330.4 888.8L2341.2 896.9L2352.0 905.0L2362.7 918.5L2368.1 937.4L2357.4 961.6L2249.5 961.6L2249.5 945.4L2260.3 932.0L2265.7 921.2L2276.5 910.4Z"/>
<path fill="#c29b8d" d="M2314.2 872.7L2330.4 875.4L2346.6 867.3L2362.7 864.6L2381.6 867.3L2381.6 910.4L2368.1 918.5L2352.0 905.0L2330.4 888.8Z"/>
<path fill="#9b8fa4" d="M2341.2 905.0L2362.7 910.4L2381.6 907.7L2381.6 932.0L2368.1 937.4L2357.4 921.2Z"/>
<path fill="#d3d07a" d="M2368.1 910.4L2381.6 907.7L2381.6 961.6L2362.7 961.6L2362.7 937.4Z"/>
<path fill="#9cd8d3" d="M2201.0 942.7L2217.2 937.4L2238.8 937.4L2249.5 945.4L2249.5 961.6L2195.6 961.6Z"/>
<path fill="#9b8fa4" d="M2214.5 918.5L2238.8 923.9L2249.5 921.2L2249.5 937.4L2233.4 937.4L2217.2 934.7Z"/>
<path fill="#9cd8d3" d="M2350.8 740.1L2380.4 737.4L2391.2 750.9L2391.2 772.5L2380.4 777.9L2369.6 775.2L2364.3 783.3L2358.9 799.4L2366.9 804.8L2356.2 807.5L2340.0 807.5L2340.0 767.1L2350.8 761.7Z"/>
<path fill="#98c996" d="M2340.0 810.2L2345.4 804.8L2356.2 807.5L2366.9 804.8L2391.2 812.9L2388.5 818.3L2369.6 823.7L2366.9 831.8L2356.2 839.8L2356.2 853.3L2366.9 853.3L2383.1 856.0L2383.1 869.5L2369.6 869.5L2353.5 869.5L2340.0 869.5Z"/>
<path fill="#d3d07a" d="M2340.0 818.3L2350.8 821.0L2353.5 837.2L2350.8 858.7L2340.0 861.4Z"/>
<path fill="#c29b8d" d="M2340.0 861.4L2350.8 858.7L2356.2 853.3L2366.9 853.3L2383.1 856.0L2383.1 869.5L2385.8 896.4L2391.2 901.8L2380.4 904.5L2366.9 909.9L2353.5 912.6L2340.0 909.9Z"/>
<path fill="#9b8fa4" d="M2353.5 912.6L2366.9 909.9L2380.4 904.5L2391.2 899.1L2393.9 915.3L2380.4 923.4L2366.9 934.2L2356.2 944.9L2340.0 950.3L2340.0 923.4Z"/>
<path fill="#628c8d" d="M2340.0 909.9L2353.5 912.6L2340.0 923.4L2340.0 950.3L2356.2 944.9L2366.9 934.2L2361.6 950.3L2350.8 961.1L2340.0 966.5Z"/>
<path fill="#d3d07a" d="M2366.9 934.2L2380.4 923.4L2393.9 915.3L2396.6 936.9L2404.7 963.8L2393.9 969.2L2380.4 969.2L2358.9 966.5L2361.6 950.3Z"/>
<path fill="#e6cd9e" d="M1980.0 972.3L1996.2 969.6L2012.3 967.0L2033.9 969.6L2055.5 969.6L2068.9 975.0L2074.3 983.1L2071.6 993.9L2074.3 1007.4L2071.6 1028.9L2074.3 1042.4L2087.8 1042.4L2101.3 1047.8L2114.8 1045.1L2128.2 1034.3L2141.7 1039.7L2147.1 1020.9L2144.4 999.3L2155.2 993.9L2157.9 1020.9L2168.7 1026.3L2184.9 1020.9L2195.6 1028.9L2192.9 1039.7L2206.4 1053.2L2222.6 1058.6L2238.8 1055.9L2254.9 1053.2L2244.2 1066.7L2233.4 1077.5L2217.2 1090.9L2206.4 1107.1L2192.9 1120.6L2179.5 1134.1L2163.3 1144.9L2147.1 1155.6L2141.7 1163.7L2130.9 1177.2L2120.2 1185.3L2104.0 1188.0L2093.2 1198.8L2082.4 1209.5L2066.3 1212.2L2058.2 1223.0L2055.5 1236.5L2055.5 1263.5L2058.2 1290.4L2060.9 1303.9L2062.2 1341.6L1980.0 1341.6Z"/>
<path fill="#9cd8d3" d="M2087.8 940.0L2249.5 940.0L2257.6 950.8L2252.2 972.3L2244.2 988.5L2246.8 1010.1L2249.5 1028.9L2254.9 1053.2L2238.8 1055.9L2222.6 1058.6L2206.4 1053.2L2192.9 1039.7L2195.6 1028.9L2184.9 1020.9L2168.7 1026.3L2157.9 1020.9L2155.2 993.9L2144.4 999.3L2147.1 1020.9L2141.7 1039.7L2128.2 1034.3L2114.8 1045.1L2101.3 1047.8L2087.8 1042.4L2074.3 1042.4L2071.6 1028.9L2074.3 1007.4L2071.6 993.9L2074.3 983.1L2068.9 975.0L2077.0 967.0L2085.1 953.5Z"/>
<path fill="#98c996" d="M2112.1 940.0L2190.2 940.0L2184.9 956.2L2179.5 969.6L2168.7 977.7L2155.2 980.4L2141.7 983.1L2133.6 993.9L2125.6 1002.0L2114.8 996.6L2106.7 1002.0L2098.6 988.5L2098.6 967.0L2109.4 956.2Z"/>
<path fill="#98c996" d="M2201.0 972.3L2217.2 956.2L2225.3 948.1L2236.1 961.6L2252.2 967.0L2257.6 950.8L2276.5 956.2L2290.0 964.3L2298.1 975.0L2284.6 993.9L2281.9 1010.1L2287.3 1026.3L2284.6 1039.7L2271.1 1042.4L2254.9 1053.2L2249.5 1028.9L2246.8 1010.1L2233.4 1002.0L2214.5 996.6L2201.0 985.8Z"/>
<path fill="#c29b8d" d="M2276.5 950.8L2290.0 945.4L2308.8 950.8L2325.0 956.2L2338.5 961.6L2325.0 975.0L2316.9 993.9L2322.3 1002.0L2314.2 1020.9L2300.8 1034.3L2284.6 1041.1L2287.3 1026.3L2281.9 1010.1L2284.6 993.9L2298.1 975.0L2290.0 964.3Z"/>
<path fill="#628c8d" d="M2249.5 940.0L2362.7 940.0L2365.4 950.8L2341.2 964.3L2325.0 956.2L2308.8 950.8L2290.0 945.4L2276.5 950.8L2257.6 950.8Z"/>
<path fill="#d3d07a" d="M2362.7 940.0L2381.6 940.0L2381.6 969.6L2360.1 967.0L2357.4 956.2Z"/>
<path fill="#c29b8d" d="M1988.1 940.0L2093.2 940.0L2085.1 953.5L2077.0 967.0L2068.9 975.0L2055.5 969.6L2033.9 969.6L2012.3 967.0L1996.2 969.6L1988.1 972.3Z"/>
<path fill="#9b8fa4" d="M1980.0 940.0L1988.1 940.0L1988.1 972.3L1980.0 975.0Z"/>
<path fill="#9cd8d3" d="M1980.0 1037.0L1988.1 1039.7L1988.1 1064.0L1980.0 1066.7Z"/>
<path fill="#9cd8d3" d="M1980.0 1312.0L2007.0 1314.7L2033.9 1309.3L2060.9 1303.9L2062.2 1341.6L1980.0 1341.6Z"/>
<path fill="#98c996" d="M1790.1 1180.0L1951.8 1180.0L1951.8 1190.8L1935.6 1201.6L1932.9 1215.0L1935.6 1233.9L1922.2 1239.3L1919.5 1250.1L1908.7 1255.5L1892.5 1260.9L1889.8 1282.4L1881.7 1287.8L1868.2 1293.2L1849.4 1293.2L1835.9 1293.2L1830.5 1277.0L1822.4 1258.2L1814.3 1239.3L1806.3 1220.4L1798.2 1201.6Z"/>
<path fill="#e6cd9e" d="M1951.8 1180.0L2062.3 1180.0L2062.3 1201.6L2054.2 1215.0L2054.2 1233.9L2056.9 1260.9L2058.3 1282.4L2061.0 1295.9L2062.3 1306.7L2043.5 1309.4L2030.0 1312.1L2016.5 1317.5L2003.0 1322.9L1989.5 1328.2L1978.8 1336.3L1989.5 1314.8L1981.5 1301.3L1973.4 1293.2L1962.6 1287.8L1951.8 1290.5L1943.7 1285.1L1930.2 1282.4L1924.9 1268.9L1922.2 1250.1L1924.9 1239.3L1935.6 1233.9L1932.9 1215.0L1935.6 1201.6L1951.8 1190.8Z"/>
<path fill="#9cd8d3" d="M1833.2 1293.2L1849.4 1293.2L1868.2 1293.2L1881.7 1287.8L1889.8 1282.4L1892.5 1260.9L1908.7 1255.5L1919.5 1250.1L1922.2 1239.3L1924.9 1268.9L1930.2 1282.4L1943.7 1285.1L1951.8 1290.5L1962.6 1287.8L1973.4 1293.2L1981.5 1301.3L1989.5 1314.8L1978.8 1336.3L1989.5 1328.2L2003.0 1322.9L2016.5 1317.5L2030.0 1312.1L2043.5 1309.4L2062.3 1306.7L2059.6 1325.6L2054.2 1341.7L2043.5 1357.9L2038.1 1368.7L2040.8 1384.9L2039.4 1401.0L2042.1 1417.2L2042.1 1438.8L2030.0 1438.8L2016.5 1446.8L2005.7 1454.9L2003.0 1471.1L2016.5 1479.2L2005.7 1481.9L1989.5 1484.6L1973.4 1492.7L1968.0 1503.5L1959.9 1519.6L1951.8 1525.0L1941.0 1529.1L1924.9 1519.6L1930.2 1503.5L1935.6 1476.5L1932.9 1463.0L1932.9 1436.1L1916.8 1422.6L1914.1 1401.0L1895.2 1382.2L1887.1 1368.7L1870.9 1363.3L1854.8 1347.1L1841.3 1330.9L1835.9 1314.8Z"/>
<path fill="#98c996" d="M1841.3 1330.9L1854.8 1347.1L1870.9 1363.3L1887.1 1368.7L1895.2 1382.2L1914.1 1401.0L1916.8 1422.6L1932.9 1436.1L1932.9 1463.0L1935.6 1476.5L1930.2 1503.5L1924.9 1519.6L1914.1 1503.5L1903.3 1487.3L1895.2 1465.7L1889.8 1444.2L1884.4 1422.6L1876.3 1401.0L1868.2 1379.5L1860.2 1363.3L1852.1 1347.1Z"/>
<path fill="#e6cd9e" d="M2572.8 1283.7L2579.3 1281.6L2582.5 1292.3L2580.4 1313.9L2579.3 1331.2L2576.1 1341.9L2573.9 1357.0L2573.9 1372.1L2570.7 1378.6L2566.4 1376.4L2564.2 1357.0L2567.4 1341.9L2568.5 1324.7L2566.4 1313.9L2570.7 1303.1L2571.8 1288.0Z" stroke="#3a3a3a" stroke-width="0.9"/>
<path fill="#e6cd9e" d="M2562.0 1400.2L2568.5 1399.1L2570.7 1406.6L2568.5 1414.2L2563.1 1414.2L2561.0 1406.6Z" stroke="#3a3a3a" stroke-width="0.9"/>
<path fill="#e6cd9e" d="M2580.4 1467.0L2584.7 1466.6L2585.8 1470.2L2582.5 1471.8L2579.9 1470.2Z" stroke="#3a3a3a" stroke-width="0.9"/>
<path fill="#e6cd9e" d="M2598.1 1503.2L2601.5 1503.7L2604.5 1508.0L2600.2 1509.3L2598.1 1506.3Z" stroke="#3a3a3a" stroke-width="0.9"/>
<path fill="#e6cd9e" d="M2609.5 1516.6L2614.9 1517.0L2616.2 1521.3L2611.6 1521.8Z" stroke="#3a3a3a" stroke-width="0.9"/>
<path fill="#e6cd9e" d="M2614.9 1508.0L2618.8 1506.9L2620.5 1517.7L2617.0 1518.8Z" stroke="#3a3a3a" stroke-width="0.9"/>
<path fill="#e6cd9e" d="M2625.7 1540.3L2630.0 1539.9L2628.9 1546.8L2634.3 1548.9L2639.7 1557.6L2636.4 1566.2L2632.1 1564.0L2627.8 1555.4L2626.7 1546.8Z" stroke="#3a3a3a" stroke-width="0.9"/>
<path fill="#e6cd9e" d="M2581.5 1337.6L2585.8 1339.8L2584.7 1350.6L2582.5 1354.9Z" stroke="#3a3a3a" stroke-width="0.9"/>
<rect x="1747.0" y="1368.7" width="1.8" height="1.3" fill="#222" transform="rotate(-30 1747.0 1368.7)"/>
<rect x="1760.4" y="1376.8" width="1.8" height="1.3" fill="#222" transform="rotate(-30 1760.4 1376.8)"/>
<rect x="1748.3" y="1388.9" width="1.8" height="1.3" fill="#222" transform="rotate(-30 1748.3 1388.9)"/>
<rect x="1725.4" y="1401.0" width="1.8" height="1.3" fill="#222" transform="rotate(-30 1725.4 1401.0)"/>
<rect x="1741.6" y="1414.5" width="1.8" height="1.3" fill="#222" transform="rotate(-30 1741.6 1414.5)"/>
<rect x="1784.7" y="1407.8" width="1.8" height="1.3" fill="#222" transform="rotate(-30 1784.7 1407.8)"/>
<rect x="1725.4" y="1434.7" width="1.8" height="1.3" fill="#222" transform="rotate(-30 1725.4 1434.7)"/>
<rect x="1782.0" y="1436.1" width="1.8" height="1.3" fill="#222" transform="rotate(-30 1782.0 1436.1)"/>
<rect x="1752.3" y="1511.5" width="1.8" height="1.3" fill="#222" transform="rotate(-30 1752.3 1511.5)"/>
<circle cx="2628.9" cy="1285.4" r="1" fill="#333"/>
<circle cx="2617.0" cy="1335.9" r="1" fill="#333"/>
<circle cx="2553.4" cy="1395.4" r="1" fill="#333"/>
<circle cx="2570.7" cy="1395.8" r="1" fill="#333"/>
<circle cx="2587.3" cy="1484.3" r="1" fill="#333"/>
<circle cx="2596.5" cy="1498.9" r="1" fill="#333"/>
<circle cx="2620.3" cy="1492.9" r="1" fill="#333"/>
<circle cx="2620.9" cy="1498.3" r="1" fill="#333"/>
<circle cx="2619.6" cy="1536.7" r="1" fill="#333"/>
<path fill="none" stroke="#1a1a1a" stroke-width="0.9" stroke-opacity="0.9" d="M2380.8 832.1L2351.8 822.4M2287.2 785.2L2294.9 781.6M2294.9 781.6L2298.8 767.8M2313.3 803.8L2310.1 789.3M2310.1 789.3L2294.9 781.6M2320.5 771.0L2310.1 789.3M2211.0 992.8L2224.2 977.0M2224.2 977.0L2213.9 960.6M2224.2 977.0L2245.6 978.1M2245.6 978.1L2250.6 967.2M2282.2 1003.3L2251.4 1003.1M2251.4 1003.1L2246.3 1008.8M2251.4 1003.1L2245.6 978.1M2154.5 979.8L2146.9 960.8M2146.9 960.8L2112.2 944.3M2101.6 939.2L2100.9 938.9M2146.9 960.8L2163.3 931.7M2163.3 931.7L2150.6 920.5M2150.6 920.5L2118.9 925.6M2188.5 942.8L2174.8 930.4M2174.8 930.4L2163.3 931.7M2150.6 920.5L2151.4 900.2M2151.4 900.2L2127.0 887.4M2174.8 930.4L2184.1 910.8M2184.1 910.8L2168.9 889.3M2168.9 889.3L2151.4 900.2M2168.9 889.3L2171.5 878.2M2184.1 910.8L2208.8 904.2M2015.6 729.7L2023.5 707.2M2023.5 707.2L2023.4 706.9M2025.5 692.9L2035.1 683.3M2035.1 683.3L2035.4 681.6M2035.4 681.6L2004.0 667.0M2023.5 707.2L2038.7 715.8M2051.1 702.6L2035.1 683.3M2035.4 681.6L2040.8 674.0M1789.0 1160.1L1805.7 1156.3M1805.7 1156.3L1807.9 1137.7M1807.9 1137.7L1782.5 1123.2M1781.6 1117.2L1802.5 1106.7M1802.5 1106.7L1808.8 1084.9M1854.4 1015.3L1884.3 1013.1M1884.3 1013.1L1886.3 979.1M1795.3 1191.8L1817.3 1178.1M1817.3 1178.1L1814.8 1162.4M1814.8 1162.4L1805.7 1156.3M1807.9 1137.7L1826.0 1126.4M1826.0 1126.4L1823.9 1120.2M1823.9 1120.2L1802.5 1106.7M1814.8 1162.4L1833.0 1153.3M1833.0 1153.3L1826.9 1127.0M1826.9 1127.0L1826.0 1126.4M1810.0 1227.1L1842.3 1217.5M1842.3 1217.5L1834.8 1198.5M1834.8 1198.5L1802.4 1210.0M1834.8 1198.5L1836.2 1189.8M1836.2 1189.8L1817.3 1178.1M1836.2 1189.8L1846.7 1181.9M1846.7 1181.9L1850.0 1160.0M1850.0 1160.0L1833.0 1153.3M1836.1 1090.8L1836.7 1091.4M1836.7 1091.4L1861.9 1096.9M1873.9 1061.1L1862.7 1054.3M1823.9 1120.2L1836.7 1091.4M1842.3 1217.5L1844.5 1219.5M1844.5 1219.5L1885.3 1203.7M1885.3 1203.7L1885.3 1203.7M1885.3 1203.7L1883.4 1196.4M1883.4 1196.4L1846.7 1181.9M1826.9 1127.0L1845.7 1126.0M1845.7 1126.0L1863.5 1101.7M1819.0 1248.1L1847.0 1236.9M1847.0 1236.9L1844.5 1219.5M1835.4 1289.1L1858.4 1248.3M1858.4 1248.3L1847.0 1236.9M1850.0 1160.0L1863.4 1150.3M1863.4 1150.3L1845.7 1126.0M1890.9 1267.5L1875.0 1248.5M1875.0 1248.5L1858.4 1248.3M1863.4 1150.3L1874.3 1149.1M1874.3 1149.1L1882.8 1138.9M1883.4 1196.4L1888.5 1179.3M1888.5 1179.3L1874.3 1149.1M1898.4 1023.0L1884.3 1013.1M1875.0 1248.5L1887.7 1221.3M1887.7 1221.3L1885.3 1203.7M1909.2 1133.4L1925.7 1163.7M1925.7 1163.7L1931.5 1166.7M1931.5 1166.7L1946.3 1167.6M1885.3 1203.7L1916.5 1203.2M1916.5 1203.2L1931.5 1166.7M1925.7 1163.7L1888.5 1179.3M1887.7 1221.3L1921.2 1239.8M1932.4 1217.2L1916.5 1203.2M1881.9 1413.6L1893.9 1402.8M1893.9 1402.8L1876.5 1385.6M1876.5 1385.6L1871.9 1387.0M1876.5 1385.6L1889.1 1373.6M1886.3 1426.7L1909.5 1421.7M1909.5 1421.7L1895.1 1402.7M1895.1 1402.7L1893.9 1402.8M1904.6 1392.7L1895.1 1402.7M1909.5 1421.7L1911.5 1422.3M1911.5 1422.3L1915.7 1420.6M1892.1 1449.9L1907.7 1444.6M1907.7 1444.6L1911.5 1422.3M1901.1 1479.1L1912.3 1475.1M1912.3 1475.1L1921.1 1452.6M1921.1 1452.6L1907.7 1444.6M1933.6 1482.6L1912.3 1475.1M1921.1 1452.6L1932.1 1449.9M1638.7 921.4L1647.5 911.7M1658.3 899.7L1687.1 867.7M1687.1 867.7L1682.8 843.1M1687.1 867.7L1715.2 888.3M1715.2 888.3L1749.3 874.8M1749.3 874.8L1755.7 839.1M1737.6 976.9L1720.0 929.7M1720.0 929.7L1717.1 927.4M1717.1 927.4L1653.7 943.0M1717.1 927.4L1715.2 888.3M1720.0 929.7L1774.2 914.8M1774.2 914.8L1777.1 900.2M1777.1 900.2L1749.3 874.8M1768.7 945.6L1776.6 922.9M1776.6 922.9L1776.4 919.9M1776.4 919.9L1774.2 914.8M1776.6 922.9L1800.9 952.8M1800.9 952.8L1831.5 942.5M1830.5 932.8L1776.4 919.9M1776.5 989.6L1806.0 986.3M1806.0 986.3L1796.1 961.3M1796.1 961.3L1775.1 964.0M1796.1 961.3L1800.9 952.8M1777.1 900.2L1778.1 899.7M1778.1 899.7L1805.5 868.5M1841.6 913.1L1778.1 899.7M1815.8 992.1L1806.0 986.3M2340.8 909.0L2357.4 886.1M2357.4 886.1L2356.3 882.1M2356.3 882.1L2354.9 881.3M2354.9 881.3L2329.3 887.4M2354.9 881.3L2340.1 862.2M2339.2 861.0L2338.6 860.2M2356.3 882.1L2382.3 856.7M2379.4 904.1L2357.4 886.1M2320.1 1005.2L2290.4 987.1M2331.2 960.2L2296.6 978.4M2275.0 821.5L2279.0 813.8M2279.0 813.8L2272.8 797.3M2272.8 797.3L2261.4 796.1M2216.1 791.3L2212.5 791.0M2288.3 788.6L2273.0 797.1M2273.0 797.1L2272.8 797.3M2279.0 813.8L2299.4 806.6M2271.8 777.7L2273.0 797.1M2200.8 883.6L2210.5 876.7M2210.5 876.7L2213.6 854.9M2220.9 856.1L2237.2 867.8M2237.2 867.8L2248.7 864.4M2215.4 910.6L2232.7 891.8M2232.7 891.8L2227.9 883.5M2227.9 883.5L2210.5 876.7M2246.3 895.5L2232.7 891.8M2227.9 883.5L2237.2 867.8M1988.9 968.3L2004.1 950.0M2004.1 950.0L1982.4 927.4M2004.1 950.0L2016.9 946.5M2016.9 946.5L2021.3 932.9M2021.3 932.9L2006.6 914.2M2030.2 968.4L2016.9 946.5M2021.3 932.9L2047.8 928.4M2047.8 928.4L2062.5 906.1M2062.5 906.1L2059.8 891.6M2056.6 969.3L2047.8 928.4M2117.5 852.2L2160.3 868.8M2134.7 907.5L2097.1 870.6M2062.5 906.1L2101.3 936.3M1991.5 845.3L2008.5 832.0M2008.5 832.0L1994.8 818.0M2005.3 756.8L2004.7 753.5M2004.7 753.5L1996.8 743.8M2004.7 753.5L2016.9 731.9M2008.5 832.0L2014.0 832.8M2020.2 819.5L2008.3 806.3M2063.5 697.8L2076.1 706.8M2076.1 706.8L2076.8 706.6M2023.3 731.2L2023.8 731.6M2023.8 731.6L2044.3 731.6M2044.3 731.6L2049.1 716.2M2049.1 716.2L2044.8 709.7M2033.0 820.6L2034.0 808.2M2034.0 808.2L2018.1 796.4M2062.0 818.4L2048.4 793.2M2048.4 793.2L2046.4 794.0M2046.4 794.0L2034.0 808.2M2021.2 777.4L2037.6 770.4M2037.6 770.4L2030.8 751.0M2030.8 751.0L2029.5 750.4M2029.5 750.4L2014.6 759.5M2029.5 750.4L2023.8 731.6M2030.8 751.0L2045.6 748.2M2045.6 748.2L2050.1 740.1M2050.1 740.1L2044.3 731.6M2046.4 794.0L2021.2 785.1M2050.8 789.6L2042.6 771.8M2042.6 771.8L2037.6 770.4M2048.4 793.2L2050.8 789.6M2050.8 789.6L2062.1 786.2M2062.1 786.2L2066.7 768.9M2066.7 768.9L2060.4 761.8M2060.4 761.8L2053.2 761.4M2053.2 761.4L2042.6 771.8M2050.1 740.1L2060.0 738.8M2060.0 738.8L2064.3 731.9M2064.3 731.9L2057.6 718.8M2057.6 718.8L2049.1 716.2M2053.2 761.4L2045.6 748.2M2071.8 790.8L2062.1 786.2M2064.3 731.9L2073.4 729.8M2073.4 729.8L2074.3 709.3M2074.3 709.3L2057.6 718.8M2060.4 761.8L2067.3 748.9M2067.3 748.9L2060.0 738.8M2067.3 748.9L2078.9 748.7M2082.4 734.0L2073.4 729.8M2066.7 768.9L2079.6 767.4M2074.3 709.3L2076.1 706.8M1689.6 766.4L1712.9 749.0M1712.9 749.0L1714.4 728.7M1714.4 728.7L1695.1 700.6M1714.4 728.7L1767.8 724.2M1767.8 724.2L1775.9 713.4M1770.4 841.2L1778.4 793.9M1778.4 793.9L1717.2 808.8M1715.1 802.1L1738.6 764.0M1738.6 764.0L1712.9 749.0M1778.4 793.9L1779.6 792.2M1779.6 792.2L1758.8 760.3M1758.8 760.3L1738.6 764.0M1758.8 760.3L1767.8 724.2M1779.6 792.2L1802.2 789.5M1802.2 789.5L1833.9 753.0M1833.9 753.0L1834.5 750.2M1802.1 858.1L1814.2 851.7M1814.2 851.7L1830.0 828.9M1830.0 828.9L1802.2 789.5M1833.9 753.0L1872.5 813.2M1872.5 813.2L1887.7 804.9M1887.7 804.9L1905.6 763.6M1857.7 886.9L1814.2 851.7M1830.0 828.9L1866.4 824.6M1866.4 824.6L1872.5 813.2M1939.3 824.9L1887.7 804.9M1866.4 824.6L1867.0 826.1M1815.2 1086.9L1805.0 1039.2M1805.0 1039.2L1772.2 1032.7M1837.1 1054.8L1830.0 1036.0M1830.0 1036.0L1819.7 1031.5M1819.7 1031.5L1805.0 1039.2M1819.7 1031.5L1820.5 1004.8M1820.5 1004.8L1815.3 997.5M1817.4 979.2L1861.7 980.4M1850.0 1027.6L1830.0 1036.0M1820.5 1004.8L1854.1 1006.3M2380.5 968.7L2382.1 943.4M2382.1 943.4L2367.8 934.5M2396.6 939.8L2382.1 943.4M2334.6 861.9L2327.7 844.2M2327.7 844.2L2314.9 839.5M2327.7 844.2L2337.0 835.8M2337.0 835.8L2332.4 818.1M2352.4 835.8L2337.0 835.8M2139.6 837.1L2158.6 825.4M2158.6 825.4L2155.4 814.2M2181.0 796.3L2192.2 800.0M2192.2 800.0L2194.6 799.0M2194.6 799.0L2204.3 770.1M2204.3 770.1L2177.1 769.3M2158.6 825.4L2165.0 830.2M2165.0 830.2L2169.0 828.5M2169.0 828.5L2175.3 818.1M2175.3 818.1L2169.8 807.5M2161.2 866.5L2177.0 854.1M2177.0 854.1L2174.2 848.0M2174.2 848.0L2163.9 842.8M2163.9 842.8L2158.7 845.6M2163.9 842.8L2165.0 830.2M2174.2 848.0L2184.5 834.8M2184.5 834.8L2169.0 828.5M2182.0 857.0L2177.0 854.1M2194.4 850.3L2195.3 841.2M2195.3 841.2L2185.7 834.4M2185.7 834.4L2184.5 834.8M2216.3 847.9L2201.5 838.1M2201.5 838.1L2195.3 841.2M2185.7 834.4L2188.9 820.5M2188.9 820.5L2175.3 818.1M2188.9 820.5L2191.3 818.6M2191.3 818.6L2192.2 800.0M2201.5 838.1L2207.9 824.5M2207.9 824.5L2191.3 818.6M2207.9 824.5L2213.9 822.3M2213.9 822.3L2214.2 803.2M2214.2 803.2L2194.6 799.0M2204.3 770.1L2214.3 765.5M2221.6 845.3L2217.5 824.5M2217.5 824.5L2213.9 822.3M2214.2 803.2L2219.7 798.7M2244.3 804.8L2238.1 822.2M2238.1 822.2L2246.2 840.2M2238.1 822.2L2217.5 824.5M1860.9 624.0L1858.1 605.8M1858.1 605.8L1845.1 600.3M1865.4 625.7L1879.3 613.2M1879.3 613.2L1878.4 602.9M1878.4 602.9L1870.2 597.6M1870.2 597.6L1858.1 605.8M1870.2 597.6L1865.8 579.5M1878.4 602.9L1894.6 593.9M1894.6 593.9L1889.2 576.7M1889.2 576.7L1865.9 579.1M1895.1 634.2L1892.7 620.3M1892.7 620.3L1879.3 613.2M1894.6 593.9L1907.0 600.5M1907.0 600.5L1921.1 588.9M1921.1 588.9L1914.2 560.9M1914.2 560.9L1898.3 562.9M1898.3 562.9L1889.2 576.7M1898.3 562.9L1873.1 539.7M1892.7 620.3L1907.1 604.1M1907.1 604.1L1907.0 600.5M1924.8 627.6L1907.1 604.1M1914.2 560.9L1918.0 557.0M1918.0 557.0L1917.6 520.8M1917.6 520.8L1910.2 510.6M1917.6 520.8L1961.2 530.7M1961.2 530.7L1979.9 505.2M1921.1 588.9L1942.2 595.1M1950.4 591.7L1955.2 560.7M1955.2 560.7L1918.0 557.0M2014.0 573.8L1961.8 554.7M1961.8 554.7L1955.2 560.7M1961.8 554.7L1961.2 530.7M1834.5 946.5L1877.8 927.3M1877.8 927.3L1878.6 906.9M1878.6 906.9L1849.7 895.3M1877.8 927.3L1892.5 945.3M1892.5 945.3L1893.2 945.5M1893.2 945.5L1925.9 933.9M1927.7 927.0L1894.0 896.1M1894.0 896.1L1878.6 906.9M1863.5 970.0L1892.5 945.3M1894.0 896.1L1899.5 881.4M1899.5 881.4L1865.3 861.7M1899.5 881.4L1905.4 876.6M1905.6 981.7L1893.2 945.5M2298.1 947.0L2294.5 928.7M2294.5 928.7L2265.4 923.6M2300.7 917.8L2311.2 912.3M2311.2 912.3L2315.0 898.3M2315.0 898.3L2288.3 881.3M2277.6 894.2L2300.7 917.8M2300.7 917.8L2294.5 928.7M2319.0 953.5L2334.7 928.6M2334.7 928.6L2311.2 912.3M2315.0 898.3L2327.1 888.1M2339.2 927.4L2334.7 928.6M2214.1 768.8L2214.5 768.7M2214.5 768.7L2229.7 745.0M2237.5 796.4L2239.4 779.6M2239.4 779.6L2236.8 774.1M2236.8 774.1L2214.5 768.7M2263.0 769.2L2242.7 764.9M2242.7 764.9L2236.8 774.1M2239.4 779.6L2263.5 779.8M2243.1 751.7L2242.7 764.9M2140.1 821.1L2131.6 804.1M2131.6 804.1L2129.1 803.0M2129.1 803.0L2120.3 804.8M2129.1 803.0L2131.0 788.5M2131.0 788.5L2120.6 780.7M2131.6 804.1L2150.0 797.9M2150.0 797.9L2151.0 795.5M2151.0 795.5L2145.6 781.2M2145.6 781.2L2143.1 781.2M2143.1 781.2L2131.0 788.5M2155.3 812.5L2150.0 797.9M2145.6 781.2L2150.0 775.7M2150.0 775.7L2137.4 755.7M2137.4 755.7L2133.0 754.5M2129.1 770.2L2143.1 781.2M2145.1 734.7L2152.4 733.9M2152.4 733.9L2157.4 725.1M2137.4 755.7L2151.0 753.1M2151.0 753.1L2156.1 743.0M2156.1 743.0L2152.4 733.9M2151.0 795.5L2169.9 792.1M2170.9 778.8L2158.4 772.2M2158.4 772.2L2150.0 775.7M2151.0 753.1L2159.4 762.4M2159.4 762.4L2175.0 752.0M2173.6 747.3L2156.1 743.0M2158.4 772.2L2159.4 762.4M1942.0 890.5L1951.4 885.9M1951.4 885.9L1954.7 857.9M1954.7 857.9L1941.7 845.3M1958.6 817.7L1966.5 816.5M1966.5 816.5L1980.5 784.4M1980.5 784.4L1980.2 783.9M1980.2 783.9L1930.6 788.5M1977.8 917.1L1970.6 894.6M1970.6 894.6L1951.4 885.9M2007.8 884.9L1984.4 882.1M1984.4 882.1L1970.6 894.6M1979.6 760.1L1980.2 783.9M1980.5 784.4L2013.3 800.3M1966.5 816.5L1987.5 830.8M1954.7 857.9L1980.0 854.3M1980.0 854.3L1989.9 845.0M1984.4 882.1L1980.0 854.3M1876.4 648.4L1881.4 633.5M1927.0 627.5L1937.7 633.2M1937.7 633.2L1958.6 607.6M1931.8 698.7L1941.8 674.9M1941.8 674.9L1931.8 665.9M1931.8 665.9L1915.0 664.2M1915.0 664.2L1899.2 672.3M1893.8 651.8L1899.8 634.6M1915.0 664.2L1914.7 630.9M1956.6 673.0L1941.8 674.9M1931.8 665.9L1939.6 635.5M1939.6 635.5L1937.7 633.2M1956.7 640.9L1939.6 635.5M2368.0 932.3L2356.8 912.8M2240.8 936.6L2236.6 924.2M2249.6 887.0L2272.0 881.0M2272.0 881.0L2271.1 863.6M2271.1 863.6L2251.6 845.9M2268.2 917.5L2246.9 900.9M2281.6 886.9L2272.0 881.0M2294.7 852.5L2271.1 863.6M1957.0 964.8L1951.8 928.6M2001.5 909.1L2006.0 912.7M2052.2 898.9L2048.4 856.3M2048.4 856.3L2047.3 855.3M2047.3 855.3L2014.0 845.5M2097.2 868.4L2092.1 860.1M2092.1 860.1L2070.3 851.2M2070.3 851.2L2048.4 856.3M2047.3 855.3L2054.6 820.2M2085.4 730.3L2098.1 730.1M2098.1 730.1L2111.7 707.0M2071.4 814.7L2077.5 810.0M2077.5 810.0L2080.5 793.3M2080.5 793.3L2077.4 789.3M2070.3 851.2L2074.8 827.0M2074.8 827.0L2072.3 824.2M2092.1 860.1L2097.5 830.6M2097.5 830.6L2097.0 829.9M2097.0 829.9L2074.8 827.0M2126.1 833.2L2097.5 830.6M2084.3 777.9L2100.3 779.1M2100.3 779.1L2100.4 779.0M2100.4 779.0L2102.7 767.2M2102.7 767.2L2097.0 758.3M2097.0 758.3L2080.5 755.6M2097.0 829.9L2097.2 827.6M2097.5 824.9L2097.9 819.1M2097.9 819.1L2091.5 809.7M2091.5 809.7L2077.5 810.0M2091.5 809.7L2094.3 797.6M2094.3 797.6L2080.5 793.3M2097.9 819.1L2115.7 804.1M2115.7 804.1L2097.9 795.5M2097.9 795.5L2094.3 797.6M2100.3 779.1L2097.9 795.5M2115.7 804.1L2118.9 803.8M2116.2 783.4L2100.4 779.0M2097.0 758.3L2109.8 741.2M2109.8 741.2L2098.1 730.1M2102.7 767.2L2114.9 764.1M2114.9 764.1L2118.7 753.6M2118.7 753.6L2110.5 741.3M2110.5 741.3L2109.8 741.2M2131.2 755.0L2118.7 753.6M2114.9 764.1L2124.2 773.9M2110.5 741.3L2122.0 734.7M2122.0 734.7L2126.1 718.9M2137.7 742.3L2122.0 734.7M1802.0 725.8L1818.5 680.5M1818.5 680.5L1798.1 657.9M1843.7 743.9L1856.6 723.1M1856.6 723.1L1849.7 684.2M1849.7 684.2L1847.7 682.2M1847.7 682.2L1818.5 680.5M1835.7 619.2L1841.9 641.8M1841.9 641.8L1862.9 629.9M1813.5 649.4L1841.8 642.1M1841.8 642.1L1841.9 641.8M1906.8 762.5L1911.6 739.6M1911.6 739.6L1890.1 716.7M1890.1 716.7L1856.6 723.1M1847.7 682.2L1852.4 660.7M1852.4 660.7L1841.8 642.1M1849.7 684.2L1900.7 678.4M1873.2 648.4L1852.4 660.7M1932.2 700.4L1913.8 738.2M1913.8 738.2L1946.1 735.9M1946.1 735.9L1960.3 718.1M1890.1 716.7L1902.4 681.0M1911.6 739.6L1913.8 738.2M1956.5 767.9L1946.1 735.9M2556.7 879.3L2520.5 873.8M2622.6 633.1L2616.2 740.2M2615.6 741.6L2610.1 741.2M2610.1 741.2L2569.9 760.7M2548.5 815.5L2571.0 829.3M2579.8 834.8L2591.6 842.0M2540.3 676.5L2610.1 741.2M2428.2 811.4L2440.6 783.8M2376.9 736.9L2359.4 706.2M1968.7 1290.0L1970.1 1288.1M1970.1 1288.1L1956.9 1255.4M1956.9 1255.4L1925.3 1264.5M1956.9 1255.4L1962.9 1242.3M1962.9 1242.3L1935.0 1223.9M1962.9 1242.3L1971.2 1238.3M1971.2 1238.3L1972.3 1199.2M1972.3 1199.2L1951.5 1191.9M1971.2 1238.3L1998.4 1245.5M1998.4 1245.5L2000.6 1243.0M2000.6 1243.0L2006.2 1204.5M2006.2 1204.5L2005.0 1202.0M2005.0 1202.0L1989.1 1193.7M1989.1 1193.7L1972.3 1199.2M1970.3 1039.6L1948.9 1020.2M1950.4 1155.5L1989.1 1153.0M1989.1 1153.0L1991.6 1131.7M1991.6 1131.7L1982.1 1120.5M1982.1 1120.5L1953.7 1118.8M1970.1 1288.1L1976.7 1286.0M1976.7 1286.0L1999.4 1250.4M1999.4 1250.4L1998.4 1245.5M1965.9 1090.4L1986.7 1092.0M1986.7 1092.0L1982.5 1066.7M1970.5 1039.5L1975.4 1021.7M1975.4 1021.7L1955.6 1011.6M1975.4 1021.7L1988.4 1011.6M1988.4 1011.6L1979.7 999.3M1991.6 1131.7L2017.3 1120.0M2017.3 1120.0L2019.2 1114.6M2019.2 1114.6L2011.2 1094.4M2011.2 1094.4L2006.0 1091.1M2006.0 1091.1L1988.3 1093.2M1988.3 1093.2L1982.1 1120.5M1988.3 1093.2L1986.7 1092.0M1988.4 1011.6L1999.3 1014.0M1999.3 1014.0L2002.5 1013.0M2002.5 1013.0L2011.4 998.2M2011.4 998.2L1999.6 969.9M2006.0 1091.1L2008.7 1062.3M2008.7 1062.3L2003.3 1055.0M2003.3 1055.0L1991.6 1051.6M1991.6 1051.6L1988.9 1052.2M1991.6 1051.6L1999.3 1014.0M1989.1 1193.7L1992.9 1157.6M1992.9 1157.6L1989.1 1153.0M2001.9 1322.4L2002.5 1293.4M2002.5 1293.4L1976.7 1286.0M2002.5 1293.4L2009.3 1289.9M2009.3 1289.9L2017.4 1270.1M2017.4 1270.1L1999.4 1250.4M1992.9 1157.6L2019.3 1159.2M2019.3 1159.2L2032.1 1143.5M2032.1 1143.5L2017.3 1120.0M2033.8 1310.5L2032.4 1304.7M2032.4 1304.7L2009.3 1289.9M2011.4 998.2L2036.8 995.6M2036.8 995.6L2038.8 970.4M2003.3 1055.0L2024.7 1033.4M2024.7 1033.4L2024.8 1031.3M2024.8 1031.3L2002.5 1013.0M2017.4 1270.1L2028.0 1269.7M2028.0 1269.7L2054.0 1238.2M2054.0 1238.2L2048.0 1233.2M2048.0 1233.2L2000.6 1243.0M2005.0 1202.0L2029.9 1180.3M2029.9 1180.3L2019.3 1159.2M2024.8 1031.3L2041.1 1017.6M2041.1 1017.6L2040.0 999.2M2040.0 999.2L2036.8 995.6M2011.2 1094.4L2039.5 1080.0M2039.5 1080.0L2036.3 1066.3M2036.3 1066.3L2008.7 1062.3M2006.2 1204.5L2042.8 1220.5M2042.8 1220.5L2050.4 1185.1M2050.4 1185.1L2029.9 1180.3M2048.0 1233.2L2042.8 1220.5M2019.2 1114.6L2045.1 1108.2M2045.1 1108.2L2053.9 1091.7M2053.9 1091.7L2039.5 1080.0M2032.4 1304.7L2041.8 1284.3M2041.8 1284.3L2028.0 1269.7M2057.5 1282.5L2041.8 1284.3M2032.1 1143.5L2053.2 1142.9M2053.2 1142.9L2058.7 1139.0M2058.7 1139.0L2045.1 1108.2M2036.3 1066.3L2042.8 1054.1M2042.8 1054.1L2024.7 1033.4M2050.4 1185.1L2051.5 1184.5M2051.5 1184.5L2053.2 1142.9M2042.8 1054.1L2052.6 1050.7M2052.6 1050.7L2057.7 1026.8M2057.7 1026.8L2041.1 1017.6M2053.9 1091.7L2057.5 1091.1M2057.5 1091.1L2072.9 1076.4M2072.9 1076.4L2070.5 1058.6M2070.5 1058.6L2052.6 1050.7M2054.0 1238.2L2054.7 1238.4M2093.5 1197.3L2080.6 1186.7M2080.6 1186.7L2051.5 1184.5M2058.7 1139.0L2074.1 1137.8M2074.1 1137.8L2080.2 1113.2M2080.2 1113.2L2057.5 1091.1M2080.6 1186.7L2082.5 1144.0M2082.5 1144.0L2074.1 1137.8M2040.0 999.2L2071.2 995.7M2116.0 1185.2L2111.5 1148.6M2111.5 1148.6L2106.4 1143.3M2106.4 1143.3L2082.5 1144.0M2150.9 1152.1L2147.1 1147.9M2147.1 1147.9L2111.5 1148.6M2057.7 1026.8L2071.7 1022.2M2108.6 1047.2L2114.3 1057.8M2114.3 1057.8L2144.7 1057.3M2144.7 1057.3L2166.2 1025.9M2070.5 1058.6L2087.8 1043.3M2080.2 1113.2L2096.9 1103.3M2096.9 1103.3L2092.6 1081.6M2092.6 1081.6L2072.9 1076.4M2106.4 1143.3L2115.3 1121.7M2115.3 1121.7L2111.2 1108.9M2111.2 1108.9L2096.9 1103.3M2092.6 1081.6L2112.6 1064.8M2112.6 1064.8L2114.3 1057.8M2147.1 1147.9L2144.1 1124.7M2144.1 1124.7L2115.3 1121.7M2111.2 1108.9L2127.5 1092.6M2127.5 1092.6L2112.6 1064.8M2144.1 1124.7L2148.8 1117.6M2148.8 1117.6L2141.5 1093.9M2141.5 1093.9L2127.5 1092.6M2141.5 1093.9L2155.7 1080.5M2155.7 1080.5L2144.7 1057.3M2188.9 1123.5L2180.0 1115.0M2180.0 1115.0L2148.8 1117.6M2180.0 1115.0L2175.0 1083.1M2175.0 1083.1L2155.7 1080.5M2178.4 1023.9L2186.3 1073.5M2186.3 1073.5L2228.4 1080.6M2175.0 1083.1L2186.3 1073.5M1979.2 663.2L1956.8 661.0M2066.0 604.0L2014.2 640.6M2014.2 640.6L2013.7 641.7M2013.7 641.7L2014.1 648.1M1966.2 617.9L2013.7 641.7M2014.2 640.6L2006.9 577.4M2553.1 798.9L2515.2 796.6M2316.3 837.0L2302.6 820.5M2321.8 824.1L2315.4 818.8M2315.4 818.8L2302.8 819.4M2315.4 818.8L2323.8 802.7M2323.8 802.7L2323.3 800.9M2368.2 775.9L2349.6 763.2M2340.8 791.7L2359.1 805.9M2323.8 802.7L2335.0 816.0M2093.2 1043.7L2115.0 997.6M2097.8 988.5L2074.1 987.2M2144.9 998.2L2139.4 987.5M2184.7 958.7L2200.3 972.0M2185.5 1020.3L2194.0 1015.4M2194.0 1015.4L2205.5 990.4M2216.3 1055.7L2224.0 1035.8M2224.0 1035.8L2220.5 1025.9M2220.5 1025.9L2194.0 1015.4M2220.5 1025.9L2236.4 1004.8M2250.2 1035.8L2224.0 1035.8M1841.0 1327.4L1858.8 1319.5M1858.8 1319.5L1857.3 1294.0M1874.7 1291.5L1883.1 1305.1M1883.1 1305.1L1905.2 1304.5M1905.2 1304.5L1902.8 1281.4M1902.8 1281.4L1891.7 1274.0M1858.7 1349.9L1864.1 1346.5M1864.1 1346.5L1872.0 1328.9M1872.0 1328.9L1871.5 1324.5M1871.5 1324.5L1858.8 1319.5M1881.5 1366.0L1881.6 1352.1M1881.6 1352.1L1864.1 1346.5M1902.8 1281.4L1926.8 1275.9M1871.5 1324.5L1878.4 1319.5M1878.4 1319.5L1883.1 1305.1M1968.1 1501.4L1936.4 1477.0M1936.4 1477.0L1936.3 1477.0M1881.6 1352.1L1888.9 1344.1M1888.9 1344.1L1872.0 1328.9M1890.0 1372.0L1906.4 1360.4M1906.4 1360.4L1904.2 1350.7M1904.2 1350.7L1892.0 1343.6M1892.0 1343.6L1888.9 1344.1M1892.0 1343.6L1896.8 1326.5M1896.8 1326.5L1878.4 1319.5M1896.8 1326.5L1907.5 1321.2M1907.5 1321.2L1907.7 1306.9M1907.7 1306.9L1905.2 1304.5M1909.0 1394.8L1920.3 1382.2M1920.3 1382.2L1914.0 1364.3M1914.0 1364.3L1906.4 1360.4M1907.7 1306.9L1929.3 1301.2M1929.3 1301.2L1933.5 1283.9M1904.2 1350.7L1909.6 1344.5M1909.6 1344.5L1909.5 1323.1M1909.5 1323.1L1907.5 1321.2M1909.5 1323.1L1928.0 1329.0M1928.0 1329.0L1938.0 1312.5M1938.0 1312.5L1929.3 1301.2M1933.7 1437.4L1944.1 1432.5M1944.1 1432.5L1937.1 1408.6M1937.1 1408.6L1916.0 1410.1M1914.0 1364.3L1934.8 1352.7M1934.8 1352.7L1934.3 1343.3M1934.3 1343.3L1931.9 1340.9M1931.9 1340.9L1909.6 1344.5M1937.1 1408.6L1944.9 1399.3M1944.9 1399.3L1941.1 1382.6M1941.1 1382.6L1920.3 1382.2M1938.0 1312.5L1954.8 1314.7M1954.8 1314.7L1964.6 1289.7M1931.9 1340.9L1928.0 1329.0M1941.1 1382.6L1942.6 1380.5M1942.6 1380.5L1943.5 1362.7M1943.5 1362.7L1934.8 1352.7M1934.3 1343.3L1953.5 1335.0M1953.5 1335.0L1955.2 1315.3M1955.2 1315.3L1954.8 1314.7M1944.9 1399.3L1960.1 1404.6M1960.1 1404.6L1970.3 1400.2M1970.3 1400.2L1975.8 1378.6M1975.8 1378.6L1942.6 1380.5M1944.1 1432.5L1955.8 1434.7M1955.8 1434.7L1960.2 1428.8M1960.2 1428.8L1960.1 1404.6M1936.4 1477.0L1954.1 1464.6M1954.1 1464.6L1956.1 1435.2M1956.1 1435.2L1955.8 1434.7M1943.5 1362.7L1966.6 1354.7M1966.6 1354.7L1967.0 1346.5M1967.0 1346.5L1953.5 1335.0M1992.2 1483.3L1986.5 1468.1M1986.5 1468.1L1977.3 1463.5M1977.3 1463.5L1972.9 1466.3M1972.9 1466.3L1974.1 1491.4M1955.2 1315.3L1984.0 1324.0M1972.9 1466.3L1954.1 1464.6M1967.0 1346.5L1978.4 1337.1M1975.8 1378.6L1976.0 1378.4M1976.0 1378.4L1978.1 1369.9M1978.1 1369.9L1966.6 1354.7M1970.3 1400.2L1982.4 1409.8M1982.4 1409.8L2000.3 1403.8M2000.3 1403.8L2002.8 1395.3M2002.8 1395.3L1976.0 1378.4M1960.2 1428.8L1980.5 1422.8M1980.5 1422.8L1982.4 1409.8M1977.3 1463.5L1981.3 1448.8M1981.3 1448.8L1956.1 1435.2M1986.5 1468.1L2003.4 1464.2M2004.7 1456.0L1983.6 1447.2M1983.6 1447.2L1981.3 1448.8M1983.6 1447.2L1990.1 1433.1M1990.1 1433.1L1980.5 1422.8M1978.1 1369.9L1994.4 1362.4M1994.4 1362.4L1997.9 1349.8M1997.9 1349.8L1986.3 1331.7M2033.6 1312.2L2035.6 1343.8M2035.6 1343.8L2048.2 1349.3M1990.1 1433.1L1998.8 1431.2M1998.8 1431.2L1999.4 1430.6M1999.4 1430.6L2002.2 1407.5M2002.2 1407.5L2000.3 1403.8M1997.9 1349.8L2018.4 1344.2M2018.4 1344.2L2008.9 1321.4M2002.8 1395.3L2008.0 1391.4M2008.0 1391.4L2013.1 1374.9M2013.1 1374.9L1994.4 1362.4M2010.7 1450.2L1998.8 1431.2M2041.3 1425.4L2022.2 1421.9M2022.2 1421.9L2019.3 1427.3M2019.3 1427.3L2022.6 1442.2M2002.2 1407.5L2021.2 1417.9M2021.2 1417.9L2030.4 1400.9M2030.4 1400.9L2008.0 1391.4M2019.3 1427.3L1999.4 1430.6M2022.2 1421.9L2021.2 1417.9M2018.4 1344.2L2024.0 1346.7M2024.0 1346.7L2035.6 1343.8M2013.1 1374.9L2017.6 1372.7M2017.6 1372.7L2024.0 1346.7M2030.4 1400.9L2038.8 1398.1M2038.8 1378.0L2017.6 1372.7M1967.3 728.6L1977.9 728.6M1977.9 728.6L1989.5 716.7M1989.5 716.7L1978.1 699.1M2002.9 717.3L1989.5 716.7M1977.9 728.6L1989.6 743.6M2001.8 684.6L1980.7 685.1M1879.4 1138.4L1893.1 1096.7M1893.1 1096.7L1862.2 1092.6M1920.5 1125.3L1896.1 1095.6M1896.1 1095.6L1893.1 1096.7M1896.1 1095.6L1898.7 1091.5M1898.7 1091.5L1894.7 1054.8M1894.7 1054.8L1885.9 1047.0M1894.7 1054.8L1922.9 1055.0M1922.9 1055.0L1939.3 1032.8M1939.3 1032.8L1900.3 1012.3M1930.4 1083.4L1898.7 1091.5M1942.5 1108.0L1930.4 1083.4M1930.4 1083.4L1932.9 1077.2M1932.9 1077.2L1922.9 1055.0M1932.9 1077.2L1959.6 1068.9M1959.6 1068.9L1954.6 1044.0M1941.7 1032.2L1939.3 1032.8M1951.8 1013.1L1924.0 982.8M1965.1 1072.3L1959.6 1068.9M1964.0 1002.1L1952.1 969.2"/>
<path fill="none" stroke="#f4f4f4" stroke-width="1.1" d="M2501.7 775.2L2503.7 769.2M2503.7 769.2L2490.9 759.0M2490.9 759.0L2486.9 746.9M2486.9 746.9L2484.2 747.0M2420.7 756.1L2418.3 771.3M2423.9 785.9L2437.0 783.3M2437.0 783.3L2458.6 781.9M2458.6 781.9L2501.7 775.2M2356.2 853.3L2356.2 851.0M2356.2 851.0L2358.1 853.3M2358.1 853.3L2366.9 853.3M2366.9 853.3L2380.4 855.6M2370.7 802.6L2363.6 802.6M2363.6 802.6L2366.9 804.8M2366.9 804.8L2356.2 807.5M2356.2 807.5L2345.4 804.8M2345.4 804.8L2340.0 810.2M2340.0 810.2L2340.0 816.6M2340.0 816.6L2340.0 818.3M2340.0 818.3L2350.8 821.0M2350.8 821.0L2353.5 837.2M2353.5 837.2L2350.8 858.7M2350.8 858.7L2356.2 853.3M2330.4 797.2L2340.0 790.0M2340.0 790.0L2340.0 782.0M2340.0 782.0L2338.7 774.1M2279.2 766.1L2279.2 775.6M2279.2 775.6L2279.2 778.3M2279.2 778.3L2290.0 789.1M2290.0 789.1L2295.4 799.9M2295.4 799.9L2303.5 810.7M2303.5 810.7L2316.9 802.6M2316.9 802.6L2330.4 797.2M2286.9 1025.1L2281.9 1010.1M2281.9 1010.1L2284.6 993.9M2284.6 993.9L2298.1 975.0M2298.1 975.0L2290.7 965.2M2284.5 961.0L2276.5 956.2M2276.5 956.2L2257.6 950.8M2257.6 950.8L2252.2 967.0M2252.2 967.0L2236.1 961.6M2236.1 961.6L2225.3 948.1M2225.3 948.1L2201.0 972.3M2201.0 972.3L2201.0 985.8M2201.0 985.8L2214.5 996.6M2214.5 996.6L2233.4 1002.0M2233.4 1002.0L2246.8 1010.1M2246.8 1010.1L2249.5 1028.9M2249.5 1028.9L2254.7 1052.0M2112.1 940.0L2109.4 956.2M2109.4 956.2L2098.6 967.0M2098.6 967.0L2098.6 988.5M2098.6 988.5L2106.7 1002.0M2106.7 1002.0L2114.8 996.6M2114.8 996.6L2125.6 1002.0M2125.6 1002.0L2133.6 993.9M2133.6 993.9L2141.7 983.1M2141.7 983.1L2168.7 977.7M2168.7 977.7L2179.5 969.6M2179.5 969.6L2184.9 956.2M2184.9 956.2L2190.2 940.0M2190.2 940.0L2207.1 940.0M2207.1 940.0L2216.4 930.0M2216.4 930.0L2214.5 918.5M2214.5 918.5L2217.4 919.1M2217.4 919.1L2214.5 910.4M2214.5 910.4L2206.4 899.6M2206.4 899.6L2203.7 888.8M2203.7 888.8L2195.6 878.1M2195.6 878.1L2184.9 870.0M2184.9 870.0L2174.1 878.1M2174.1 878.1L2163.3 875.4M2163.3 875.4L2152.5 872.7M2152.5 872.7L2130.9 875.4M2130.9 875.4L2117.5 880.8M2117.5 880.8L2130.9 891.5M2130.9 891.5L2136.3 910.4M2136.3 910.4L2120.2 923.9M2120.2 923.9L2106.7 932.0M2106.7 932.0L2098.7 940.0M2098.7 940.0L2112.1 940.0M2006.3 645.2L2001.6 678.6M2001.6 678.6L2003.6 690.8M2003.6 690.8L2012.3 689.4M2012.3 689.4L2028.5 694.8M2028.5 694.8L2025.8 705.6M2025.8 705.6L2012.3 708.2M2012.3 708.2L2002.8 703.5M2002.8 703.5L2001.6 710.9M2001.6 710.9L2007.0 727.1M2007.0 727.1L2020.4 732.5M2020.4 732.5L2033.1 722.6L2033.9 721.7M2033.9 721.7L2041.6 714.0M2041.6 714.0L2042.0 710.9M2042.0 710.9L2055.5 700.2M2055.5 700.2L2068.9 694.8M2068.9 694.8L2071.6 686.7M2071.6 686.7L2060.9 681.3M2060.9 681.3L2052.8 675.9M2052.8 675.9L2041.6 674.3M2041.6 674.3L2041.6 670.3M2041.6 670.3L2028.5 662.4M2028.5 662.4L2023.4 653.8M2023.4 653.8L2017.4 652.5M2017.4 652.5L2006.3 645.2M1837.1 1293.2L1868.2 1293.2M1868.2 1293.2L1881.7 1287.8M1881.7 1287.8L1889.8 1282.4M1889.8 1282.4L1892.5 1260.9M1892.5 1260.9L1908.7 1255.5M1908.7 1255.5L1919.5 1250.1M1919.5 1250.1L1921.3 1242.8M1935.5 1232.7L1932.9 1215.0M1932.9 1215.0L1935.6 1201.6M1935.6 1201.6L1951.8 1190.8M1951.8 1190.8L1951.8 1180.0M1951.8 1180.0L1949.0 1180.0M1949.0 1180.0L1946.6 1170.4M1946.6 1170.4L1952.0 1143.5M1952.0 1143.5L1952.0 1121.9M1952.0 1121.9L1957.4 1103.0M1957.4 1103.0L1965.4 1089.5M1965.4 1089.5L1952.0 1103.0M1952.0 1103.0L1930.4 1116.5M1930.4 1116.5L1919.6 1127.3M1919.6 1127.3L1908.8 1132.7M1908.8 1132.7L1903.5 1138.1M1903.5 1138.1L1881.9 1138.1M1881.9 1138.1L1871.1 1143.5M1871.1 1143.5L1865.7 1130.0M1865.7 1130.0L1871.1 1116.5M1871.1 1116.5L1865.7 1105.7M1865.7 1105.7L1860.3 1089.5M1860.3 1089.5L1852.2 1073.4M1852.2 1073.4L1865.7 1068.0M1865.7 1068.0L1873.8 1062.6M1873.8 1062.6L1887.3 1043.7M1887.3 1043.7L1903.5 1035.6M1903.5 1035.6L1898.1 1019.5M1898.1 1019.5L1900.8 1006.0M1900.8 1006.0L1919.6 997.9M1919.6 997.9L1916.9 987.1M1916.9 987.1L1903.5 981.7M1903.5 981.7L1876.5 976.3M1876.5 976.3L1865.7 976.3M1865.7 976.3L1857.6 987.1M1857.6 987.1L1852.2 1024.9M1852.2 1024.9L1846.8 1035.6M1846.8 1035.6L1865.7 1046.4M1865.7 1046.4L1860.3 1057.2M1860.3 1057.2L1838.8 1054.5M1838.8 1054.5L1828.0 1062.6M1828.0 1062.6L1838.8 1089.5M1838.8 1089.5L1822.6 1092.2M1822.6 1092.2L1795.6 1076.1M1795.6 1076.1L1775.3 1073.5M1916.9 987.1L1927.7 979.0M1927.7 979.0L1952.0 968.2M1952.0 968.2L1962.7 973.6M1962.7 973.6L1957.4 965.6M1957.4 965.6L1927.7 965.6M1927.7 965.6L1927.3 962.5M1927.3 962.5L1925.0 976.3M1925.0 976.3L1916.9 987.1M1980.0 973.6L1962.7 973.6M1962.7 973.6L1980.0 978.6M1980.0 978.6L1980.0 975.0M1980.0 975.0L1980.0 973.6M1952.0 927.8L1980.0 917.6M1980.0 917.6L1980.0 917.4M1980.0 917.4L1957.4 922.4M1957.4 922.4L1952.0 927.8M1925.3 1518.2L1930.2 1503.5M1930.2 1503.5L1935.6 1476.5M1935.6 1476.5L1932.9 1463.0M1932.9 1463.0L1932.9 1436.1M1932.9 1436.1L1916.8 1422.6M1916.8 1422.6L1914.1 1401.0M1914.1 1401.0L1895.2 1382.2M1895.2 1382.2L1887.1 1368.7M1887.1 1368.7L1870.9 1363.3M1870.9 1363.3L1854.8 1347.1M1854.8 1347.1L1848.5 1339.6M1772.6 1019.5L1779.5 1019.5M1779.5 1019.5L1790.2 1011.4M1790.2 1011.4L1798.3 1008.7M1798.3 1008.7L1817.2 995.2M1817.2 995.2L1814.5 981.7M1814.5 981.7L1822.6 970.9M1822.6 970.9L1817.2 960.2M1817.2 960.2L1817.2 954.8M1817.2 954.8L1833.4 946.7M1833.4 946.7L1830.7 935.9M1830.7 935.9L1833.4 922.4M1833.4 922.4L1844.2 911.6M1844.2 911.6L1838.8 903.6M1838.8 903.6L1822.6 890.1M1822.6 890.1L1814.5 884.7M1814.5 884.7L1798.3 852.3M1798.3 852.3L1795.6 844.3M1795.6 844.3L1790.2 847.0M1790.2 847.0L1747.1 836.2M1747.1 836.2L1730.9 830.8M1730.9 830.8L1721.4 830.8M2316.9 875.4L2315.6 875.4M2315.6 875.4L2319.6 883.5M2319.6 883.5L2330.4 888.8M2330.4 888.8L2340.0 896.0M2340.0 896.0L2340.0 909.9M2340.0 909.9L2353.5 912.6M2353.5 912.6L2366.9 909.9M2366.9 909.9L2380.4 904.5M2380.4 904.5L2388.3 900.6M2350.8 858.7L2340.0 861.4M2340.0 861.4L2340.0 856.2M2340.0 856.2L2338.5 859.2M2338.5 859.2L2323.5 874.2M2323.5 874.2L2314.2 872.7M2314.2 872.7L2316.9 875.4M2360.8 793.7L2358.9 799.4M2358.9 799.4L2363.6 802.6M2358.4 960.4L2358.2 959.7M2358.2 959.7L2357.9 960.4M2340.0 782.0L2340.0 774.1M2330.4 797.2L2340.0 792.4M2340.0 792.4L2340.0 790.0M2336.5 961.9L2325.0 956.2M2325.0 956.2L2290.0 945.4M2290.0 945.4L2276.5 950.8M2276.5 950.8L2286.1 960.4M2209.1 775.6L2211.8 791.8M2211.8 791.8L2222.6 799.9M2222.6 799.9L2238.8 802.6M2238.8 802.6L2249.5 805.3M2249.5 805.3L2265.7 813.4M2265.7 813.4L2276.5 824.2M2276.5 824.2L2290.0 829.5M2290.0 829.5L2300.8 845.7M2300.8 845.7L2303.3 844.5M2303.3 844.5L2300.8 826.8M2300.8 826.8L2303.5 810.7M2279.2 775.6L2277.7 778.0M2277.7 778.0L2265.7 775.6M2265.7 775.6L2260.3 797.2M2260.3 797.2L2261.9 802.0M2261.9 802.0L2230.7 797.2M2230.7 797.2L2217.2 791.8M2217.2 791.8L2209.1 775.6M2276.8 766.1L2279.2 775.6M2257.1 757.8L2261.2 759.9M2261.2 759.9L2260.5 757.5M2261.5 757.3L2272.2 762.7M2300.8 857.8L2300.8 856.5M2300.8 856.5L2299.7 856.3M2299.7 856.3L2300.8 857.8M2253.9 940.0L2260.3 932.0M2260.3 932.0L2265.7 921.2M2265.7 921.2L2249.5 923.9M2249.5 923.9L2249.5 937.4M2249.5 937.4L2238.8 937.4M2238.8 937.4L2242.3 940.0M2242.3 940.0L2249.5 940.0M2249.5 940.0L2253.9 940.0M2217.4 919.1L2238.8 923.9M2238.8 923.9L2244.2 910.4M2244.2 910.4L2249.5 883.5M2249.5 883.5L2249.5 847.5M2249.5 847.5L2238.8 851.1M2238.8 851.1L2228.0 856.5M2228.0 856.5L2207.8 853.1M2207.8 853.1L2195.6 851.1M2195.6 851.1L2184.9 851.1M2184.9 851.1L2179.5 867.3M2179.5 867.3L2174.1 878.1M2233.4 937.4L2217.2 934.7M2217.2 934.7L2216.4 930.0M2207.1 940.0L2209.3 940.0M2209.3 940.0L2217.2 937.4M2217.2 937.4L2233.4 937.4M2216.0 733.7L2219.5 736.5M2191.7 731.2L2198.3 737.9M2198.3 737.9L2203.7 754.1M2203.7 754.1L2201.0 732.7M2168.8 807.7L2172.2 800.8M2172.2 800.8L2174.6 805.3M2174.6 805.3L2182.7 791.8M2182.7 791.8L2182.2 772.9M2182.2 772.9L2171.9 775.8M2171.9 775.8L2171.4 775.9M2171.4 775.9L2171.7 778.3M2171.7 778.3L2170.3 797.2M2170.3 797.2L2172.2 800.8M1996.2 918.5L1981.6 918.5M1981.6 918.5L1981.6 940.0M1981.6 940.0L1988.1 940.0M1988.1 940.0L1988.1 972.3M1988.1 972.3L1996.2 969.6M1996.2 969.6L2012.3 967.0M2012.3 967.0L2033.9 969.6M2033.9 969.6L2055.5 969.6M2055.5 969.6L2068.9 975.0M2068.9 975.0L2077.0 967.0M2077.0 967.0L2093.2 940.0M2093.2 940.0L2098.7 940.0M2163.3 875.4L2157.9 859.2M2157.9 859.2L2157.9 845.7M2157.9 845.7L2141.7 840.3M2141.7 840.3L2136.3 834.9M2136.3 834.9L2141.7 821.5M2141.7 821.5L2155.2 813.4M2155.2 813.4L2141.7 818.8M2141.7 818.8L2136.3 834.9M2136.3 834.9L2125.6 829.5M2125.6 829.5L2114.8 818.8M2114.8 818.8L2130.9 837.6M2130.9 837.6L2106.7 861.9M2106.7 861.9L2093.2 872.7M2093.2 872.7L2077.0 878.1M2077.0 878.1L2060.9 888.8M2060.9 888.8L2052.8 899.6M2052.8 899.6L2028.5 902.3M2028.5 902.3L1996.2 918.5M2120.2 713.3L2121.6 714.5M2121.6 714.5L2124.5 715.0M1992.4 826.1L1988.1 829.5M1988.1 829.5L1990.8 845.7M1990.8 845.7L1993.9 853.4M1993.9 853.4L1996.2 851.1M1996.2 851.1L2015.0 856.5M2015.0 856.5L2012.3 840.3M2012.3 840.3L2019.0 820.2M2019.0 820.2L2033.9 821.5M2033.9 821.5L2060.9 818.8M2060.9 818.8L2074.3 824.2M2074.3 824.2L2093.2 826.8M2093.2 826.8L2100.2 826.8M2100.2 826.8L2100.4 826.8L2093.2 824.2M2093.2 824.2L2074.3 821.5M2074.3 821.5L2063.6 802.6M2063.6 802.6L2071.6 791.8M2071.6 791.8L2085.1 783.7M2085.1 783.7L2079.7 764.9M2079.7 764.9L2079.7 743.3M2079.7 743.3L2087.8 721.7M2087.8 721.7L2077.0 705.6M2077.0 705.6L2082.4 694.8M2082.4 694.8L2093.7 694.8M2054.3 675.4L2052.8 675.9M2052.8 675.9L2041.6 670.3M2033.9 721.7L2020.4 732.5M2007.0 727.1L1996.2 743.3M1996.2 743.3L1980.0 746.0M1980.0 746.0L1980.0 753.3M1980.0 753.3L1980.0 754.1M1980.0 754.1L1986.7 754.1M1986.7 754.1L1984.0 755.4M1984.0 755.4L1986.9 756.4M1986.9 756.4L1990.4 754.9M1990.4 754.9L1996.6 756.2M1996.6 756.2L2000.3 758.6M2000.3 758.6L2009.6 756.8M2009.6 756.8L2020.4 764.9M2020.4 764.9L2020.4 791.8M2020.4 791.8L2012.0 803.5M2012.0 803.5L2010.5 803.8M2010.5 803.8L1996.2 813.4M1996.2 813.4L1990.5 824.7M1990.5 824.7L1992.4 826.1M2001.6 702.9L2002.8 703.5M2003.6 690.8L1996.2 692.1M1996.2 692.1L2001.6 702.9M2017.4 652.5L2006.8 641.9M2006.8 641.9L2006.7 642.4M2006.7 642.4L2006.3 645.2M1844.2 911.6L1849.5 892.8M1849.5 892.8L1863.0 884.7M1863.0 884.7L1865.7 873.9M1865.7 873.9L1863.0 847.0M1863.0 847.0L1860.3 828.1M1860.3 828.1L1876.4 825.3L1876.5 825.4M1876.5 825.4L1890.0 836.2M1890.0 836.2L1900.8 841.6M1900.8 841.6L1903.5 852.3M1903.5 852.3L1898.1 871.2M1898.1 871.2L1899.6 870.7L1899.5 872.1M1899.5 872.1L1905.2 875.5M1905.2 875.5L1907.8 877.0M1907.8 877.0L1908.5 873.3M1908.5 873.3L1906.1 868.5M1906.1 868.5L1919.6 857.7M1919.6 857.7L1938.5 852.3M1938.5 852.3L1943.9 836.2M1943.9 836.2L1938.5 820.0M1938.5 820.0L1956.2 820.0M1956.2 820.0L1958.1 816.9M1958.1 816.9L1931.1 806.1M1931.1 806.1L1928.4 790.0M1928.4 790.0L1939.2 776.5M1939.2 776.5L1941.9 765.7M1941.9 765.7L1925.7 760.3M1925.7 760.3L1909.5 765.7M1909.5 765.7L1896.1 754.9M1896.1 754.9L1882.6 757.6M1882.6 757.6L1866.4 749.5M1866.4 749.5L1855.6 754.9M1855.6 754.9L1850.2 741.5M1850.2 741.5L1828.7 752.2M1828.7 752.2L1804.4 728.0M1804.4 728.0L1774.8 711.8M1774.8 711.8L1764.7 696.6M1865.7 976.3L1860.3 965.6M1860.3 965.6L1844.2 954.8M1844.2 954.8L1833.4 946.7M1866.5 495.4L1856.0 485.0M1856.0 485.0L1852.8 449.4M1852.8 449.4L1849.9 440.8M1866.5 420.9L1868.9 420.3M1868.9 420.3L1869.1 420.3M1899.5 433.7L1902.0 434.1M1902.0 434.1L1905.8 434.6M1942.8 424.5L1961.1 417.0M1961.1 417.0L1966.0 404.1M1966.0 404.1L1974.1 396.0M1974.1 396.0L1975.2 396.0M1897.6 434.6L1909.4 449.4M1909.4 449.4L1940.9 480.9M1948.5 488.3L1979.4 504.1M1985.0 506.3L2001.2 512.3M2001.2 512.3L2001.4 512.9M1961.1 417.0L1942.8 424.7M1868.9 459.1L1873.8 475.3M1873.8 475.3L1873.8 481.7M1873.8 481.7L1872.2 493.0M1872.2 493.0L1877.0 499.5M1877.0 499.5L1885.1 506.0M1885.1 506.0L1883.5 514.1M1883.5 514.1L1893.2 512.5M1893.2 512.5L1896.4 514.1M1896.4 514.1L1891.6 518.9M1892.4 519.7L1904.2 515.0M1904.2 515.0L1916.6 503.6M1935.8 493.9L1946.1 489.1M1895.2 433.6L1886.7 436.4M1886.7 436.4L1877.0 442.9M1877.0 442.9L1868.9 459.1M1901.3 481.7L1893.2 475.3M1893.2 475.3L1877.0 475.3M1877.0 475.3L1872.2 468.8M1872.2 468.8L1883.5 452.6M1883.5 452.6L1893.2 447.8M1893.2 447.8L1906.1 446.1M1906.1 446.1L1907.8 451.0M1907.8 451.0L1902.9 457.5M1902.9 457.5L1904.5 473.6M1904.5 473.6L1901.3 481.7M1898.4 523.5L1898.8 523.1M1898.8 523.1L1896.0 522.2M2392.8 916.0L2380.4 923.4M2380.4 923.4L2366.9 934.2M2366.9 934.2L2365.0 940.0M2365.0 940.0L2362.7 940.0M2362.7 940.0L2357.4 956.2M2357.4 956.2L2358.2 959.7M2340.0 816.6L2338.5 816.1M2338.5 816.1L2325.0 818.8M2325.0 818.8L2316.9 837.6M2316.9 837.6L2303.3 844.5M2300.8 845.7L2300.8 856.5M2300.8 857.8L2303.5 861.9M2303.5 861.9L2314.2 872.7M2314.2 872.7L2315.6 875.4M2171.7 778.3L2171.9 775.8M2171.9 775.8L2171.9 775.6L2182.2 772.9M2168.8 807.7L2168.7 808.0M2168.7 808.0L2155.2 813.4M2207.8 853.1L2222.6 845.7M2222.6 845.7L2249.5 840.3M2249.5 840.3L2265.7 832.2M2265.7 832.2L2276.5 824.2M2209.1 775.6L2217.2 762.2M2217.2 762.2L2203.7 754.1M2174.1 733.3L2174.1 746.0M2174.1 746.0L2179.5 764.9M2179.5 764.9L2171.4 775.6M2171.4 775.6L2171.4 775.9M1842.9 617.9L1863.7 625.9M1863.7 625.9L1890.7 636.3M1890.7 636.3L1909.5 630.9M1909.5 630.9L1925.7 628.2M1925.7 628.2L1936.5 606.7M1936.5 606.7L1947.3 587.8M1947.3 587.8L1958.1 606.7M1958.1 606.7L1971.5 609.4M1971.5 609.4L1976.9 593.2M1976.9 593.2L1980.0 588.1M1980.0 588.1L1980.0 581.6M1980.0 581.6L1988.1 576.2M1988.1 576.2L1999.0 577.7M1999.0 577.7L2011.9 575.9M2011.9 575.9L2020.2 571.1M2001.3 512.9L2001.2 512.3M1946.1 489.1L1935.8 493.9M1916.6 503.6L1904.2 515.0M1927.3 962.5L1925.0 944.0M1925.0 944.0L1927.7 927.8M1927.7 927.8L1929.5 927.8M1929.5 927.8L1927.7 922.4M1927.7 922.4L1941.2 906.3M1941.2 906.3L1941.2 890.1M1941.2 890.1L1930.4 887.4M1930.4 887.4L1911.5 879.3M1911.5 879.3L1907.8 877.0M1899.5 872.1L1898.1 871.2M1876.5 825.4L1860.3 828.1M2366.9 934.2L2361.1 940.0M2361.1 940.0L2340.0 940.0M2340.0 940.0L2340.0 923.4M2340.0 923.4L2353.5 912.6M2303.5 861.9L2276.5 894.2M2276.5 894.2L2276.5 910.4M2276.5 910.4L2265.7 921.2M2249.5 940.0L2257.6 950.8M2230.7 797.2L2249.5 797.2M2249.5 797.2L2260.3 791.8M2260.3 791.8L2265.7 775.6M2265.7 775.6L2261.2 759.9M2114.8 786.4L2120.2 802.6M2120.2 802.6L2114.8 818.8M2121.6 714.5L2117.5 713.6L2118.2 714.0M2118.2 714.0L2139.0 724.4M2139.0 724.4L2144.4 735.2M2144.4 735.2L2133.6 748.7M2133.6 748.7L2128.2 770.2M2128.2 770.2L2114.8 786.4M1929.5 927.8L1952.0 927.8M1980.0 917.4L1980.0 910.4M1980.0 910.4L2007.0 907.7M2007.0 907.7L2009.6 888.8M2009.6 888.8L2004.3 867.3M2004.3 867.3L1996.2 851.1M1984.0 755.4L1980.0 754.1M1980.0 754.1L1980.0 756.2M1962.4 766.2L1939.2 776.5M1863.7 625.6L1863.7 625.9M1863.7 625.9L1863.7 641.7M1863.7 641.7L1877.2 649.8M1877.2 649.8L1893.4 652.5M1893.4 652.5L1898.8 674.1M1898.8 674.1L1909.5 690.2M1909.5 690.2L1914.9 709.1M1914.9 709.1L1925.7 698.3M1925.7 698.3L1939.2 701.0M1939.2 701.0L1947.3 714.5M1947.3 714.5L1962.9 711.9M1962.9 711.9L1965.9 704.7M1962.9 683.8L1955.4 668.7M1955.4 668.7L1958.1 633.6M1958.1 633.6L1963.5 620.2M1963.5 620.2L1971.5 609.4M1890.7 636.3L1863.7 625.6M2233.4 937.4L2238.8 937.4M2299.7 856.3L2298.1 853.8M2298.1 853.8L2281.9 843.0M2281.9 843.0L2265.7 840.3M2265.7 840.3L2249.5 845.7M2249.5 845.7L2249.5 847.5M2093.2 824.2L2100.2 826.8M1980.0 975.0L1988.1 972.3M2118.2 714.0L2121.6 714.5M2121.6 714.5L2120.4 713.4M1980.0 753.3L1963.5 754.9M1963.5 754.9L1971.5 738.8M1971.5 738.8L1960.8 717.2M1960.8 717.2L1962.9 711.9M1863.7 625.6L1843.0 617.8M2510.0 741.3L2512.5 753.6M2512.5 753.6L2528.6 759.0M2528.6 759.0L2544.8 750.9M2544.8 750.9L2561.0 749.6M2561.0 749.6L2569.1 756.3M2569.1 756.3L2569.1 772.5M2569.1 772.5L2555.6 788.6M2555.6 788.6L2552.9 804.8M2552.9 804.8L2547.5 815.6M2547.5 815.6L2544.8 837.2M2544.8 837.2L2534.0 839.8M2534.0 839.8L2520.6 850.6M2520.6 850.6L2516.2 845.4M2516.2 845.4L2516.5 846.7M2571.8 815.6L2579.8 812.9M2579.8 812.9L2583.9 821.0M2583.9 821.0L2577.2 839.8M2577.2 839.8L2571.8 837.2M2571.8 837.2L2571.8 815.6M2524.9 819.4L2528.6 815.6M2528.6 815.6L2517.9 804.8M2517.9 804.8L2509.8 785.9M2509.8 785.9L2504.4 769.8M2504.4 769.8L2503.7 769.2M2488.8 884.6L2495.8 870.6M2483.9 747.0L2486.9 746.9M2490.9 759.0L2487.2 746.7M2364.6 738.6L2377.7 737.7M1941.2 1030.2L1952.0 1043.7M1952.0 1043.7L1980.0 1038.6M1980.0 1038.6L1980.0 1037.0M1980.0 1037.0L1988.1 1039.7M1988.1 1039.7L1988.1 1064.0M1988.1 1064.0L1980.0 1066.7M1980.0 1066.7L1980.0 1063.2M1980.0 1063.2L1968.1 1068.0M1968.1 1068.0L1962.7 1078.8M1962.7 1078.8L1965.4 1089.5M1923.0 1248.4L1924.9 1268.9M1924.9 1268.9L1930.2 1282.4M1930.2 1282.4L1943.7 1285.1M1943.7 1285.1L1951.8 1290.5M1951.8 1290.5L1962.6 1287.8M1962.6 1287.8L1973.4 1293.2M1973.4 1293.2L1981.5 1301.3M1981.5 1301.3L1989.5 1314.8M1989.5 1314.8L1978.8 1336.3M1978.8 1336.3L1989.5 1328.2M1989.5 1328.2L2030.0 1312.1M2030.0 1312.1L2043.5 1309.4M2043.5 1309.4L2061.1 1306.9M2253.2 1053.5L2222.6 1058.6M2222.6 1058.6L2206.4 1053.2M2206.4 1053.2L2192.9 1039.7M2192.9 1039.7L2195.6 1028.9M2195.6 1028.9L2184.9 1020.9M2184.9 1020.9L2168.7 1026.3M2168.7 1026.3L2157.9 1020.9M2157.9 1020.9L2155.2 993.9M2155.2 993.9L2144.4 999.3M2144.4 999.3L2147.1 1020.9M2147.1 1020.9L2141.7 1039.7M2141.7 1039.7L2128.2 1034.3M2128.2 1034.3L2114.8 1045.1M2114.8 1045.1L2101.3 1047.8M2101.3 1047.8L2087.8 1042.4M2087.8 1042.4L2074.3 1042.4M2074.3 1042.4L2071.6 1028.9M2071.6 1028.9L2074.3 1007.4M2074.3 1007.4L2071.6 993.9M2071.6 993.9L2074.3 983.1M2074.3 983.1L2068.9 975.0M1980.0 978.6L1980.0 998.4M1980.0 998.4L1962.7 1003.3M1962.7 1003.3L1952.0 1014.1M1952.0 1014.1L1941.2 1030.2M1969.8 702.8L1976.9 701.0M1976.9 701.0L1980.0 684.2M1980.0 684.2L1980.0 648.9M1980.0 648.9L1985.4 648.9M1985.4 648.9L1996.2 638.2M1996.2 638.2L2007.0 640.9M2007.0 640.9L2006.8 641.9M2041.6 670.3L2042.0 670.5L2052.8 675.9M2020.1 571.0L2011.9 575.9M2516.4 846.7L2516.2 845.4M2377.7 737.7L2364.7 738.9M1965.8 704.6L1962.9 711.9"/>
</g>
<g font-family="Liberation Sans,Arial,sans-serif" font-size="10.4" fill="#fff" text-anchor="middle">
<text x="1896" y="385" textLength="98" lengthAdjust="spacingAndGlyphs">Pakistan-administered</text>
<text x="1896.5" y="396.8" textLength="35.5" lengthAdjust="spacingAndGlyphs">Kashmir</text>
<text x="1937.6" y="464" textLength="87.3" lengthAdjust="spacingAndGlyphs">Indian-administered</text>
<text x="1937.7" y="475.6" textLength="35.6" lengthAdjust="spacingAndGlyphs">Kashmir</text>
</g>
<!-- logo -->
<g transform="translate(70 1340) scale(0.09434)" fill="none" stroke="#6b6b6b" stroke-linecap="round" stroke-linejoin="round">
<path d="M662 98C604 128 592 232 655 318C760 455 962 700 1012 900C1052 1062 982 1200 822 1226C782 1232 752 1222 738 1212" stroke-width="56"/>
<path d="M636 332C598 402 640 462 720 560C800 660 880 760 862 860C844 940 762 992 722 1040C690 1080 700 1150 742 1212" stroke-width="46"/>
<path d="M565 440C566 600 486 760 455 900C424 1050 444 1200 522 1300C562 1350 622 1392 682 1402" stroke-width="48"/>
<path d="M540 545C420 605 282 682 252 822C232 962 252 1100 322 1200C382 1270 462 1290 522 1282" stroke-width="44"/>
<path d="M610 360C600 450 560 560 530 680C500 800 520 930 560 1020" stroke-width="30"/>
<path d="M655 810L742 705" stroke-width="22"/>
<path d="M760 845L880 725" stroke-width="46"/>
<path d="M575 1000C655 950 765 880 835 800" stroke-width="40"/>
<path d="M380 800C355 770 380 750 410 745" stroke-width="16"/>
<path d="M770 1300C760 1325 780 1345 810 1345" stroke-width="16"/>
<ellipse cx="330" cy="1030" rx="50" ry="66" stroke-width="48"/>
</g>
<g transform="translate(70 1340) scale(0.09434)" fill="#6b6b6b">
<circle cx="540" cy="432" r="36"/><circle cx="488" cy="505" r="34"/>
<rect x="674" y="946" width="52" height="52" transform="rotate(45 700 972)"/>
<rect x="846" y="1056" width="52" height="52" transform="rotate(45 872 1082)"/>
<rect x="566" y="1196" width="52" height="52" transform="rotate(45 592 1222)"/>
<rect x="549" y="1296" width="52" height="52" transform="rotate(45 575 1322)"/>
</g>
<g>
<rect x="58.6" y="1534.6" width="141.2" height="48.8" rx="2.2" fill="#000"/>
<rect x="59.8" y="1535.8" width="138.8" height="33.6" rx="1.5" fill="#a4a9a2"/>
<circle cx="82.8" cy="1557.1" r="18.6" fill="#a4a9a2"/>
<circle cx="82.8" cy="1557.1" r="17.2" fill="#000"/>
<circle cx="82.8" cy="1557.1" r="14.6" fill="#fff"/>
<text x="82.6" y="1561.4" font-family="Liberation Sans,Arial,sans-serif" font-weight="bold" font-size="21" text-anchor="middle" fill="#000" textLength="21.5" lengthAdjust="spacingAndGlyphs">cc</text>
<circle cx="119.4" cy="1552" r="13.2" fill="#000"/><circle cx="119.4" cy="1552" r="10.9" fill="#fff"/>
<circle cx="150.2" cy="1552" r="13.2" fill="#000"/><circle cx="150.2" cy="1552" r="10.9" fill="#fff"/>
<circle cx="181.3" cy="1552" r="13.2" fill="#000"/><circle cx="181.3" cy="1552" r="10.9" fill="#fff"/>
<circle cx="119.4" cy="1544.9" r="2.4" fill="#000"/>
<path d="M116 1548.2H122.9V1553.6H121.6V1560.6H117.3V1553.6H116Z" fill="#000"/>
<text x="150.2" y="1557.6" font-family="Liberation Sans,Arial,sans-serif" font-weight="bold" font-size="16" text-anchor="middle" fill="#000">$</text>
<path d="M141.2 1545.6L161 1556.2" stroke="#000" stroke-width="2.6"/>
<path d="M177.4 1549.6A5.4 5.6 0 1 1 177.6 1555.2" fill="none" stroke="#000" stroke-width="2.6"/>
<path d="M174.2 1548.6L180.2 1548.6L177.2 1553Z" fill="#000"/>
<text x="118.8" y="1581" font-family="Liberation Sans,Arial,sans-serif" font-weight="bold" font-size="10.6" text-anchor="middle" fill="#fff">BY</text>
<text x="149.6" y="1581" font-family="Liberation Sans,Arial,sans-serif" font-weight="bold" font-size="10.6" text-anchor="middle" fill="#fff">NC</text>
<text x="180.1" y="1581" font-family="Liberation Sans,Arial,sans-serif" font-weight="bold" font-size="10.6" text-anchor="middle" fill="#fff">SA</text>
</g>
</svg>
</body></html>
